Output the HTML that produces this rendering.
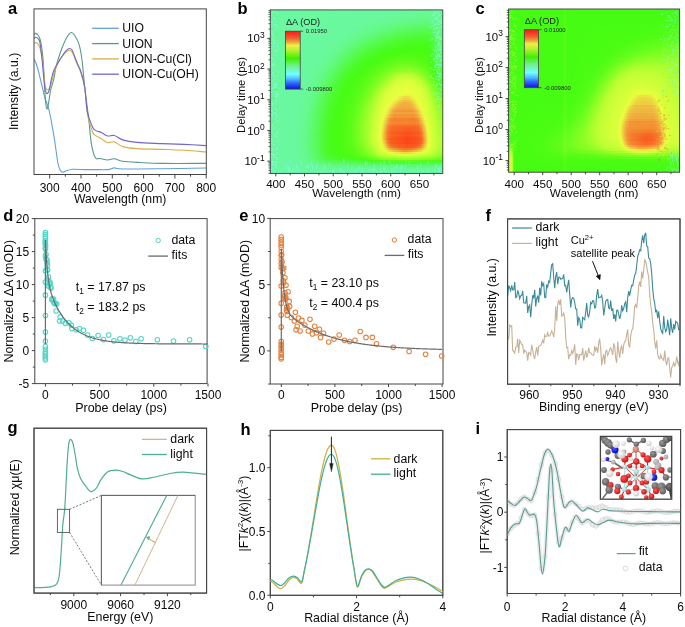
<!DOCTYPE html>
<html><head><meta charset="utf-8"><style>
html,body{margin:0;padding:0;background:#fff;width:685px;height:627px;overflow:hidden}
svg{display:block;filter:blur(0.35px)}
text{font-family:"Liberation Sans", sans-serif}
</style></head><body>
<svg width="685" height="627" viewBox="0 0 685 627" font-family='"Liberation Sans", sans-serif'>
<defs><clipPath id="clipa"><rect x="34" y="8.9" width="172.3" height="165.6"/></clipPath><clipPath id="clipg"><rect x="34" y="428.2" width="172.6" height="164.9"/></clipPath><clipPath id="clipi"><rect x="507.2" y="429.6" width="173.4" height="163.9"/></clipPath><clipPath id="clipmol"><rect x="600.4" y="436.4" width="71.3" height="62.8"/></clipPath></defs>
<rect width="685" height="627" fill="#fff"/>
<g clip-path="url(#clipa)">
<path d="M34,59 C34.5,60.17 35.8,62.08 37,66 C38.2,69.92 39.87,77.17 41.2,82.5 C42.53,87.83 43.68,93.37 45,98 C46.32,102.63 47.62,104 49.1,110.3 C50.58,116.6 52.43,127.02 53.9,135.8 C55.37,144.58 56.8,157.22 57.9,163 C59,168.78 59.7,168.97 60.5,170.5 C61.3,172.03 61.78,172.12 62.7,172.2 C63.62,172.28 64.4,171.48 66,171 C67.6,170.52 69.13,169.53 72.3,169.3 C75.47,169.07 81.22,169.55 85,169.6 C88.78,169.65 91.23,169.6 95,169.6 C98.77,169.6 104.38,169.88 107.6,169.6 C110.82,169.32 111.78,168 114.3,167.9 C116.82,167.8 114.75,168.87 122.7,169 C130.65,169.13 148.12,168.87 162,168.7 C175.88,168.53 198.67,168.12 206,168" stroke="#62a0d8" stroke-width="1.1" fill="none"/>
<path d="M34,34.5 C34.25,34.32 34.83,33.32 35.5,33.4 C36.17,33.48 37.25,34.07 38,35 C38.75,35.93 39.37,36.83 40,39 C40.63,41.17 41.28,44.5 41.8,48 C42.32,51.5 42.73,55.5 43.1,60 C43.47,64.5 43.68,69.17 44,75 C44.32,80.83 44.7,90.17 45,95 C45.3,99.83 45.5,101.73 45.8,104 C46.1,106.27 46.43,108.18 46.8,108.6 C47.17,109.02 47.35,109.6 48,106.5 C48.65,103.4 49.77,94.42 50.7,90 C51.63,85.58 52.72,83.83 53.6,80 C54.48,76.17 55.28,70.33 56,67 C56.72,63.67 56.9,63.17 57.9,60 C58.9,56.83 60.48,51.83 62,48 C63.52,44.17 65.45,39.58 67,37 C68.55,34.42 69.97,32.67 71.3,32.5 C72.63,32.33 73.7,33.98 75,36 C76.3,38.02 77.93,40.6 79.1,44.6 C80.27,48.6 81.07,52.93 82,60 C82.93,67.07 83.87,79.5 84.7,87 C85.53,94.5 86.28,99.25 87,105 C87.72,110.75 88.27,115.03 89,121.5 C89.73,127.97 90.33,137.75 91.4,143.8 C92.47,149.85 93.97,155.35 95.4,157.8 C96.83,160.25 97.97,158.13 100,158.5 C102.03,158.87 105.22,159.97 107.6,160 C109.98,160.03 111.78,158.5 114.3,158.7 C116.82,158.9 118.42,160.57 122.7,161.2 C126.98,161.83 133.45,162.13 140,162.5 C146.55,162.87 151,163.25 162,163.4 C173,163.55 198.67,163.4 206,163.4" stroke="#559a8c" stroke-width="1.1" fill="none"/>
<path d="M34,43.4 C34.33,43.25 35.33,42.4 36,42.5 C36.67,42.6 37.33,43.08 38,44 C38.67,44.92 39.23,45.33 40,48 C40.77,50.67 42.02,56.33 42.6,60 C43.18,63.67 43.18,66.67 43.5,70 C43.82,73.33 44.2,77.33 44.5,80 C44.8,82.67 44.95,84.43 45.3,86 C45.65,87.57 46.12,88.8 46.6,89.4 C47.08,90 47.67,89.92 48.2,89.6 C48.73,89.28 49.33,88.43 49.8,87.5 C50.27,86.57 50.6,85.25 51,84 C51.4,82.75 51.53,82.33 52.2,80 C52.87,77.67 53.8,73.33 55,70 C56.2,66.67 58.23,62.25 59.4,60 C60.57,57.75 61.07,57.67 62,56.5 C62.93,55.33 63.92,54.02 65,53 C66.08,51.98 67.33,50.57 68.5,50.4 C69.67,50.23 70.6,49.82 72,52 C73.4,54.18 75.4,60 76.9,63.5 C78.4,67 79.7,68.92 81,73 C82.3,77.08 83.63,81.17 84.7,88 C85.77,94.83 86.15,106.83 87.4,114 C88.65,121.17 90.93,127.47 92.2,131 C93.47,134.53 93.42,133.87 95,135.2 C96.58,136.53 99.6,137.75 101.7,139 C103.8,140.25 105.5,142.22 107.6,142.7 C109.7,143.18 111.78,141.25 114.3,141.9 C116.82,142.55 118.92,145.48 122.7,146.6 C126.48,147.72 130.45,148.13 137,148.6 C143.55,149.07 154.17,149.12 162,149.4 C169.83,149.68 176.67,149.87 184,150.3 C191.33,150.73 202.33,151.72 206,152" stroke="#d6ae44" stroke-width="1.1" fill="none"/>
<path d="M34,38.4 C34.27,38.22 34.93,37.28 35.6,37.3 C36.27,37.32 37.27,37.55 38,38.5 C38.73,39.45 39.32,39.42 40,43 C40.68,46.58 41.6,55.5 42.1,60 C42.6,64.5 42.68,66.67 43,70 C43.32,73.33 43.67,76.92 44,80 C44.33,83.08 44.62,86.33 45,88.5 C45.38,90.67 45.83,92.22 46.3,93 C46.77,93.78 47.27,93.87 47.8,93.2 C48.33,92.53 48.93,91.2 49.5,89 C50.07,86.8 50.45,83.17 51.2,80 C51.95,76.83 52.57,73.33 54,70 C55.43,66.67 58.47,62.25 59.8,60 C61.13,57.75 61.13,57.83 62,56.5 C62.87,55.17 63.92,53.28 65,52 C66.08,50.72 67.33,49.13 68.5,48.8 C69.67,48.47 70.6,47.73 72,50 C73.4,52.27 75.4,58.73 76.9,62.4 C78.4,66.07 79.7,67.9 81,72 C82.3,76.1 83.63,80.35 84.7,87 C85.77,93.65 86.15,105.35 87.4,111.9 C88.65,118.45 90.93,123.27 92.2,126.3 C93.47,129.33 93.42,129.03 95,130.1 C96.58,131.17 99.6,131.72 101.7,132.7 C103.8,133.68 105.5,135.53 107.6,136 C109.7,136.47 111.78,134.85 114.3,135.5 C116.82,136.15 118.92,138.75 122.7,139.9 C126.48,141.05 130.43,141.78 137,142.4 C143.57,143.02 154.27,143.27 162.1,143.6 C169.93,143.93 176.68,144.07 184,144.4 C191.32,144.73 202.33,145.4 206,145.6" stroke="#7266cc" stroke-width="1.1" fill="none"/>
</g>
<rect x="34" y="8.9" width="172.3" height="165.6" stroke="#454545" stroke-width="1" fill="none"/>
<line x1="49.7" y1="174.5" x2="49.7" y2="178.5" stroke="#454545" stroke-width="1"/>
<text x="49.7" y="191.6" font-size="12" text-anchor="middle" fill="#0a0a0a">300</text>
<line x1="81" y1="174.5" x2="81" y2="178.5" stroke="#454545" stroke-width="1"/>
<text x="81" y="191.6" font-size="12" text-anchor="middle" fill="#0a0a0a">400</text>
<line x1="112.3" y1="174.5" x2="112.3" y2="178.5" stroke="#454545" stroke-width="1"/>
<text x="112.3" y="191.6" font-size="12" text-anchor="middle" fill="#0a0a0a">500</text>
<line x1="143.6" y1="174.5" x2="143.6" y2="178.5" stroke="#454545" stroke-width="1"/>
<text x="143.6" y="191.6" font-size="12" text-anchor="middle" fill="#0a0a0a">600</text>
<line x1="174.9" y1="174.5" x2="174.9" y2="178.5" stroke="#454545" stroke-width="1"/>
<text x="174.9" y="191.6" font-size="12" text-anchor="middle" fill="#0a0a0a">700</text>
<line x1="206.2" y1="174.5" x2="206.2" y2="178.5" stroke="#454545" stroke-width="1"/>
<text x="206.2" y="191.6" font-size="12" text-anchor="middle" fill="#0a0a0a">800</text>
<line x1="65.35" y1="174.5" x2="65.35" y2="176.7" stroke="#454545" stroke-width="1"/>
<line x1="96.65" y1="174.5" x2="96.65" y2="176.7" stroke="#454545" stroke-width="1"/>
<line x1="127.95" y1="174.5" x2="127.95" y2="176.7" stroke="#454545" stroke-width="1"/>
<line x1="159.25" y1="174.5" x2="159.25" y2="176.7" stroke="#454545" stroke-width="1"/>
<line x1="190.55" y1="174.5" x2="190.55" y2="176.7" stroke="#454545" stroke-width="1"/>
<text x="120.2" y="202.8" font-size="12.2" text-anchor="middle" fill="#0a0a0a">Wavelength (nm)</text>
<text x="17.6" y="91.4" font-size="12.2" text-anchor="middle" fill="#0a0a0a" transform="rotate(-90 17.6 91.4)">Intensity (a.u.)</text>
<text x="8" y="13.6" font-size="16.5" text-anchor="start" font-weight="bold" fill="#000">a</text>
<line x1="92.2" y1="28.3" x2="118.8" y2="28.3" stroke="#62a0d8" stroke-width="1.3"/>
<text x="122.2" y="32.2" font-size="12.2" text-anchor="start" fill="#0a0a0a">UIO</text>
<line x1="92.2" y1="43.6" x2="118.8" y2="43.6" stroke="#559a8c" stroke-width="1.3"/>
<text x="122.2" y="47.5" font-size="12.2" text-anchor="start" fill="#0a0a0a">UION</text>
<line x1="92.2" y1="58.9" x2="118.8" y2="58.9" stroke="#d6ae44" stroke-width="1.3"/>
<text x="122.2" y="62.8" font-size="12.2" text-anchor="start" fill="#0a0a0a">UION-Cu(Cl)</text>
<line x1="92.2" y1="74.2" x2="118.8" y2="74.2" stroke="#7266cc" stroke-width="1.3"/>
<text x="122.2" y="78.1" font-size="12.2" text-anchor="start" fill="#0a0a0a">UION-Cu(OH)</text>
<defs><linearGradient id="b0"><stop offset="0.003" stop-color="#6af8a2"/><stop offset="0.685" stop-color="#6af89e"/><stop offset="0.939" stop-color="#67f896"/><stop offset="0.997" stop-color="#69f89b"/></linearGradient>
<linearGradient id="b2"><stop offset="0.003" stop-color="#6af8a2"/><stop offset="0.668" stop-color="#6af89e"/><stop offset="0.934" stop-color="#67f994"/><stop offset="0.997" stop-color="#69f89b"/></linearGradient>
<linearGradient id="b4"><stop offset="0.003" stop-color="#6af8a2"/><stop offset="0.639" stop-color="#6af89e"/><stop offset="0.934" stop-color="#66f991"/><stop offset="0.997" stop-color="#68f899"/></linearGradient>
<linearGradient id="b6"><stop offset="0.003" stop-color="#6af8a2"/><stop offset="0.616" stop-color="#6af89e"/><stop offset="0.928" stop-color="#65f98c"/><stop offset="0.991" stop-color="#68f897"/><stop offset="0.997" stop-color="#68f897"/></linearGradient>
<linearGradient id="b8"><stop offset="0.003" stop-color="#6af8a2"/><stop offset="0.587" stop-color="#6af89e"/><stop offset="0.922" stop-color="#63f986"/><stop offset="0.986" stop-color="#67f994"/><stop offset="0.997" stop-color="#67f995"/></linearGradient>
<linearGradient id="b10"><stop offset="0.003" stop-color="#6af8a2"/><stop offset="0.558" stop-color="#6af89e"/><stop offset="0.922" stop-color="#62f97f"/><stop offset="0.986" stop-color="#66f991"/><stop offset="0.997" stop-color="#66f991"/></linearGradient>
<linearGradient id="b12"><stop offset="0.003" stop-color="#6af8a2"/><stop offset="0.535" stop-color="#6af89e"/><stop offset="0.916" stop-color="#5ff976"/><stop offset="0.945" stop-color="#62f97f"/><stop offset="0.980" stop-color="#65f98d"/><stop offset="0.997" stop-color="#65f98e"/></linearGradient>
<linearGradient id="b14"><stop offset="0.003" stop-color="#6af8a2"/><stop offset="0.512" stop-color="#6af89e"/><stop offset="0.668" stop-color="#65f98b"/><stop offset="0.905" stop-color="#5dfa6d"/><stop offset="0.934" stop-color="#5ef971"/><stop offset="0.974" stop-color="#64f987"/><stop offset="0.997" stop-color="#64f98a"/></linearGradient>
<linearGradient id="b16"><stop offset="0.003" stop-color="#6af8a2"/><stop offset="0.488" stop-color="#6af89e"/><stop offset="0.627" stop-color="#65f98d"/><stop offset="0.835" stop-color="#5cfa6a"/><stop offset="0.916" stop-color="#5afa63"/><stop offset="0.939" stop-color="#5dfa6c"/><stop offset="0.968" stop-color="#62f980"/><stop offset="0.997" stop-color="#63f985"/></linearGradient>
<linearGradient id="b18"><stop offset="0.003" stop-color="#6af8a2"/><stop offset="0.465" stop-color="#6af89f"/><stop offset="0.592" stop-color="#65f98e"/><stop offset="0.789" stop-color="#5bfa66"/><stop offset="0.910" stop-color="#58fa58"/><stop offset="0.934" stop-color="#59fa5f"/><stop offset="0.968" stop-color="#61f97b"/><stop offset="0.997" stop-color="#62f981"/></linearGradient>
<linearGradient id="b20"><stop offset="0.003" stop-color="#6af8a2"/><stop offset="0.448" stop-color="#6af89e"/><stop offset="0.569" stop-color="#65f98e"/><stop offset="0.766" stop-color="#5afa5f"/><stop offset="0.910" stop-color="#55fa4e"/><stop offset="0.934" stop-color="#57fa55"/><stop offset="0.968" stop-color="#5ff976"/><stop offset="0.997" stop-color="#61f97d"/></linearGradient>
<linearGradient id="b22"><stop offset="0.003" stop-color="#6af8a2"/><stop offset="0.431" stop-color="#6af89f"/><stop offset="0.546" stop-color="#65f98e"/><stop offset="0.749" stop-color="#58fa58"/><stop offset="0.905" stop-color="#52fb43"/><stop offset="0.928" stop-color="#54fb48"/><stop offset="0.951" stop-color="#5afa60"/><stop offset="0.968" stop-color="#5ef971"/><stop offset="0.997" stop-color="#60f978"/></linearGradient>
<linearGradient id="b24"><stop offset="0.003" stop-color="#6af8a2"/><stop offset="0.419" stop-color="#6af89e"/><stop offset="0.529" stop-color="#65f98c"/><stop offset="0.737" stop-color="#56fa4f"/><stop offset="0.899" stop-color="#50fb3a"/><stop offset="0.928" stop-color="#52fb40"/><stop offset="0.951" stop-color="#58fa59"/><stop offset="0.968" stop-color="#5dfa6c"/><stop offset="0.997" stop-color="#5ff975"/></linearGradient>
<linearGradient id="b26"><stop offset="0.003" stop-color="#6af8a2"/><stop offset="0.402" stop-color="#6af89e"/><stop offset="0.506" stop-color="#65f98d"/><stop offset="0.725" stop-color="#54fb48"/><stop offset="0.882" stop-color="#4efb31"/><stop offset="0.922" stop-color="#4ffb35"/><stop offset="0.939" stop-color="#52fb43"/><stop offset="0.962" stop-color="#5afa63"/><stop offset="0.986" stop-color="#5efa70"/><stop offset="0.997" stop-color="#5ef971"/></linearGradient>
<linearGradient id="b28"><stop offset="0.003" stop-color="#6af8a2"/><stop offset="0.390" stop-color="#6af89e"/><stop offset="0.483" stop-color="#65f98e"/><stop offset="0.708" stop-color="#52fb42"/><stop offset="0.841" stop-color="#4dfb2d"/><stop offset="0.910" stop-color="#4cfb2a"/><stop offset="0.928" stop-color="#4efb31"/><stop offset="0.945" stop-color="#53fb46"/><stop offset="0.968" stop-color="#5bfa64"/><stop offset="0.991" stop-color="#5dfa6d"/><stop offset="0.997" stop-color="#5dfa6e"/></linearGradient>
<linearGradient id="b30"><stop offset="0.003" stop-color="#6af8a2"/><stop offset="0.379" stop-color="#6af89e"/><stop offset="0.465" stop-color="#65f98e"/><stop offset="0.691" stop-color="#51fb3c"/><stop offset="0.806" stop-color="#4cfb29"/><stop offset="0.910" stop-color="#4afc23"/><stop offset="0.928" stop-color="#4cfb2b"/><stop offset="0.945" stop-color="#52fb41"/><stop offset="0.962" stop-color="#59fa5b"/><stop offset="0.980" stop-color="#5cfa68"/><stop offset="0.997" stop-color="#5dfa6c"/></linearGradient>
<linearGradient id="b32"><stop offset="0.003" stop-color="#6af8a2"/><stop offset="0.361" stop-color="#6af89f"/><stop offset="0.448" stop-color="#66f98f"/><stop offset="0.673" stop-color="#50fb38"/><stop offset="0.777" stop-color="#4bfc24"/><stop offset="0.905" stop-color="#49fc1d"/><stop offset="0.928" stop-color="#4bfb26"/><stop offset="0.945" stop-color="#51fb3d"/><stop offset="0.962" stop-color="#58fa59"/><stop offset="0.980" stop-color="#5bfa66"/><stop offset="0.997" stop-color="#5cfa69"/></linearGradient>
<linearGradient id="b34"><stop offset="0.003" stop-color="#6af8a2"/><stop offset="0.355" stop-color="#6af89e"/><stop offset="0.436" stop-color="#65f98e"/><stop offset="0.645" stop-color="#50fb38"/><stop offset="0.743" stop-color="#4afc22"/><stop offset="0.899" stop-color="#48fc18"/><stop offset="0.922" stop-color="#49fc1e"/><stop offset="0.939" stop-color="#4efb31"/><stop offset="0.962" stop-color="#57fa56"/><stop offset="0.980" stop-color="#5bfa64"/><stop offset="0.997" stop-color="#5cfa68"/></linearGradient>
<linearGradient id="b36"><stop offset="0.003" stop-color="#6af8a2"/><stop offset="0.344" stop-color="#6af89e"/><stop offset="0.419" stop-color="#66f98f"/><stop offset="0.535" stop-color="#59fa5b"/><stop offset="0.645" stop-color="#4efb30"/><stop offset="0.743" stop-color="#48fc1b"/><stop offset="0.899" stop-color="#47fc14"/><stop offset="0.922" stop-color="#48fc1b"/><stop offset="0.939" stop-color="#4dfb2e"/><stop offset="0.962" stop-color="#57fa55"/><stop offset="0.980" stop-color="#5afa62"/><stop offset="0.997" stop-color="#5bfa66"/></linearGradient>
<linearGradient id="b38"><stop offset="0.003" stop-color="#6af8a2"/><stop offset="0.332" stop-color="#6af89e"/><stop offset="0.408" stop-color="#66f98f"/><stop offset="0.500" stop-color="#5bfa64"/><stop offset="0.604" stop-color="#4ffb35"/><stop offset="0.708" stop-color="#48fc1a"/><stop offset="0.824" stop-color="#47fc12"/><stop offset="0.910" stop-color="#46fc13"/><stop offset="0.928" stop-color="#49fc1d"/><stop offset="0.945" stop-color="#4ffb36"/><stop offset="0.962" stop-color="#56fa53"/><stop offset="0.980" stop-color="#5afa61"/><stop offset="0.997" stop-color="#5bfa65"/></linearGradient>
<linearGradient id="b40"><stop offset="0.003" stop-color="#6af8a2"/><stop offset="0.321" stop-color="#6af89e"/><stop offset="0.396" stop-color="#66f98f"/><stop offset="0.477" stop-color="#5cfa68"/><stop offset="0.575" stop-color="#4ffb37"/><stop offset="0.679" stop-color="#48fc1a"/><stop offset="0.749" stop-color="#47fc12"/><stop offset="0.905" stop-color="#48fc12"/><stop offset="0.922" stop-color="#47fc16"/><stop offset="0.939" stop-color="#4cfb2a"/><stop offset="0.962" stop-color="#56fa52"/><stop offset="0.980" stop-color="#5afa60"/><stop offset="0.997" stop-color="#5bfa64"/></linearGradient>
<linearGradient id="b42"><stop offset="0.003" stop-color="#6af8a2"/><stop offset="0.309" stop-color="#6af89f"/><stop offset="0.384" stop-color="#66f98f"/><stop offset="0.460" stop-color="#5cfa6a"/><stop offset="0.558" stop-color="#4ffb36"/><stop offset="0.656" stop-color="#48fc19"/><stop offset="0.708" stop-color="#48fc13"/><stop offset="0.847" stop-color="#4dfc14"/><stop offset="0.922" stop-color="#47fc15"/><stop offset="0.939" stop-color="#4cfb29"/><stop offset="0.962" stop-color="#56fa51"/><stop offset="0.980" stop-color="#5afa5f"/><stop offset="0.997" stop-color="#5bfa63"/></linearGradient>
<linearGradient id="b44"><stop offset="0.003" stop-color="#6af8a2"/><stop offset="0.303" stop-color="#6af89e"/><stop offset="0.373" stop-color="#66f98f"/><stop offset="0.442" stop-color="#5dfa6d"/><stop offset="0.540" stop-color="#4ffb36"/><stop offset="0.633" stop-color="#48fc19"/><stop offset="0.679" stop-color="#48fc13"/><stop offset="0.795" stop-color="#51fc15"/><stop offset="0.910" stop-color="#4afc13"/><stop offset="0.922" stop-color="#46fc13"/><stop offset="0.939" stop-color="#4bfb27"/><stop offset="0.962" stop-color="#56fa50"/><stop offset="0.980" stop-color="#59fa5e"/><stop offset="0.997" stop-color="#5afa62"/></linearGradient>
<linearGradient id="b46"><stop offset="0.003" stop-color="#6af8a2"/><stop offset="0.292" stop-color="#6af89e"/><stop offset="0.361" stop-color="#66f990"/><stop offset="0.431" stop-color="#5dfa6d"/><stop offset="0.529" stop-color="#4efb33"/><stop offset="0.616" stop-color="#47fc17"/><stop offset="0.662" stop-color="#4afc13"/><stop offset="0.777" stop-color="#56fc16"/><stop offset="0.905" stop-color="#4dfc14"/><stop offset="0.922" stop-color="#47fc12"/><stop offset="0.934" stop-color="#49fc1d"/><stop offset="0.962" stop-color="#55fa4e"/><stop offset="0.980" stop-color="#59fa5d"/><stop offset="0.997" stop-color="#5afa61"/></linearGradient>
<linearGradient id="b48"><stop offset="0.003" stop-color="#6af8a2"/><stop offset="0.286" stop-color="#69f89e"/><stop offset="0.355" stop-color="#65f98e"/><stop offset="0.425" stop-color="#5cfa69"/><stop offset="0.517" stop-color="#4efb32"/><stop offset="0.598" stop-color="#47fc17"/><stop offset="0.639" stop-color="#49fc13"/><stop offset="0.760" stop-color="#5bfd18"/><stop offset="0.870" stop-color="#55fc16"/><stop offset="0.916" stop-color="#4cfc14"/><stop offset="0.928" stop-color="#46fc14"/><stop offset="0.945" stop-color="#4dfb2e"/><stop offset="0.962" stop-color="#55fa4d"/><stop offset="0.980" stop-color="#59fa5b"/><stop offset="0.997" stop-color="#5afa60"/></linearGradient>
<linearGradient id="b50"><stop offset="0.003" stop-color="#6af8a2"/><stop offset="0.275" stop-color="#6af89e"/><stop offset="0.344" stop-color="#66f98f"/><stop offset="0.413" stop-color="#5cfa6a"/><stop offset="0.506" stop-color="#4efb30"/><stop offset="0.581" stop-color="#47fc17"/><stop offset="0.621" stop-color="#4afc13"/><stop offset="0.754" stop-color="#61fd19"/><stop offset="0.847" stop-color="#5dfd18"/><stop offset="0.916" stop-color="#4efc14"/><stop offset="0.928" stop-color="#47fc12"/><stop offset="0.939" stop-color="#4afc21"/><stop offset="0.962" stop-color="#54fa4a"/><stop offset="0.980" stop-color="#58fa5a"/><stop offset="0.997" stop-color="#59fa5e"/></linearGradient>
<linearGradient id="b52"><stop offset="0.003" stop-color="#6af8a2"/><stop offset="0.269" stop-color="#69f89e"/><stop offset="0.332" stop-color="#66f990"/><stop offset="0.396" stop-color="#5dfa6e"/><stop offset="0.494" stop-color="#4efb30"/><stop offset="0.569" stop-color="#47fc15"/><stop offset="0.616" stop-color="#4cfc14"/><stop offset="0.754" stop-color="#69fd1b"/><stop offset="0.835" stop-color="#65fd1b"/><stop offset="0.916" stop-color="#51fc15"/><stop offset="0.934" stop-color="#47fc15"/><stop offset="0.962" stop-color="#54fb48"/><stop offset="0.980" stop-color="#58fa57"/><stop offset="0.997" stop-color="#59fa5c"/></linearGradient>
<linearGradient id="b54"><stop offset="0.003" stop-color="#6af8a2"/><stop offset="0.257" stop-color="#6af89f"/><stop offset="0.321" stop-color="#66f991"/><stop offset="0.384" stop-color="#5efa6f"/><stop offset="0.483" stop-color="#4dfb2f"/><stop offset="0.552" stop-color="#47fc16"/><stop offset="0.592" stop-color="#4bfc13"/><stop offset="0.749" stop-color="#70fd1e"/><stop offset="0.824" stop-color="#6ffd1d"/><stop offset="0.910" stop-color="#58fc17"/><stop offset="0.934" stop-color="#47fc12"/><stop offset="0.962" stop-color="#53fb44"/><stop offset="0.980" stop-color="#57fa54"/><stop offset="0.997" stop-color="#58fa59"/></linearGradient>
<linearGradient id="b56"><stop offset="0.003" stop-color="#6af8a2"/><stop offset="0.251" stop-color="#6af89e"/><stop offset="0.315" stop-color="#66f990"/><stop offset="0.379" stop-color="#5dfa6d"/><stop offset="0.471" stop-color="#4dfb30"/><stop offset="0.540" stop-color="#47fc15"/><stop offset="0.587" stop-color="#4cfc14"/><stop offset="0.749" stop-color="#7afd20"/><stop offset="0.812" stop-color="#7afd20"/><stop offset="0.893" stop-color="#64fd1a"/><stop offset="0.928" stop-color="#51fc15"/><stop offset="0.939" stop-color="#47fc16"/><stop offset="0.962" stop-color="#52fb40"/><stop offset="0.980" stop-color="#56fa50"/><stop offset="0.997" stop-color="#57fa55"/></linearGradient>
<linearGradient id="b58"><stop offset="0.003" stop-color="#6af8a2"/><stop offset="0.246" stop-color="#6af89e"/><stop offset="0.309" stop-color="#66f98f"/><stop offset="0.373" stop-color="#5cfa6b"/><stop offset="0.460" stop-color="#4efb30"/><stop offset="0.523" stop-color="#47fc17"/><stop offset="0.558" stop-color="#49fc13"/><stop offset="0.650" stop-color="#63fd1a"/><stop offset="0.749" stop-color="#85fe23"/><stop offset="0.806" stop-color="#86fe24"/><stop offset="0.870" stop-color="#74fd1f"/><stop offset="0.922" stop-color="#5afd17"/><stop offset="0.939" stop-color="#47fc12"/><stop offset="0.968" stop-color="#52fb42"/><stop offset="0.991" stop-color="#56fa50"/><stop offset="0.997" stop-color="#56fa51"/></linearGradient>
<linearGradient id="b60"><stop offset="0.003" stop-color="#6af8a2"/><stop offset="0.240" stop-color="#6af89e"/><stop offset="0.303" stop-color="#65f98e"/><stop offset="0.367" stop-color="#5cfa69"/><stop offset="0.454" stop-color="#4dfb2d"/><stop offset="0.523" stop-color="#46fc13"/><stop offset="0.610" stop-color="#59fd17"/><stop offset="0.754" stop-color="#93fe27"/><stop offset="0.806" stop-color="#95fe27"/><stop offset="0.858" stop-color="#83fe23"/><stop offset="0.922" stop-color="#5ffd19"/><stop offset="0.945" stop-color="#47fc15"/><stop offset="0.962" stop-color="#4ffb34"/><stop offset="0.980" stop-color="#53fb46"/><stop offset="0.997" stop-color="#54fa4b"/></linearGradient>
<linearGradient id="b62"><stop offset="0.003" stop-color="#6af8a2"/><stop offset="0.234" stop-color="#6af89e"/><stop offset="0.292" stop-color="#66f990"/><stop offset="0.350" stop-color="#5efa6f"/><stop offset="0.442" stop-color="#4dfb2e"/><stop offset="0.506" stop-color="#47fc15"/><stop offset="0.558" stop-color="#4efc14"/><stop offset="0.633" stop-color="#67fd1b"/><stop offset="0.754" stop-color="#a4ff2c"/><stop offset="0.801" stop-color="#a7ff2c"/><stop offset="0.841" stop-color="#99fe29"/><stop offset="0.922" stop-color="#65fd1a"/><stop offset="0.945" stop-color="#49fc13"/><stop offset="0.962" stop-color="#4dfb2d"/><stop offset="0.980" stop-color="#51fb3f"/><stop offset="0.997" stop-color="#53fb45"/></linearGradient>
<linearGradient id="b64"><stop offset="0.003" stop-color="#6af8a2"/><stop offset="0.228" stop-color="#6af89e"/><stop offset="0.286" stop-color="#66f990"/><stop offset="0.344" stop-color="#5dfa6e"/><stop offset="0.431" stop-color="#4dfb30"/><stop offset="0.494" stop-color="#47fc15"/><stop offset="0.535" stop-color="#4bfc13"/><stop offset="0.610" stop-color="#62fd1a"/><stop offset="0.691" stop-color="#8efe26"/><stop offset="0.743" stop-color="#b1ff2f"/><stop offset="0.783" stop-color="#b9ff31"/><stop offset="0.824" stop-color="#b3ff30"/><stop offset="0.858" stop-color="#9dfe2a"/><stop offset="0.928" stop-color="#65fd1b"/><stop offset="0.951" stop-color="#47fc13"/><stop offset="0.974" stop-color="#4efb33"/><stop offset="0.997" stop-color="#51fb3d"/></linearGradient>
<linearGradient id="b66"><stop offset="0.003" stop-color="#6af8a2"/><stop offset="0.223" stop-color="#6af89e"/><stop offset="0.280" stop-color="#66f990"/><stop offset="0.338" stop-color="#5dfa6d"/><stop offset="0.425" stop-color="#4dfb2e"/><stop offset="0.488" stop-color="#47fc14"/><stop offset="0.564" stop-color="#55fc16"/><stop offset="0.639" stop-color="#77fd1f"/><stop offset="0.697" stop-color="#9ffe2a"/><stop offset="0.731" stop-color="#b9ff32"/><stop offset="0.772" stop-color="#c5ff35"/><stop offset="0.824" stop-color="#c0ff34"/><stop offset="0.853" stop-color="#b2ff2f"/><stop offset="0.934" stop-color="#65fd1a"/><stop offset="0.957" stop-color="#47fc14"/><stop offset="0.974" stop-color="#4cfb2a"/><stop offset="0.997" stop-color="#4ffb34"/></linearGradient>
<linearGradient id="b68"><stop offset="0.003" stop-color="#6af8a2"/><stop offset="0.217" stop-color="#6af89e"/><stop offset="0.275" stop-color="#66f990"/><stop offset="0.327" stop-color="#5ef971"/><stop offset="0.413" stop-color="#4efb30"/><stop offset="0.471" stop-color="#47fc17"/><stop offset="0.506" stop-color="#49fc13"/><stop offset="0.575" stop-color="#5cfd18"/><stop offset="0.650" stop-color="#85fe23"/><stop offset="0.720" stop-color="#beff33"/><stop offset="0.760" stop-color="#ceff38"/><stop offset="0.812" stop-color="#ceff38"/><stop offset="0.853" stop-color="#bdff33"/><stop offset="0.876" stop-color="#a9ff2d"/><stop offset="0.939" stop-color="#64fd1a"/><stop offset="0.962" stop-color="#47fc14"/><stop offset="0.986" stop-color="#4bfb28"/><stop offset="0.997" stop-color="#4cfb2b"/></linearGradient>
<linearGradient id="b70"><stop offset="0.003" stop-color="#6af8a2"/><stop offset="0.211" stop-color="#6af89e"/><stop offset="0.269" stop-color="#66f990"/><stop offset="0.321" stop-color="#5ef971"/><stop offset="0.408" stop-color="#4dfb2f"/><stop offset="0.465" stop-color="#47fc16"/><stop offset="0.500" stop-color="#4afc13"/><stop offset="0.569" stop-color="#5dfd18"/><stop offset="0.639" stop-color="#85fe23"/><stop offset="0.708" stop-color="#c0ff34"/><stop offset="0.749" stop-color="#d5ff3a"/><stop offset="0.801" stop-color="#d9ff3b"/><stop offset="0.841" stop-color="#ceff38"/><stop offset="0.882" stop-color="#b0ff2f"/><stop offset="0.951" stop-color="#5cfd18"/><stop offset="0.968" stop-color="#48fc13"/><stop offset="0.997" stop-color="#4afc21"/></linearGradient>
<linearGradient id="b72"><stop offset="0.003" stop-color="#6af8a2"/><stop offset="0.211" stop-color="#69f89e"/><stop offset="0.269" stop-color="#65f98e"/><stop offset="0.321" stop-color="#5dfa6c"/><stop offset="0.402" stop-color="#4dfb2e"/><stop offset="0.460" stop-color="#47fc15"/><stop offset="0.512" stop-color="#4efc14"/><stop offset="0.575" stop-color="#64fd1a"/><stop offset="0.639" stop-color="#8efe26"/><stop offset="0.691" stop-color="#bdff33"/><stop offset="0.737" stop-color="#d8ff3b"/><stop offset="0.789" stop-color="#dfff3d"/><stop offset="0.835" stop-color="#d8ff3b"/><stop offset="0.876" stop-color="#bfff33"/><stop offset="0.893" stop-color="#afff2f"/><stop offset="0.962" stop-color="#55fc16"/><stop offset="0.980" stop-color="#48fc13"/><stop offset="0.997" stop-color="#47fc16"/></linearGradient>
<linearGradient id="b74"><stop offset="0.003" stop-color="#6af8a2"/><stop offset="0.205" stop-color="#69f89e"/><stop offset="0.263" stop-color="#65f98e"/><stop offset="0.315" stop-color="#5dfa6c"/><stop offset="0.396" stop-color="#4dfb2d"/><stop offset="0.448" stop-color="#47fc16"/><stop offset="0.483" stop-color="#4afc13"/><stop offset="0.552" stop-color="#5dfd18"/><stop offset="0.616" stop-color="#83fe23"/><stop offset="0.656" stop-color="#a9ff2d"/><stop offset="0.685" stop-color="#c2ff34"/><stop offset="0.731" stop-color="#dbff3c"/><stop offset="0.789" stop-color="#e2ff3e"/><stop offset="0.841" stop-color="#dbff3c"/><stop offset="0.876" stop-color="#c8ff36"/><stop offset="0.899" stop-color="#b3ff30"/><stop offset="0.962" stop-color="#5dfd18"/><stop offset="0.986" stop-color="#4efc14"/><stop offset="0.997" stop-color="#4bfc13"/></linearGradient>
<linearGradient id="b76"><stop offset="0.003" stop-color="#6af8a2"/><stop offset="0.199" stop-color="#6af89e"/><stop offset="0.257" stop-color="#66f98e"/><stop offset="0.309" stop-color="#5dfa6d"/><stop offset="0.390" stop-color="#4dfb2d"/><stop offset="0.442" stop-color="#47fc16"/><stop offset="0.483" stop-color="#4bfc13"/><stop offset="0.546" stop-color="#5dfd18"/><stop offset="0.610" stop-color="#85fe23"/><stop offset="0.650" stop-color="#aeff2e"/><stop offset="0.697" stop-color="#d2ff39"/><stop offset="0.737" stop-color="#e0ff3d"/><stop offset="0.829" stop-color="#e1ff3d"/><stop offset="0.864" stop-color="#d6ff3a"/><stop offset="0.905" stop-color="#b5ff30"/><stop offset="0.957" stop-color="#6bfd1c"/><stop offset="0.980" stop-color="#58fc17"/><stop offset="0.997" stop-color="#53fc16"/></linearGradient>
<linearGradient id="b78"><stop offset="0.003" stop-color="#6af8a2"/><stop offset="0.194" stop-color="#6af89e"/><stop offset="0.251" stop-color="#66f98f"/><stop offset="0.303" stop-color="#5dfa6e"/><stop offset="0.384" stop-color="#4dfb2d"/><stop offset="0.436" stop-color="#47fc15"/><stop offset="0.477" stop-color="#4bfc13"/><stop offset="0.540" stop-color="#5efd18"/><stop offset="0.604" stop-color="#86fe23"/><stop offset="0.639" stop-color="#aaff2d"/><stop offset="0.668" stop-color="#c5ff35"/><stop offset="0.708" stop-color="#dcff3c"/><stop offset="0.772" stop-color="#e4ff3e"/><stop offset="0.853" stop-color="#dfff3d"/><stop offset="0.882" stop-color="#d1ff39"/><stop offset="0.910" stop-color="#b6ff31"/><stop offset="0.951" stop-color="#79fd20"/><stop offset="0.974" stop-color="#63fd1a"/><stop offset="0.997" stop-color="#5bfd18"/></linearGradient>
<linearGradient id="b80"><stop offset="0.003" stop-color="#6af8a2"/><stop offset="0.194" stop-color="#69f89e"/><stop offset="0.246" stop-color="#66f990"/><stop offset="0.298" stop-color="#5dfa6e"/><stop offset="0.379" stop-color="#4dfb2d"/><stop offset="0.431" stop-color="#47fc15"/><stop offset="0.471" stop-color="#4bfc13"/><stop offset="0.535" stop-color="#5efd19"/><stop offset="0.598" stop-color="#87fe24"/><stop offset="0.633" stop-color="#abff2e"/><stop offset="0.668" stop-color="#ccff37"/><stop offset="0.702" stop-color="#deff3c"/><stop offset="0.789" stop-color="#e6ff3f"/><stop offset="0.864" stop-color="#deff3c"/><stop offset="0.893" stop-color="#cdff37"/><stop offset="0.916" stop-color="#b5ff30"/><stop offset="0.951" stop-color="#80fe22"/><stop offset="0.974" stop-color="#6afd1c"/><stop offset="0.997" stop-color="#63fd1a"/></linearGradient>
<linearGradient id="b82"><stop offset="0.003" stop-color="#6af8a2"/><stop offset="0.188" stop-color="#69f89e"/><stop offset="0.240" stop-color="#66f990"/><stop offset="0.292" stop-color="#5efa70"/><stop offset="0.373" stop-color="#4dfb2e"/><stop offset="0.425" stop-color="#47fc15"/><stop offset="0.460" stop-color="#4afc13"/><stop offset="0.523" stop-color="#5cfd18"/><stop offset="0.587" stop-color="#83fe23"/><stop offset="0.621" stop-color="#a5ff2c"/><stop offset="0.645" stop-color="#beff33"/><stop offset="0.679" stop-color="#d9ff3b"/><stop offset="0.720" stop-color="#e3ff3e"/><stop offset="0.801" stop-color="#e9ff40"/><stop offset="0.876" stop-color="#dcff3c"/><stop offset="0.905" stop-color="#c6ff35"/><stop offset="0.922" stop-color="#b4ff30"/><stop offset="0.951" stop-color="#87fe24"/><stop offset="0.974" stop-color="#71fd1e"/><stop offset="0.997" stop-color="#6afd1c"/></linearGradient>
<linearGradient id="b84"><stop offset="0.003" stop-color="#6af8a2"/><stop offset="0.188" stop-color="#69f89e"/><stop offset="0.240" stop-color="#66f98f"/><stop offset="0.292" stop-color="#5dfa6c"/><stop offset="0.367" stop-color="#4dfb2e"/><stop offset="0.419" stop-color="#47fc16"/><stop offset="0.454" stop-color="#4afc13"/><stop offset="0.517" stop-color="#5cfd18"/><stop offset="0.581" stop-color="#83fe23"/><stop offset="0.616" stop-color="#a5ff2c"/><stop offset="0.639" stop-color="#beff33"/><stop offset="0.673" stop-color="#d9ff3b"/><stop offset="0.714" stop-color="#e3ff3e"/><stop offset="0.760" stop-color="#eafc40"/><stop offset="0.789" stop-color="#ebf440"/><stop offset="0.835" stop-color="#e6ff3f"/><stop offset="0.882" stop-color="#dbff3c"/><stop offset="0.910" stop-color="#c4ff35"/><stop offset="0.928" stop-color="#b1ff2f"/><stop offset="0.957" stop-color="#86fe23"/><stop offset="0.980" stop-color="#74fd1f"/><stop offset="0.997" stop-color="#70fd1d"/></linearGradient>
<linearGradient id="b86"><stop offset="0.003" stop-color="#6af8a2"/><stop offset="0.182" stop-color="#69f89e"/><stop offset="0.234" stop-color="#66f98f"/><stop offset="0.286" stop-color="#5dfa6d"/><stop offset="0.367" stop-color="#4cfb2b"/><stop offset="0.419" stop-color="#47fc14"/><stop offset="0.494" stop-color="#55fc16"/><stop offset="0.546" stop-color="#6ffd1d"/><stop offset="0.598" stop-color="#97fe28"/><stop offset="0.633" stop-color="#beff33"/><stop offset="0.668" stop-color="#d9ff3b"/><stop offset="0.708" stop-color="#e4ff3e"/><stop offset="0.737" stop-color="#eafc40"/><stop offset="0.777" stop-color="#eddd40"/><stop offset="0.795" stop-color="#eddd40"/><stop offset="0.818" stop-color="#ebee40"/><stop offset="0.835" stop-color="#eafd40"/><stop offset="0.887" stop-color="#daff3b"/><stop offset="0.922" stop-color="#bcff32"/><stop offset="0.957" stop-color="#8cfe25"/><stop offset="0.980" stop-color="#7afd20"/><stop offset="0.997" stop-color="#76fd1f"/></linearGradient>
<linearGradient id="b88"><stop offset="0.003" stop-color="#6af8a2"/><stop offset="0.176" stop-color="#6af89e"/><stop offset="0.228" stop-color="#66f990"/><stop offset="0.275" stop-color="#5ff974"/><stop offset="0.361" stop-color="#4dfb2c"/><stop offset="0.413" stop-color="#47fc14"/><stop offset="0.488" stop-color="#55fc16"/><stop offset="0.540" stop-color="#6ffd1d"/><stop offset="0.592" stop-color="#97fe28"/><stop offset="0.633" stop-color="#c2ff34"/><stop offset="0.668" stop-color="#dcff3c"/><stop offset="0.725" stop-color="#eafe40"/><stop offset="0.772" stop-color="#edd540"/><stop offset="0.795" stop-color="#edd240"/><stop offset="0.818" stop-color="#ece340"/><stop offset="0.841" stop-color="#eafd40"/><stop offset="0.893" stop-color="#d9ff3b"/><stop offset="0.928" stop-color="#b9ff32"/><stop offset="0.962" stop-color="#8bfe25"/><stop offset="0.986" stop-color="#7dfe21"/><stop offset="0.997" stop-color="#7bfd21"/></linearGradient>
<linearGradient id="b90"><stop offset="0.003" stop-color="#6af8a2"/><stop offset="0.176" stop-color="#69f89e"/><stop offset="0.228" stop-color="#66f98f"/><stop offset="0.280" stop-color="#5dfa6c"/><stop offset="0.355" stop-color="#4dfb2d"/><stop offset="0.408" stop-color="#47fc15"/><stop offset="0.454" stop-color="#4dfc14"/><stop offset="0.512" stop-color="#61fd19"/><stop offset="0.575" stop-color="#8cfe25"/><stop offset="0.633" stop-color="#c7ff36"/><stop offset="0.668" stop-color="#deff3c"/><stop offset="0.708" stop-color="#e9ff40"/><stop offset="0.731" stop-color="#ece940"/><stop offset="0.760" stop-color="#eec840"/><stop offset="0.783" stop-color="#efbd40"/><stop offset="0.806" stop-color="#efc340"/><stop offset="0.829" stop-color="#ece040"/><stop offset="0.853" stop-color="#eaff40"/><stop offset="0.899" stop-color="#d7ff3a"/><stop offset="0.934" stop-color="#b7ff31"/><stop offset="0.962" stop-color="#90fe26"/><stop offset="0.986" stop-color="#82fe22"/><stop offset="0.997" stop-color="#80fe22"/></linearGradient>
<linearGradient id="b92"><stop offset="0.003" stop-color="#6af8a2"/><stop offset="0.171" stop-color="#6af89e"/><stop offset="0.223" stop-color="#66f990"/><stop offset="0.269" stop-color="#5ff973"/><stop offset="0.355" stop-color="#4cfb2b"/><stop offset="0.408" stop-color="#46fc14"/><stop offset="0.483" stop-color="#56fc16"/><stop offset="0.535" stop-color="#72fd1e"/><stop offset="0.587" stop-color="#9cfe29"/><stop offset="0.621" stop-color="#c0ff34"/><stop offset="0.656" stop-color="#dbff3b"/><stop offset="0.697" stop-color="#e9fe40"/><stop offset="0.720" stop-color="#ece440"/><stop offset="0.749" stop-color="#efbe40"/><stop offset="0.772" stop-color="#f0b13f"/><stop offset="0.801" stop-color="#f0b13f"/><stop offset="0.818" stop-color="#efbe40"/><stop offset="0.853" stop-color="#ebf640"/><stop offset="0.864" stop-color="#e8ff3f"/><stop offset="0.905" stop-color="#d5ff3a"/><stop offset="0.939" stop-color="#b4ff30"/><stop offset="0.962" stop-color="#95fe28"/><stop offset="0.986" stop-color="#87fe24"/><stop offset="0.997" stop-color="#85fe23"/></linearGradient>
<linearGradient id="b94"><stop offset="0.003" stop-color="#6af8a2"/><stop offset="0.171" stop-color="#69f89e"/><stop offset="0.223" stop-color="#66f98f"/><stop offset="0.269" stop-color="#5ef970"/><stop offset="0.350" stop-color="#4dfb2c"/><stop offset="0.402" stop-color="#47fc14"/><stop offset="0.477" stop-color="#55fc16"/><stop offset="0.529" stop-color="#71fd1e"/><stop offset="0.581" stop-color="#9bfe29"/><stop offset="0.616" stop-color="#bfff33"/><stop offset="0.650" stop-color="#daff3b"/><stop offset="0.691" stop-color="#eafd40"/><stop offset="0.737" stop-color="#efbd40"/><stop offset="0.760" stop-color="#f0af40"/><stop offset="0.801" stop-color="#f0ae3f"/><stop offset="0.818" stop-color="#f0b640"/><stop offset="0.835" stop-color="#eecd40"/><stop offset="0.858" stop-color="#ebf640"/><stop offset="0.864" stop-color="#eafd40"/><stop offset="0.910" stop-color="#d3ff39"/><stop offset="0.945" stop-color="#b1ff2f"/><stop offset="0.968" stop-color="#95fe28"/><stop offset="0.991" stop-color="#8afe25"/><stop offset="0.997" stop-color="#89fe24"/></linearGradient>
<linearGradient id="b96"><stop offset="0.003" stop-color="#6af8a2"/><stop offset="0.171" stop-color="#69f89d"/><stop offset="0.223" stop-color="#65f98e"/><stop offset="0.275" stop-color="#5cfa69"/><stop offset="0.344" stop-color="#4dfb2e"/><stop offset="0.390" stop-color="#47fc17"/><stop offset="0.419" stop-color="#49fc13"/><stop offset="0.483" stop-color="#59fd17"/><stop offset="0.540" stop-color="#7cfd21"/><stop offset="0.587" stop-color="#a6ff2c"/><stop offset="0.616" stop-color="#c3ff35"/><stop offset="0.650" stop-color="#dcff3c"/><stop offset="0.679" stop-color="#e9ff40"/><stop offset="0.691" stop-color="#ebf340"/><stop offset="0.720" stop-color="#efc340"/><stop offset="0.737" stop-color="#f0b13f"/><stop offset="0.772" stop-color="#f1a93d"/><stop offset="0.812" stop-color="#f0ac3e"/><stop offset="0.829" stop-color="#efb940"/><stop offset="0.864" stop-color="#ebf640"/><stop offset="0.870" stop-color="#eafe40"/><stop offset="0.916" stop-color="#d1ff39"/><stop offset="0.951" stop-color="#adff2e"/><stop offset="0.974" stop-color="#95fe28"/><stop offset="0.997" stop-color="#8dfe25"/></linearGradient>
<linearGradient id="b98"><stop offset="0.003" stop-color="#6af8a2"/><stop offset="0.165" stop-color="#69f89e"/><stop offset="0.217" stop-color="#66f98f"/><stop offset="0.263" stop-color="#5ef971"/><stop offset="0.344" stop-color="#4dfb2c"/><stop offset="0.390" stop-color="#47fc16"/><stop offset="0.419" stop-color="#49fc13"/><stop offset="0.483" stop-color="#5afd17"/><stop offset="0.540" stop-color="#7ffe22"/><stop offset="0.581" stop-color="#a4ff2c"/><stop offset="0.610" stop-color="#c2ff34"/><stop offset="0.645" stop-color="#dcff3c"/><stop offset="0.673" stop-color="#e9ff40"/><stop offset="0.685" stop-color="#ebf140"/><stop offset="0.714" stop-color="#efba40"/><stop offset="0.731" stop-color="#f1a83d"/><stop offset="0.766" stop-color="#f1a23a"/><stop offset="0.818" stop-color="#f1a53c"/><stop offset="0.835" stop-color="#f0b440"/><stop offset="0.858" stop-color="#ece040"/><stop offset="0.876" stop-color="#eafe40"/><stop offset="0.922" stop-color="#cfff38"/><stop offset="0.974" stop-color="#99fe29"/><stop offset="0.997" stop-color="#91fe26"/></linearGradient>
<linearGradient id="b100"><stop offset="0.003" stop-color="#6af8a2"/><stop offset="0.165" stop-color="#69f89e"/><stop offset="0.217" stop-color="#65f98e"/><stop offset="0.263" stop-color="#5dfa6f"/><stop offset="0.338" stop-color="#4dfb2e"/><stop offset="0.384" stop-color="#47fc16"/><stop offset="0.413" stop-color="#49fc13"/><stop offset="0.477" stop-color="#59fd17"/><stop offset="0.529" stop-color="#79fd20"/><stop offset="0.575" stop-color="#a1fe2b"/><stop offset="0.604" stop-color="#c0ff34"/><stop offset="0.639" stop-color="#dbff3c"/><stop offset="0.668" stop-color="#e9ff40"/><stop offset="0.679" stop-color="#ebef40"/><stop offset="0.708" stop-color="#f0ae3f"/><stop offset="0.725" stop-color="#f29a37"/><stop offset="0.760" stop-color="#f39435"/><stop offset="0.818" stop-color="#f39535"/><stop offset="0.835" stop-color="#f2a03a"/><stop offset="0.853" stop-color="#efbf40"/><stop offset="0.876" stop-color="#ebf540"/><stop offset="0.882" stop-color="#eafe40"/><stop offset="0.928" stop-color="#ccff37"/><stop offset="0.974" stop-color="#9cfe2a"/><stop offset="0.997" stop-color="#94fe27"/></linearGradient>
<linearGradient id="b102"><stop offset="0.003" stop-color="#6af8a2"/><stop offset="0.165" stop-color="#69f89d"/><stop offset="0.217" stop-color="#65f98d"/><stop offset="0.263" stop-color="#5dfa6d"/><stop offset="0.338" stop-color="#4dfb2c"/><stop offset="0.384" stop-color="#47fc16"/><stop offset="0.413" stop-color="#49fc13"/><stop offset="0.477" stop-color="#5afd17"/><stop offset="0.535" stop-color="#80fe22"/><stop offset="0.575" stop-color="#a4ff2c"/><stop offset="0.604" stop-color="#c3ff34"/><stop offset="0.639" stop-color="#ddff3c"/><stop offset="0.668" stop-color="#eafc40"/><stop offset="0.685" stop-color="#eddd40"/><stop offset="0.702" stop-color="#efb940"/><stop offset="0.720" stop-color="#f1a63c"/><stop offset="0.760" stop-color="#f1a13a"/><stop offset="0.829" stop-color="#f1a53c"/><stop offset="0.847" stop-color="#f0b540"/><stop offset="0.882" stop-color="#eaf940"/><stop offset="0.887" stop-color="#e8ff40"/><stop offset="0.928" stop-color="#ceff38"/><stop offset="0.974" stop-color="#a0fe2a"/><stop offset="0.997" stop-color="#97fe28"/></linearGradient>
<linearGradient id="b104"><stop offset="0.003" stop-color="#6af8a2"/><stop offset="0.159" stop-color="#69f89e"/><stop offset="0.211" stop-color="#66f98f"/><stop offset="0.257" stop-color="#5ef970"/><stop offset="0.338" stop-color="#4cfb2b"/><stop offset="0.384" stop-color="#47fc15"/><stop offset="0.431" stop-color="#4dfc14"/><stop offset="0.483" stop-color="#5efd19"/><stop offset="0.546" stop-color="#8bfe25"/><stop offset="0.581" stop-color="#aeff2e"/><stop offset="0.627" stop-color="#d8ff3b"/><stop offset="0.656" stop-color="#e8ff3f"/><stop offset="0.662" stop-color="#eafc40"/><stop offset="0.679" stop-color="#edd840"/><stop offset="0.697" stop-color="#f0af3f"/><stop offset="0.708" stop-color="#f29d38"/><stop offset="0.725" stop-color="#f39334"/><stop offset="0.829" stop-color="#f39435"/><stop offset="0.847" stop-color="#f1a13a"/><stop offset="0.864" stop-color="#eec540"/><stop offset="0.882" stop-color="#ebef40"/><stop offset="0.887" stop-color="#eafa40"/><stop offset="0.899" stop-color="#e3ff3e"/><stop offset="0.939" stop-color="#c4ff35"/><stop offset="0.980" stop-color="#9ffe2a"/><stop offset="0.997" stop-color="#9afe29"/></linearGradient>
<linearGradient id="b106"><stop offset="0.003" stop-color="#6af8a2"/><stop offset="0.159" stop-color="#69f89e"/><stop offset="0.211" stop-color="#65f98e"/><stop offset="0.257" stop-color="#5dfa6e"/><stop offset="0.332" stop-color="#4dfb2d"/><stop offset="0.379" stop-color="#47fc16"/><stop offset="0.413" stop-color="#4afc13"/><stop offset="0.471" stop-color="#59fd17"/><stop offset="0.523" stop-color="#7afd20"/><stop offset="0.569" stop-color="#a3ff2b"/><stop offset="0.604" stop-color="#c7ff36"/><stop offset="0.645" stop-color="#e3ff3e"/><stop offset="0.656" stop-color="#eafe40"/><stop offset="0.673" stop-color="#eddc40"/><stop offset="0.691" stop-color="#f0b240"/><stop offset="0.702" stop-color="#f29f39"/><stop offset="0.720" stop-color="#f39435"/><stop offset="0.829" stop-color="#f39334"/><stop offset="0.847" stop-color="#f29d38"/><stop offset="0.858" stop-color="#f0af3f"/><stop offset="0.887" stop-color="#ebf440"/><stop offset="0.893" stop-color="#eafe40"/><stop offset="0.945" stop-color="#c1ff34"/><stop offset="0.980" stop-color="#a2fe2b"/><stop offset="0.997" stop-color="#9cfe2a"/></linearGradient>
<linearGradient id="b108"><stop offset="0.003" stop-color="#6af8a2"/><stop offset="0.159" stop-color="#69f89e"/><stop offset="0.211" stop-color="#65f98d"/><stop offset="0.257" stop-color="#5dfa6d"/><stop offset="0.332" stop-color="#4dfb2c"/><stop offset="0.379" stop-color="#47fc15"/><stop offset="0.408" stop-color="#49fc13"/><stop offset="0.471" stop-color="#5afd18"/><stop offset="0.529" stop-color="#81fe22"/><stop offset="0.569" stop-color="#a5ff2c"/><stop offset="0.598" stop-color="#c3ff34"/><stop offset="0.650" stop-color="#e9ff40"/><stop offset="0.662" stop-color="#ece940"/><stop offset="0.679" stop-color="#efb740"/><stop offset="0.691" stop-color="#f29a37"/><stop offset="0.702" stop-color="#f48830"/><stop offset="0.720" stop-color="#f5802d"/><stop offset="0.835" stop-color="#f5812d"/><stop offset="0.853" stop-color="#f38e32"/><stop offset="0.864" stop-color="#f1a53c"/><stop offset="0.876" stop-color="#eec640"/><stop offset="0.893" stop-color="#ebf540"/><stop offset="0.899" stop-color="#e9ff40"/><stop offset="0.980" stop-color="#a4ff2c"/><stop offset="0.997" stop-color="#9efe2a"/></linearGradient>
<linearGradient id="b110"><stop offset="0.003" stop-color="#6af8a2"/><stop offset="0.159" stop-color="#69f89d"/><stop offset="0.211" stop-color="#65f98d"/><stop offset="0.257" stop-color="#5dfa6b"/><stop offset="0.332" stop-color="#4cfb2b"/><stop offset="0.379" stop-color="#47fc15"/><stop offset="0.431" stop-color="#4efc14"/><stop offset="0.483" stop-color="#61fd19"/><stop offset="0.552" stop-color="#95fe28"/><stop offset="0.598" stop-color="#c4ff35"/><stop offset="0.645" stop-color="#e7ff3f"/><stop offset="0.650" stop-color="#eafc40"/><stop offset="0.662" stop-color="#ece240"/><stop offset="0.679" stop-color="#f0af3e"/><stop offset="0.691" stop-color="#f39435"/><stop offset="0.702" stop-color="#f48730"/><stop offset="0.731" stop-color="#f5812d"/><stop offset="0.841" stop-color="#f5832e"/><stop offset="0.853" stop-color="#f48b31"/><stop offset="0.864" stop-color="#f29d38"/><stop offset="0.876" stop-color="#efbc40"/><stop offset="0.893" stop-color="#ebed40"/><stop offset="0.899" stop-color="#eafa40"/><stop offset="0.910" stop-color="#e1ff3d"/><stop offset="0.980" stop-color="#a6ff2c"/><stop offset="0.997" stop-color="#a1fe2b"/></linearGradient>
<linearGradient id="b112"><stop offset="0.003" stop-color="#6af8a2"/><stop offset="0.153" stop-color="#69f89e"/><stop offset="0.205" stop-color="#66f98f"/><stop offset="0.251" stop-color="#5efa6f"/><stop offset="0.327" stop-color="#4dfb2e"/><stop offset="0.373" stop-color="#47fc16"/><stop offset="0.408" stop-color="#4afc13"/><stop offset="0.465" stop-color="#59fd17"/><stop offset="0.517" stop-color="#7afd20"/><stop offset="0.569" stop-color="#a8ff2d"/><stop offset="0.610" stop-color="#cfff38"/><stop offset="0.645" stop-color="#e8ff3f"/><stop offset="0.650" stop-color="#eaf940"/><stop offset="0.668" stop-color="#eecd40"/><stop offset="0.679" stop-color="#f0ac3e"/><stop offset="0.691" stop-color="#f39535"/><stop offset="0.708" stop-color="#f48830"/><stop offset="0.835" stop-color="#f4862f"/><stop offset="0.853" stop-color="#f48c32"/><stop offset="0.864" stop-color="#f29b37"/><stop offset="0.876" stop-color="#f0b540"/><stop offset="0.899" stop-color="#ebf540"/><stop offset="0.905" stop-color="#e9ff40"/><stop offset="0.986" stop-color="#a5ff2c"/><stop offset="0.997" stop-color="#a3ff2b"/></linearGradient>
<linearGradient id="b114"><stop offset="0.003" stop-color="#6af8a2"/><stop offset="0.153" stop-color="#69f89e"/><stop offset="0.205" stop-color="#65f98e"/><stop offset="0.251" stop-color="#5dfa6e"/><stop offset="0.327" stop-color="#4dfb2d"/><stop offset="0.373" stop-color="#47fc16"/><stop offset="0.402" stop-color="#49fc13"/><stop offset="0.465" stop-color="#5afd17"/><stop offset="0.517" stop-color="#7bfd20"/><stop offset="0.569" stop-color="#a9ff2d"/><stop offset="0.616" stop-color="#d4ff3a"/><stop offset="0.645" stop-color="#eaff40"/><stop offset="0.656" stop-color="#ece540"/><stop offset="0.673" stop-color="#f0ae3f"/><stop offset="0.685" stop-color="#f38f33"/><stop offset="0.697" stop-color="#f57f2c"/><stop offset="0.720" stop-color="#f67829"/><stop offset="0.835" stop-color="#f67629"/><stop offset="0.853" stop-color="#f57b2b"/><stop offset="0.864" stop-color="#f48830"/><stop offset="0.876" stop-color="#f1a23b"/><stop offset="0.882" stop-color="#f0b440"/><stop offset="0.899" stop-color="#eceb40"/><stop offset="0.905" stop-color="#eaf940"/><stop offset="0.910" stop-color="#e6ff3f"/><stop offset="0.980" stop-color="#abff2d"/><stop offset="0.997" stop-color="#a4ff2c"/></linearGradient>
<linearGradient id="b116"><stop offset="0.003" stop-color="#6af8a2"/><stop offset="0.153" stop-color="#69f89e"/><stop offset="0.205" stop-color="#65f98e"/><stop offset="0.251" stop-color="#5dfa6d"/><stop offset="0.327" stop-color="#4dfb2c"/><stop offset="0.373" stop-color="#47fc15"/><stop offset="0.408" stop-color="#4afc13"/><stop offset="0.465" stop-color="#5afd17"/><stop offset="0.517" stop-color="#7cfd21"/><stop offset="0.569" stop-color="#aaff2d"/><stop offset="0.621" stop-color="#d9ff3b"/><stop offset="0.639" stop-color="#e6ff3f"/><stop offset="0.645" stop-color="#eafb40"/><stop offset="0.656" stop-color="#eddd40"/><stop offset="0.668" stop-color="#f0b540"/><stop offset="0.679" stop-color="#f38f33"/><stop offset="0.691" stop-color="#f67729"/><stop offset="0.708" stop-color="#f76c25"/><stop offset="0.812" stop-color="#f86321"/><stop offset="0.853" stop-color="#f76b24"/><stop offset="0.864" stop-color="#f67729"/><stop offset="0.876" stop-color="#f39134"/><stop offset="0.887" stop-color="#efb840"/><stop offset="0.905" stop-color="#ebf240"/><stop offset="0.910" stop-color="#e9ff40"/><stop offset="0.974" stop-color="#b1ff2f"/><stop offset="0.997" stop-color="#a6ff2c"/></linearGradient>
<linearGradient id="b118"><stop offset="0.003" stop-color="#6af8a2"/><stop offset="0.153" stop-color="#69f89d"/><stop offset="0.205" stop-color="#65f98d"/><stop offset="0.251" stop-color="#5dfa6c"/><stop offset="0.327" stop-color="#4cfb2b"/><stop offset="0.373" stop-color="#47fc15"/><stop offset="0.419" stop-color="#4cfc14"/><stop offset="0.471" stop-color="#5dfd18"/><stop offset="0.535" stop-color="#8afe25"/><stop offset="0.569" stop-color="#abff2e"/><stop offset="0.621" stop-color="#daff3b"/><stop offset="0.639" stop-color="#e7ff3f"/><stop offset="0.645" stop-color="#ebf840"/><stop offset="0.656" stop-color="#edd840"/><stop offset="0.668" stop-color="#f0af3f"/><stop offset="0.679" stop-color="#f48a31"/><stop offset="0.691" stop-color="#f67528"/><stop offset="0.708" stop-color="#f76a24"/><stop offset="0.801" stop-color="#f85e1f"/><stop offset="0.847" stop-color="#f86421"/><stop offset="0.864" stop-color="#f67127"/><stop offset="0.876" stop-color="#f48931"/><stop offset="0.887" stop-color="#f0b03f"/><stop offset="0.905" stop-color="#ebed40"/><stop offset="0.910" stop-color="#eafc40"/><stop offset="0.939" stop-color="#cfff38"/><stop offset="0.986" stop-color="#abff2e"/><stop offset="0.997" stop-color="#a8ff2d"/></linearGradient>
<linearGradient id="b120"><stop offset="0.003" stop-color="#6af8a2"/><stop offset="0.153" stop-color="#69f89d"/><stop offset="0.205" stop-color="#65f98d"/><stop offset="0.251" stop-color="#5dfa6b"/><stop offset="0.327" stop-color="#4cfb2a"/><stop offset="0.373" stop-color="#47fc14"/><stop offset="0.442" stop-color="#52fc15"/><stop offset="0.488" stop-color="#68fd1b"/><stop offset="0.558" stop-color="#9ffe2a"/><stop offset="0.592" stop-color="#c3ff34"/><stop offset="0.639" stop-color="#e9ff40"/><stop offset="0.645" stop-color="#ebf540"/><stop offset="0.656" stop-color="#edd340"/><stop offset="0.668" stop-color="#f1a83d"/><stop offset="0.679" stop-color="#f4842e"/><stop offset="0.691" stop-color="#f66f26"/><stop offset="0.708" stop-color="#f86522"/><stop offset="0.801" stop-color="#f9591e"/><stop offset="0.853" stop-color="#f86020"/><stop offset="0.864" stop-color="#f76924"/><stop offset="0.876" stop-color="#f5812d"/><stop offset="0.887" stop-color="#f1a73c"/><stop offset="0.905" stop-color="#ece740"/><stop offset="0.910" stop-color="#ebf840"/><stop offset="0.916" stop-color="#e6ff3f"/><stop offset="0.968" stop-color="#b8ff31"/><stop offset="0.997" stop-color="#a9ff2d"/></linearGradient>
<linearGradient id="b122"><stop offset="0.003" stop-color="#6af8a2"/><stop offset="0.153" stop-color="#69f89d"/><stop offset="0.205" stop-color="#65f98c"/><stop offset="0.251" stop-color="#5cfa6b"/><stop offset="0.321" stop-color="#4dfb2e"/><stop offset="0.367" stop-color="#47fc16"/><stop offset="0.402" stop-color="#4afc13"/><stop offset="0.460" stop-color="#58fc17"/><stop offset="0.512" stop-color="#79fd20"/><stop offset="0.564" stop-color="#a6ff2c"/><stop offset="0.592" stop-color="#c3ff35"/><stop offset="0.639" stop-color="#eafe40"/><stop offset="0.650" stop-color="#ece040"/><stop offset="0.662" stop-color="#f0b540"/><stop offset="0.673" stop-color="#f48a31"/><stop offset="0.685" stop-color="#f76d25"/><stop offset="0.697" stop-color="#f86121"/><stop offset="0.801" stop-color="#fa501b"/><stop offset="0.858" stop-color="#f95b1f"/><stop offset="0.870" stop-color="#f76622"/><stop offset="0.882" stop-color="#f4852f"/><stop offset="0.893" stop-color="#f0b240"/><stop offset="0.905" stop-color="#ece040"/><stop offset="0.910" stop-color="#ebf240"/><stop offset="0.916" stop-color="#e9ff40"/><stop offset="0.962" stop-color="#bdff33"/><stop offset="0.991" stop-color="#acff2e"/><stop offset="0.997" stop-color="#abff2e"/></linearGradient>
<linearGradient id="b124"><stop offset="0.003" stop-color="#6af8a2"/><stop offset="0.153" stop-color="#69f89d"/><stop offset="0.205" stop-color="#65f98c"/><stop offset="0.251" stop-color="#5cfa6a"/><stop offset="0.321" stop-color="#4dfb2d"/><stop offset="0.367" stop-color="#47fc16"/><stop offset="0.402" stop-color="#4afc13"/><stop offset="0.460" stop-color="#58fc17"/><stop offset="0.512" stop-color="#78fd20"/><stop offset="0.564" stop-color="#a6ff2c"/><stop offset="0.592" stop-color="#c4ff35"/><stop offset="0.639" stop-color="#eafe40"/><stop offset="0.650" stop-color="#ece040"/><stop offset="0.662" stop-color="#efb740"/><stop offset="0.673" stop-color="#f39033"/><stop offset="0.685" stop-color="#f67529"/><stop offset="0.702" stop-color="#f76622"/><stop offset="0.795" stop-color="#fa511c"/><stop offset="0.853" stop-color="#f95c1f"/><stop offset="0.864" stop-color="#f86221"/><stop offset="0.876" stop-color="#f67729"/><stop offset="0.887" stop-color="#f29b38"/><stop offset="0.893" stop-color="#f0b240"/><stop offset="0.910" stop-color="#ebf040"/><stop offset="0.916" stop-color="#eaff40"/><stop offset="0.957" stop-color="#c3ff34"/><stop offset="0.991" stop-color="#adff2e"/><stop offset="0.997" stop-color="#acff2e"/></linearGradient>
<linearGradient id="b126"><stop offset="0.003" stop-color="#6af8a2"/><stop offset="0.147" stop-color="#69f89e"/><stop offset="0.199" stop-color="#66f98f"/><stop offset="0.246" stop-color="#5efa6f"/><stop offset="0.321" stop-color="#4dfb2d"/><stop offset="0.367" stop-color="#47fc16"/><stop offset="0.402" stop-color="#4afc13"/><stop offset="0.460" stop-color="#58fc17"/><stop offset="0.512" stop-color="#78fd20"/><stop offset="0.564" stop-color="#a5ff2c"/><stop offset="0.592" stop-color="#c3ff35"/><stop offset="0.639" stop-color="#eafe40"/><stop offset="0.650" stop-color="#ecdf40"/><stop offset="0.662" stop-color="#f0b640"/><stop offset="0.673" stop-color="#f48c32"/><stop offset="0.685" stop-color="#f67127"/><stop offset="0.702" stop-color="#f86120"/><stop offset="0.795" stop-color="#fb4c1a"/><stop offset="0.847" stop-color="#f9561d"/><stop offset="0.870" stop-color="#f86321"/><stop offset="0.882" stop-color="#f57f2d"/><stop offset="0.893" stop-color="#f1aa3e"/><stop offset="0.910" stop-color="#ebeb40"/><stop offset="0.916" stop-color="#eafc40"/><stop offset="0.939" stop-color="#d3ff39"/><stop offset="0.980" stop-color="#b4ff30"/><stop offset="0.997" stop-color="#adff2e"/></linearGradient>
<linearGradient id="b128"><stop offset="0.003" stop-color="#6af8a2"/><stop offset="0.147" stop-color="#69f89e"/><stop offset="0.199" stop-color="#66f98f"/><stop offset="0.246" stop-color="#5dfa6f"/><stop offset="0.321" stop-color="#4dfb2d"/><stop offset="0.367" stop-color="#47fc16"/><stop offset="0.402" stop-color="#4afc13"/><stop offset="0.465" stop-color="#5afd17"/><stop offset="0.523" stop-color="#80fe22"/><stop offset="0.564" stop-color="#a4ff2c"/><stop offset="0.598" stop-color="#c8ff36"/><stop offset="0.639" stop-color="#eaff40"/><stop offset="0.650" stop-color="#ece040"/><stop offset="0.662" stop-color="#f0b440"/><stop offset="0.673" stop-color="#f48730"/><stop offset="0.685" stop-color="#f76723"/><stop offset="0.697" stop-color="#f85c1f"/><stop offset="0.795" stop-color="#fb4418"/><stop offset="0.841" stop-color="#fa4d1b"/><stop offset="0.870" stop-color="#f95b1f"/><stop offset="0.876" stop-color="#f86321"/><stop offset="0.882" stop-color="#f67227"/><stop offset="0.893" stop-color="#f2a039"/><stop offset="0.899" stop-color="#efb940"/><stop offset="0.910" stop-color="#ece740"/><stop offset="0.916" stop-color="#eaf940"/><stop offset="0.922" stop-color="#e5ff3f"/><stop offset="0.968" stop-color="#bbff32"/><stop offset="0.997" stop-color="#aeff2e"/></linearGradient>
<linearGradient id="b130"><stop offset="0.003" stop-color="#6af8a2"/><stop offset="0.147" stop-color="#69f89e"/><stop offset="0.199" stop-color="#66f98f"/><stop offset="0.246" stop-color="#5dfa6f"/><stop offset="0.321" stop-color="#4dfb2d"/><stop offset="0.367" stop-color="#47fc16"/><stop offset="0.402" stop-color="#4afc13"/><stop offset="0.465" stop-color="#59fd17"/><stop offset="0.517" stop-color="#7afd20"/><stop offset="0.564" stop-color="#a2fe2b"/><stop offset="0.598" stop-color="#c6ff35"/><stop offset="0.639" stop-color="#e8ff3f"/><stop offset="0.645" stop-color="#ebf740"/><stop offset="0.656" stop-color="#edd540"/><stop offset="0.668" stop-color="#f1a93d"/><stop offset="0.679" stop-color="#f5802d"/><stop offset="0.691" stop-color="#f76723"/><stop offset="0.702" stop-color="#f85d1f"/><stop offset="0.795" stop-color="#fb4819"/><stop offset="0.847" stop-color="#fa521c"/><stop offset="0.870" stop-color="#f85e1f"/><stop offset="0.876" stop-color="#f76823"/><stop offset="0.887" stop-color="#f38d32"/><stop offset="0.899" stop-color="#efbd40"/><stop offset="0.910" stop-color="#ece940"/><stop offset="0.916" stop-color="#eafa40"/><stop offset="0.922" stop-color="#e5ff3e"/><stop offset="0.968" stop-color="#bbff32"/><stop offset="0.997" stop-color="#aeff2e"/></linearGradient>
<linearGradient id="b132"><stop offset="0.003" stop-color="#6af8a2"/><stop offset="0.147" stop-color="#69f89e"/><stop offset="0.199" stop-color="#66f98f"/><stop offset="0.246" stop-color="#5dfa6f"/><stop offset="0.321" stop-color="#4dfb2d"/><stop offset="0.367" stop-color="#47fc16"/><stop offset="0.402" stop-color="#4afc13"/><stop offset="0.465" stop-color="#58fd17"/><stop offset="0.517" stop-color="#77fd1f"/><stop offset="0.564" stop-color="#9efe2a"/><stop offset="0.592" stop-color="#beff33"/><stop offset="0.645" stop-color="#eafd40"/><stop offset="0.656" stop-color="#eddd40"/><stop offset="0.668" stop-color="#f0b13f"/><stop offset="0.679" stop-color="#f4852f"/><stop offset="0.691" stop-color="#f76723"/><stop offset="0.708" stop-color="#f95a1e"/><stop offset="0.795" stop-color="#fb4819"/><stop offset="0.847" stop-color="#fa521c"/><stop offset="0.870" stop-color="#f85f20"/><stop offset="0.876" stop-color="#f76923"/><stop offset="0.887" stop-color="#f39033"/><stop offset="0.893" stop-color="#f1a83d"/><stop offset="0.905" stop-color="#edd840"/><stop offset="0.916" stop-color="#eafc40"/><stop offset="0.945" stop-color="#ceff38"/><stop offset="0.986" stop-color="#b1ff2f"/><stop offset="0.997" stop-color="#adff2e"/></linearGradient>
<linearGradient id="b134"><stop offset="0.003" stop-color="#6af8a2"/><stop offset="0.147" stop-color="#69f89e"/><stop offset="0.199" stop-color="#66f98f"/><stop offset="0.246" stop-color="#5efa6f"/><stop offset="0.321" stop-color="#4dfb2d"/><stop offset="0.367" stop-color="#47fc16"/><stop offset="0.402" stop-color="#49fc13"/><stop offset="0.465" stop-color="#57fc17"/><stop offset="0.517" stop-color="#75fd1f"/><stop offset="0.569" stop-color="#a0fe2b"/><stop offset="0.598" stop-color="#c0ff33"/><stop offset="0.645" stop-color="#e7ff3f"/><stop offset="0.650" stop-color="#ebf840"/><stop offset="0.662" stop-color="#edd740"/><stop offset="0.673" stop-color="#f0ae3f"/><stop offset="0.685" stop-color="#f48830"/><stop offset="0.697" stop-color="#f67127"/><stop offset="0.714" stop-color="#f86221"/><stop offset="0.795" stop-color="#fa521c"/><stop offset="0.853" stop-color="#f85d1f"/><stop offset="0.864" stop-color="#f76623"/><stop offset="0.876" stop-color="#f57e2c"/><stop offset="0.887" stop-color="#f1a33b"/><stop offset="0.893" stop-color="#efb940"/><stop offset="0.905" stop-color="#ece340"/><stop offset="0.910" stop-color="#ebf440"/><stop offset="0.916" stop-color="#e8ff40"/><stop offset="0.974" stop-color="#b7ff31"/><stop offset="0.997" stop-color="#acff2e"/></linearGradient>
<linearGradient id="b136"><stop offset="0.003" stop-color="#6af8a2"/><stop offset="0.153" stop-color="#69f89d"/><stop offset="0.205" stop-color="#65f98c"/><stop offset="0.251" stop-color="#5cfa6a"/><stop offset="0.321" stop-color="#4dfb2e"/><stop offset="0.367" stop-color="#47fc16"/><stop offset="0.402" stop-color="#49fc13"/><stop offset="0.471" stop-color="#58fc17"/><stop offset="0.529" stop-color="#7afd20"/><stop offset="0.575" stop-color="#a1fe2b"/><stop offset="0.604" stop-color="#c1ff34"/><stop offset="0.650" stop-color="#e9ff40"/><stop offset="0.662" stop-color="#ece440"/><stop offset="0.679" stop-color="#f0ac3e"/><stop offset="0.691" stop-color="#f48d32"/><stop offset="0.702" stop-color="#f57a2a"/><stop offset="0.737" stop-color="#f86221"/><stop offset="0.789" stop-color="#f9571e"/><stop offset="0.835" stop-color="#f85f20"/><stop offset="0.858" stop-color="#f67127"/><stop offset="0.870" stop-color="#f4842e"/><stop offset="0.882" stop-color="#f1a23a"/><stop offset="0.887" stop-color="#f0b540"/><stop offset="0.905" stop-color="#ebed40"/><stop offset="0.910" stop-color="#eafc40"/><stop offset="0.934" stop-color="#d6ff3a"/><stop offset="0.986" stop-color="#aeff2e"/><stop offset="0.997" stop-color="#aaff2d"/></linearGradient>
<linearGradient id="b138"><stop offset="0.003" stop-color="#6af8a2"/><stop offset="0.153" stop-color="#69f89d"/><stop offset="0.205" stop-color="#65f98c"/><stop offset="0.251" stop-color="#5dfa6b"/><stop offset="0.321" stop-color="#4dfb2e"/><stop offset="0.367" stop-color="#47fc17"/><stop offset="0.396" stop-color="#48fc13"/><stop offset="0.471" stop-color="#56fc16"/><stop offset="0.529" stop-color="#76fd1f"/><stop offset="0.575" stop-color="#9afe29"/><stop offset="0.610" stop-color="#c1ff34"/><stop offset="0.656" stop-color="#e8ff3f"/><stop offset="0.662" stop-color="#ebf740"/><stop offset="0.691" stop-color="#f0b53f"/><stop offset="0.708" stop-color="#f29e39"/><stop offset="0.766" stop-color="#f67729"/><stop offset="0.789" stop-color="#f67227"/><stop offset="0.824" stop-color="#f5822e"/><stop offset="0.858" stop-color="#f29e39"/><stop offset="0.876" stop-color="#efb940"/><stop offset="0.905" stop-color="#eafc40"/><stop offset="0.939" stop-color="#ceff38"/><stop offset="0.991" stop-color="#a8ff2d"/><stop offset="0.997" stop-color="#a7ff2c"/></linearGradient>
<linearGradient id="b140"><stop offset="0.003" stop-color="#6af8a2"/><stop offset="0.153" stop-color="#69f89d"/><stop offset="0.205" stop-color="#65f98d"/><stop offset="0.251" stop-color="#5dfa6c"/><stop offset="0.327" stop-color="#4cfb2c"/><stop offset="0.373" stop-color="#47fc16"/><stop offset="0.408" stop-color="#49fc13"/><stop offset="0.477" stop-color="#56fc16"/><stop offset="0.540" stop-color="#78fd20"/><stop offset="0.581" stop-color="#98fe28"/><stop offset="0.616" stop-color="#bfff33"/><stop offset="0.668" stop-color="#e7fd3f"/><stop offset="0.679" stop-color="#ebee40"/><stop offset="0.702" stop-color="#eece40"/><stop offset="0.766" stop-color="#f29d38"/><stop offset="0.789" stop-color="#f29937"/><stop offset="0.824" stop-color="#f0ad3c"/><stop offset="0.864" stop-color="#eed140"/><stop offset="0.893" stop-color="#e9fa40"/><stop offset="0.905" stop-color="#e1ff3d"/><stop offset="0.974" stop-color="#adff2e"/><stop offset="0.997" stop-color="#a2ff2b"/></linearGradient>
<linearGradient id="b142"><stop offset="0.003" stop-color="#6af8a2"/><stop offset="0.153" stop-color="#69f89e"/><stop offset="0.205" stop-color="#65f98e"/><stop offset="0.251" stop-color="#5dfa6d"/><stop offset="0.327" stop-color="#4dfb2d"/><stop offset="0.373" stop-color="#47fc18"/><stop offset="0.413" stop-color="#48fc13"/><stop offset="0.483" stop-color="#55fc16"/><stop offset="0.552" stop-color="#79fd20"/><stop offset="0.587" stop-color="#94fe27"/><stop offset="0.621" stop-color="#bbff32"/><stop offset="0.685" stop-color="#e1ff3d"/><stop offset="0.731" stop-color="#ebef40"/><stop offset="0.772" stop-color="#edd740"/><stop offset="0.795" stop-color="#edd840"/><stop offset="0.853" stop-color="#e9f73f"/><stop offset="0.882" stop-color="#e0ff3d"/><stop offset="0.945" stop-color="#beff33"/><stop offset="0.986" stop-color="#9dfe2a"/><stop offset="0.997" stop-color="#9afe29"/></linearGradient>
<linearGradient id="b144"><stop offset="0.003" stop-color="#6af8a2"/><stop offset="0.153" stop-color="#69f89e"/><stop offset="0.205" stop-color="#66f98e"/><stop offset="0.251" stop-color="#5efa6f"/><stop offset="0.327" stop-color="#4efb31"/><stop offset="0.373" stop-color="#48fc1b"/><stop offset="0.436" stop-color="#48fc12"/><stop offset="0.500" stop-color="#56fc16"/><stop offset="0.575" stop-color="#7efe21"/><stop offset="0.610" stop-color="#9ffe2a"/><stop offset="0.633" stop-color="#b7ff31"/><stop offset="0.679" stop-color="#caff36"/><stop offset="0.783" stop-color="#dfff3d"/><stop offset="0.893" stop-color="#c7ff36"/><stop offset="0.939" stop-color="#b5ff30"/><stop offset="0.980" stop-color="#94fe27"/><stop offset="0.997" stop-color="#8ffe26"/></linearGradient>
<linearGradient id="b146"><stop offset="0.003" stop-color="#6af8a2"/><stop offset="0.159" stop-color="#69f89d"/><stop offset="0.211" stop-color="#65f98d"/><stop offset="0.263" stop-color="#5cfa69"/><stop offset="0.332" stop-color="#4efb33"/><stop offset="0.384" stop-color="#49fc1f"/><stop offset="0.483" stop-color="#49fc13"/><stop offset="0.558" stop-color="#66fd1b"/><stop offset="0.604" stop-color="#83fe23"/><stop offset="0.650" stop-color="#a9ff2d"/><stop offset="0.714" stop-color="#b8ff31"/><stop offset="0.795" stop-color="#c1ff34"/><stop offset="0.893" stop-color="#b0ff2f"/><stop offset="0.934" stop-color="#9ffe2a"/><stop offset="0.980" stop-color="#82fe22"/><stop offset="0.997" stop-color="#7ffe21"/></linearGradient>
<linearGradient id="b148"><stop offset="0.003" stop-color="#6af8a2"/><stop offset="0.159" stop-color="#69f89e"/><stop offset="0.211" stop-color="#66f98f"/><stop offset="0.269" stop-color="#5cfa6b"/><stop offset="0.332" stop-color="#51fb3e"/><stop offset="0.384" stop-color="#4cfb2b"/><stop offset="0.494" stop-color="#48fc1b"/><stop offset="0.540" stop-color="#4dfc14"/><stop offset="0.610" stop-color="#6bfd1c"/><stop offset="0.656" stop-color="#84fe23"/><stop offset="0.783" stop-color="#98fe28"/><stop offset="0.858" stop-color="#90fe26"/><stop offset="0.934" stop-color="#7cfd21"/><stop offset="0.986" stop-color="#68fd1b"/><stop offset="0.997" stop-color="#67fd1b"/></linearGradient>
<linearGradient id="b150"><stop offset="0.003" stop-color="#6af8a2"/><stop offset="0.165" stop-color="#69f89e"/><stop offset="0.223" stop-color="#65f98e"/><stop offset="0.338" stop-color="#55fa4d"/><stop offset="0.396" stop-color="#51fb3e"/><stop offset="0.506" stop-color="#4efb31"/><stop offset="0.587" stop-color="#4afc1b"/><stop offset="0.650" stop-color="#55fc16"/><stop offset="0.801" stop-color="#64fd1a"/><stop offset="0.922" stop-color="#55fc16"/><stop offset="0.997" stop-color="#4cfc18"/></linearGradient>
<linearGradient id="b152"><stop offset="0.003" stop-color="#6af8a2"/><stop offset="0.176" stop-color="#69f89e"/><stop offset="0.240" stop-color="#65f98e"/><stop offset="0.344" stop-color="#5afa63"/><stop offset="0.425" stop-color="#58fa57"/><stop offset="0.535" stop-color="#55fa4d"/><stop offset="0.679" stop-color="#4efb33"/><stop offset="0.824" stop-color="#4dfb2d"/><stop offset="0.997" stop-color="#51fb3d"/></linearGradient>
<linearGradient id="b154"><stop offset="0.003" stop-color="#6af8a2"/><stop offset="0.194" stop-color="#69f89e"/><stop offset="0.292" stop-color="#64f987"/><stop offset="0.379" stop-color="#5ff976"/><stop offset="0.587" stop-color="#5cfa69"/><stop offset="0.806" stop-color="#5afa5f"/><stop offset="0.997" stop-color="#5bfa66"/></linearGradient>
<linearGradient id="b156"><stop offset="0.003" stop-color="#6af8a2"/><stop offset="0.217" stop-color="#69f89e"/><stop offset="0.384" stop-color="#64f98a"/><stop offset="0.853" stop-color="#62f981"/><stop offset="0.997" stop-color="#63f983"/></linearGradient>
<linearGradient id="b158"><stop offset="0.003" stop-color="#6af8a2"/><stop offset="0.257" stop-color="#69f89d"/><stop offset="0.448" stop-color="#67f995"/><stop offset="0.997" stop-color="#67f993"/></linearGradient>
<linearGradient id="b160"><stop offset="0.003" stop-color="#6af8a2"/><stop offset="0.858" stop-color="#69f89b"/><stop offset="0.997" stop-color="#69f89b"/></linearGradient>
<linearGradient id="b162"><stop offset="0.003" stop-color="#6af8a2"/><stop offset="0.997" stop-color="#6af89f"/></linearGradient></defs>
<g clip-path="url(#clipb)">
<rect x="270" y="10" width="173" height="2" fill="url(#b0)"/>
<rect x="270" y="12" width="173" height="2" fill="url(#b2)"/>
<rect x="270" y="14" width="173" height="2" fill="url(#b4)"/>
<rect x="270" y="16" width="173" height="2" fill="url(#b6)"/>
<rect x="270" y="18" width="173" height="2" fill="url(#b8)"/>
<rect x="270" y="20" width="173" height="2" fill="url(#b10)"/>
<rect x="270" y="22" width="173" height="2" fill="url(#b12)"/>
<rect x="270" y="24" width="173" height="2" fill="url(#b14)"/>
<rect x="270" y="26" width="173" height="2" fill="url(#b16)"/>
<rect x="270" y="28" width="173" height="2" fill="url(#b18)"/>
<rect x="270" y="30" width="173" height="2" fill="url(#b20)"/>
<rect x="270" y="32" width="173" height="2" fill="url(#b22)"/>
<rect x="270" y="34" width="173" height="2" fill="url(#b24)"/>
<rect x="270" y="36" width="173" height="2" fill="url(#b26)"/>
<rect x="270" y="38" width="173" height="2" fill="url(#b28)"/>
<rect x="270" y="40" width="173" height="2" fill="url(#b30)"/>
<rect x="270" y="42" width="173" height="2" fill="url(#b32)"/>
<rect x="270" y="44" width="173" height="2" fill="url(#b34)"/>
<rect x="270" y="46" width="173" height="2" fill="url(#b36)"/>
<rect x="270" y="48" width="173" height="2" fill="url(#b38)"/>
<rect x="270" y="50" width="173" height="2" fill="url(#b40)"/>
<rect x="270" y="52" width="173" height="2" fill="url(#b42)"/>
<rect x="270" y="54" width="173" height="2" fill="url(#b44)"/>
<rect x="270" y="56" width="173" height="2" fill="url(#b46)"/>
<rect x="270" y="58" width="173" height="2" fill="url(#b48)"/>
<rect x="270" y="60" width="173" height="2" fill="url(#b50)"/>
<rect x="270" y="62" width="173" height="2" fill="url(#b52)"/>
<rect x="270" y="64" width="173" height="2" fill="url(#b54)"/>
<rect x="270" y="66" width="173" height="2" fill="url(#b56)"/>
<rect x="270" y="68" width="173" height="2" fill="url(#b58)"/>
<rect x="270" y="70" width="173" height="2" fill="url(#b60)"/>
<rect x="270" y="72" width="173" height="2" fill="url(#b62)"/>
<rect x="270" y="74" width="173" height="2" fill="url(#b64)"/>
<rect x="270" y="76" width="173" height="2" fill="url(#b66)"/>
<rect x="270" y="78" width="173" height="2" fill="url(#b68)"/>
<rect x="270" y="80" width="173" height="2" fill="url(#b70)"/>
<rect x="270" y="82" width="173" height="2" fill="url(#b72)"/>
<rect x="270" y="84" width="173" height="2" fill="url(#b74)"/>
<rect x="270" y="86" width="173" height="2" fill="url(#b76)"/>
<rect x="270" y="88" width="173" height="2" fill="url(#b78)"/>
<rect x="270" y="90" width="173" height="2" fill="url(#b80)"/>
<rect x="270" y="92" width="173" height="2" fill="url(#b82)"/>
<rect x="270" y="94" width="173" height="2" fill="url(#b84)"/>
<rect x="270" y="96" width="173" height="2" fill="url(#b86)"/>
<rect x="270" y="98" width="173" height="2" fill="url(#b88)"/>
<rect x="270" y="100" width="173" height="2" fill="url(#b90)"/>
<rect x="270" y="102" width="173" height="2" fill="url(#b92)"/>
<rect x="270" y="104" width="173" height="2" fill="url(#b94)"/>
<rect x="270" y="106" width="173" height="2" fill="url(#b96)"/>
<rect x="270" y="108" width="173" height="2" fill="url(#b98)"/>
<rect x="270" y="110" width="173" height="2" fill="url(#b100)"/>
<rect x="270" y="112" width="173" height="2" fill="url(#b102)"/>
<rect x="270" y="114" width="173" height="2" fill="url(#b104)"/>
<rect x="270" y="116" width="173" height="2" fill="url(#b106)"/>
<rect x="270" y="118" width="173" height="2" fill="url(#b108)"/>
<rect x="270" y="120" width="173" height="2" fill="url(#b110)"/>
<rect x="270" y="122" width="173" height="2" fill="url(#b112)"/>
<rect x="270" y="124" width="173" height="2" fill="url(#b114)"/>
<rect x="270" y="126" width="173" height="2" fill="url(#b116)"/>
<rect x="270" y="128" width="173" height="2" fill="url(#b118)"/>
<rect x="270" y="130" width="173" height="2" fill="url(#b120)"/>
<rect x="270" y="132" width="173" height="2" fill="url(#b122)"/>
<rect x="270" y="134" width="173" height="2" fill="url(#b124)"/>
<rect x="270" y="136" width="173" height="2" fill="url(#b126)"/>
<rect x="270" y="138" width="173" height="2" fill="url(#b128)"/>
<rect x="270" y="140" width="173" height="2" fill="url(#b130)"/>
<rect x="270" y="142" width="173" height="2" fill="url(#b132)"/>
<rect x="270" y="144" width="173" height="2" fill="url(#b134)"/>
<rect x="270" y="146" width="173" height="2" fill="url(#b136)"/>
<rect x="270" y="148" width="173" height="2" fill="url(#b138)"/>
<rect x="270" y="150" width="173" height="2" fill="url(#b140)"/>
<rect x="270" y="152" width="173" height="2" fill="url(#b142)"/>
<rect x="270" y="154" width="173" height="2" fill="url(#b144)"/>
<rect x="270" y="156" width="173" height="2" fill="url(#b146)"/>
<rect x="270" y="158" width="173" height="2" fill="url(#b148)"/>
<rect x="270" y="160" width="173" height="2" fill="url(#b150)"/>
<rect x="270" y="162" width="173" height="2" fill="url(#b152)"/>
<rect x="270" y="164" width="173" height="2" fill="url(#b154)"/>
<rect x="270" y="166" width="173" height="2" fill="url(#b156)"/>
<rect x="270" y="168" width="173" height="2" fill="url(#b158)"/>
<rect x="270" y="170" width="173" height="2" fill="url(#b160)"/>
<rect x="270" y="172" width="173" height="2" fill="url(#b162)"/>
<path d="M271.5 122.4h1.4v1.2h-1.4zM274.7 15.6h1.4v1.2h-1.4zM274.2 123.1h1.4v1.2h-1.4zM272.6 89.0h1.4v1.2h-1.4zM271.6 37.7h1.4v1.2h-1.4zM276.3 64.2h1.4v1.2h-1.4zM275.9 88.8h1.4v1.2h-1.4zM270.7 52.1h1.4v1.2h-1.4zM270.5 44.6h1.4v1.2h-1.4zM272.5 97.1h1.4v1.2h-1.4zM276.4 105.2h1.4v1.2h-1.4zM270.8 29.4h1.4v1.2h-1.4zM271.2 97.8h1.4v1.2h-1.4zM276.5 48.0h1.4v1.2h-1.4zM272.5 156.8h1.4v1.2h-1.4zM274.0 129.7h1.4v1.2h-1.4zM270.6 38.2h1.4v1.2h-1.4zM274.8 133.6h1.4v1.2h-1.4zM272.2 165.1h1.4v1.2h-1.4zM273.4 110.6h1.4v1.2h-1.4zM275.1 118.8h1.4v1.2h-1.4zM270.5 142.1h1.4v1.2h-1.4zM273.7 140.4h1.4v1.2h-1.4zM271.4 35.0h1.4v1.2h-1.4zM275.2 40.9h1.4v1.2h-1.4zM271.4 27.0h1.4v1.2h-1.4zM276.9 38.3h1.4v1.2h-1.4zM271.8 172.7h1.4v1.2h-1.4zM275.9 130.6h1.4v1.2h-1.4zM272.8 119.5h1.4v1.2h-1.4zM275.6 44.7h1.4v1.2h-1.4zM270.5 136.7h1.4v1.2h-1.4zM276.5 132.5h1.4v1.2h-1.4zM271.4 145.5h1.4v1.2h-1.4zM271.9 121.9h1.4v1.2h-1.4zM273.8 97.6h1.4v1.2h-1.4zM273.4 13.5h1.4v1.2h-1.4zM276.1 63.3h1.4v1.2h-1.4zM273.2 166.4h1.4v1.2h-1.4zM275.0 73.5h1.4v1.2h-1.4zM275.7 34.3h1.4v1.2h-1.4zM270.6 112.1h1.4v1.2h-1.4zM271.9 37.0h1.4v1.2h-1.4zM275.3 88.3h1.4v1.2h-1.4zM276.6 50.1h1.4v1.2h-1.4zM275.5 14.5h1.4v1.2h-1.4zM275.8 17.9h1.4v1.2h-1.4zM271.1 93.2h1.4v1.2h-1.4zM275.0 152.2h1.4v1.2h-1.4zM276.3 169.6h1.4v1.2h-1.4zM273.6 157.9h1.4v1.2h-1.4zM276.4 32.0h1.4v1.2h-1.4zM274.9 143.4h1.4v1.2h-1.4zM276.0 36.3h1.4v1.2h-1.4zM277.0 60.3h1.4v1.2h-1.4zM272.1 62.4h1.4v1.2h-1.4zM275.5 15.1h1.4v1.2h-1.4zM276.0 89.6h1.4v1.2h-1.4zM271.4 77.0h1.4v1.2h-1.4zM274.1 132.7h1.4v1.2h-1.4zM271.0 127.9h1.4v1.2h-1.4zM276.3 88.4h1.4v1.2h-1.4z" fill="#5ef070" fill-opacity="0.6"/>
<path d="M273.7 45.2h1.4v1.2h-1.4zM276.0 12.3h1.4v1.2h-1.4zM276.9 123.1h1.4v1.2h-1.4zM277.5 130.4h1.4v1.2h-1.4zM271.2 161.3h1.4v1.2h-1.4zM271.5 128.7h1.4v1.2h-1.4zM271.2 87.6h1.4v1.2h-1.4zM271.7 160.5h1.4v1.2h-1.4zM272.4 165.6h1.4v1.2h-1.4zM270.5 25.2h1.4v1.2h-1.4zM276.7 90.0h1.4v1.2h-1.4zM271.5 21.3h1.4v1.2h-1.4zM270.6 50.5h1.4v1.2h-1.4zM277.4 131.6h1.4v1.2h-1.4zM270.7 32.8h1.4v1.2h-1.4zM276.0 153.7h1.4v1.2h-1.4zM273.8 157.1h1.4v1.2h-1.4zM271.3 127.5h1.4v1.2h-1.4zM276.0 11.3h1.4v1.2h-1.4zM276.2 140.9h1.4v1.2h-1.4zM272.9 61.9h1.4v1.2h-1.4zM274.8 141.7h1.4v1.2h-1.4zM273.9 164.4h1.4v1.2h-1.4zM273.7 93.6h1.4v1.2h-1.4zM270.8 14.1h1.4v1.2h-1.4zM270.6 54.9h1.4v1.2h-1.4zM275.5 155.1h1.4v1.2h-1.4zM272.1 159.4h1.4v1.2h-1.4zM271.5 42.9h1.4v1.2h-1.4zM270.9 59.3h1.4v1.2h-1.4zM277.4 37.1h1.4v1.2h-1.4zM274.6 55.2h1.4v1.2h-1.4zM271.4 74.0h1.4v1.2h-1.4zM273.2 81.9h1.4v1.2h-1.4zM271.0 60.4h1.4v1.2h-1.4zM271.3 139.0h1.4v1.2h-1.4zM271.9 140.8h1.4v1.2h-1.4zM271.4 91.1h1.4v1.2h-1.4zM272.8 36.4h1.4v1.2h-1.4zM272.3 138.7h1.4v1.2h-1.4zM270.5 70.1h1.4v1.2h-1.4zM277.3 73.6h1.4v1.2h-1.4zM271.6 168.8h1.4v1.2h-1.4zM274.4 172.0h1.4v1.2h-1.4zM271.5 117.9h1.4v1.2h-1.4zM272.1 80.1h1.4v1.2h-1.4zM276.0 64.8h1.4v1.2h-1.4zM277.5 71.4h1.4v1.2h-1.4zM273.8 151.8h1.4v1.2h-1.4zM273.9 85.2h1.4v1.2h-1.4zM275.0 129.7h1.4v1.2h-1.4zM274.0 31.8h1.4v1.2h-1.4zM277.5 47.9h1.4v1.2h-1.4zM271.3 75.5h1.4v1.2h-1.4zM273.5 47.9h1.4v1.2h-1.4zM272.5 167.2h1.4v1.2h-1.4zM271.5 114.9h1.4v1.2h-1.4zM276.7 78.1h1.4v1.2h-1.4zM270.6 75.9h1.4v1.2h-1.4zM275.9 51.9h1.4v1.2h-1.4zM272.4 70.5h1.4v1.2h-1.4zM273.1 54.0h1.4v1.2h-1.4zM276.8 18.0h1.4v1.2h-1.4zM274.0 27.3h1.4v1.2h-1.4zM270.4 136.1h1.4v1.2h-1.4zM272.1 67.8h1.4v1.2h-1.4zM276.2 169.5h1.4v1.2h-1.4zM277.3 116.8h1.4v1.2h-1.4zM272.3 10.9h1.4v1.2h-1.4zM272.6 128.5h1.4v1.2h-1.4zM277.5 23.7h1.4v1.2h-1.4zM274.8 20.2h1.4v1.2h-1.4zM270.9 76.4h1.4v1.2h-1.4zM274.3 135.4h1.4v1.2h-1.4zM275.2 61.4h1.4v1.2h-1.4z" fill="#7cf8c0" fill-opacity="0.6"/>
<path d="M276.1 93.5h1.4v1.2h-1.4zM270.8 139.4h1.4v1.2h-1.4zM270.3 21.4h1.4v1.2h-1.4zM272.1 37.5h1.4v1.2h-1.4zM275.2 156.5h1.4v1.2h-1.4zM275.1 162.6h1.4v1.2h-1.4zM270.8 65.1h1.4v1.2h-1.4zM272.2 63.2h1.4v1.2h-1.4zM275.2 132.5h1.4v1.2h-1.4zM271.6 114.6h1.4v1.2h-1.4zM273.2 154.7h1.4v1.2h-1.4zM271.6 149.8h1.4v1.2h-1.4zM276.5 74.9h1.4v1.2h-1.4zM275.7 49.9h1.4v1.2h-1.4zM272.4 111.8h1.4v1.2h-1.4zM270.8 142.8h1.4v1.2h-1.4zM275.5 84.3h1.4v1.2h-1.4zM273.2 63.4h1.4v1.2h-1.4zM275.5 24.8h1.4v1.2h-1.4zM271.8 64.7h1.4v1.2h-1.4zM274.0 164.0h1.4v1.2h-1.4zM276.8 92.6h1.4v1.2h-1.4zM271.0 169.0h1.4v1.2h-1.4zM272.0 11.2h1.4v1.2h-1.4zM273.0 10.5h1.4v1.2h-1.4zM274.1 18.0h1.4v1.2h-1.4zM273.3 153.9h1.4v1.2h-1.4zM270.9 156.6h1.4v1.2h-1.4zM274.2 76.6h1.4v1.2h-1.4zM275.5 108.9h1.4v1.2h-1.4zM276.8 120.8h1.4v1.2h-1.4zM274.7 133.2h1.4v1.2h-1.4zM276.9 49.1h1.4v1.2h-1.4zM277.2 133.1h1.4v1.2h-1.4zM275.9 132.5h1.4v1.2h-1.4zM276.1 130.1h1.4v1.2h-1.4zM274.5 172.6h1.4v1.2h-1.4zM275.1 14.4h1.4v1.2h-1.4zM276.0 161.3h1.4v1.2h-1.4zM275.7 50.5h1.4v1.2h-1.4zM271.1 110.6h1.4v1.2h-1.4zM274.9 84.5h1.4v1.2h-1.4zM271.6 34.7h1.4v1.2h-1.4zM271.2 30.2h1.4v1.2h-1.4zM274.2 23.9h1.4v1.2h-1.4zM271.9 102.6h1.4v1.2h-1.4zM275.5 96.5h1.4v1.2h-1.4zM273.8 143.8h1.4v1.2h-1.4zM271.9 154.0h1.4v1.2h-1.4zM271.7 124.3h1.4v1.2h-1.4zM272.9 157.1h1.4v1.2h-1.4zM272.7 71.9h1.4v1.2h-1.4zM276.9 44.5h1.4v1.2h-1.4zM276.0 152.2h1.4v1.2h-1.4zM275.0 118.5h1.4v1.2h-1.4zM273.0 161.4h1.4v1.2h-1.4zM275.0 112.7h1.4v1.2h-1.4zM270.6 138.6h1.4v1.2h-1.4zM271.5 103.4h1.4v1.2h-1.4zM276.4 148.1h1.4v1.2h-1.4zM274.7 42.4h1.4v1.2h-1.4zM276.2 135.5h1.4v1.2h-1.4zM273.6 122.9h1.4v1.2h-1.4zM276.8 100.5h1.4v1.2h-1.4zM271.6 58.6h1.4v1.2h-1.4zM272.5 161.1h1.4v1.2h-1.4zM276.9 114.6h1.4v1.2h-1.4zM273.6 87.0h1.4v1.2h-1.4zM275.0 87.1h1.4v1.2h-1.4zM271.8 39.3h1.4v1.2h-1.4z" fill="#a0ffd8" fill-opacity="0.6"/>
<path d="M270.5 130.8h1.4v1.2h-1.4zM273.8 40.5h1.4v1.2h-1.4zM273.7 143.7h1.4v1.2h-1.4zM275.9 44.0h1.4v1.2h-1.4zM274.4 61.9h1.4v1.2h-1.4zM275.9 71.1h1.4v1.2h-1.4zM273.2 171.2h1.4v1.2h-1.4zM275.2 165.5h1.4v1.2h-1.4zM271.3 25.5h1.4v1.2h-1.4zM275.4 99.7h1.4v1.2h-1.4zM274.6 92.3h1.4v1.2h-1.4zM277.1 26.1h1.4v1.2h-1.4zM271.1 22.4h1.4v1.2h-1.4zM274.8 167.0h1.4v1.2h-1.4zM272.5 72.2h1.4v1.2h-1.4zM275.6 85.4h1.4v1.2h-1.4zM270.4 91.7h1.4v1.2h-1.4zM276.7 12.9h1.4v1.2h-1.4zM272.4 112.2h1.4v1.2h-1.4zM275.1 40.4h1.4v1.2h-1.4zM275.5 95.5h1.4v1.2h-1.4zM272.6 45.7h1.4v1.2h-1.4zM271.5 148.7h1.4v1.2h-1.4zM275.2 115.6h1.4v1.2h-1.4zM277.0 139.4h1.4v1.2h-1.4zM276.7 93.8h1.4v1.2h-1.4zM271.9 87.8h1.4v1.2h-1.4zM274.2 84.8h1.4v1.2h-1.4zM274.4 83.0h1.4v1.2h-1.4zM274.6 64.3h1.4v1.2h-1.4zM276.9 95.2h1.4v1.2h-1.4zM271.7 33.0h1.4v1.2h-1.4zM272.2 144.5h1.4v1.2h-1.4zM271.2 153.5h1.4v1.2h-1.4zM276.4 136.3h1.4v1.2h-1.4zM272.8 35.2h1.4v1.2h-1.4zM276.4 46.0h1.4v1.2h-1.4zM271.8 104.0h1.4v1.2h-1.4zM271.6 161.0h1.4v1.2h-1.4zM270.7 56.8h1.4v1.2h-1.4zM273.4 135.6h1.4v1.2h-1.4zM273.4 42.6h1.4v1.2h-1.4zM272.4 132.3h1.4v1.2h-1.4zM274.0 17.9h1.4v1.2h-1.4zM275.7 37.0h1.4v1.2h-1.4zM273.3 73.9h1.4v1.2h-1.4zM273.9 16.9h1.4v1.2h-1.4zM276.0 149.3h1.4v1.2h-1.4zM271.6 110.4h1.4v1.2h-1.4zM276.6 158.6h1.4v1.2h-1.4zM276.2 158.2h1.4v1.2h-1.4zM274.1 127.6h1.4v1.2h-1.4zM274.2 28.9h1.4v1.2h-1.4z" fill="#8ff8e8" fill-opacity="0.6"/>
<path d="M442.2 24.3h1.4v1.2h-1.4zM430.2 55.3h1.4v1.2h-1.4zM431.6 38.3h1.4v1.2h-1.4zM441.7 26.3h1.4v1.2h-1.4zM436.0 17.1h1.4v1.2h-1.4zM435.0 64.9h1.4v1.2h-1.4zM438.5 105.5h1.4v1.2h-1.4zM439.2 55.8h1.4v1.2h-1.4zM438.2 56.0h1.4v1.2h-1.4zM441.7 73.9h1.4v1.2h-1.4zM439.6 19.6h1.4v1.2h-1.4zM432.8 84.0h1.4v1.2h-1.4zM442.7 29.7h1.4v1.2h-1.4zM439.4 47.0h1.4v1.2h-1.4zM429.6 26.2h1.4v1.2h-1.4zM435.4 76.2h1.4v1.2h-1.4zM442.6 70.8h1.4v1.2h-1.4zM434.6 34.7h1.4v1.2h-1.4zM439.3 64.1h1.4v1.2h-1.4zM438.6 54.3h1.4v1.2h-1.4zM437.9 35.4h1.4v1.2h-1.4zM437.7 75.9h1.4v1.2h-1.4zM438.4 82.8h1.4v1.2h-1.4zM437.4 95.9h1.4v1.2h-1.4zM436.3 27.8h1.4v1.2h-1.4zM435.6 35.1h1.4v1.2h-1.4zM434.0 27.7h1.4v1.2h-1.4zM437.7 64.4h1.4v1.2h-1.4zM430.4 76.1h1.4v1.2h-1.4zM442.0 83.5h1.4v1.2h-1.4zM440.0 51.9h1.4v1.2h-1.4zM442.1 38.0h1.4v1.2h-1.4zM435.1 23.7h1.4v1.2h-1.4zM441.8 57.2h1.4v1.2h-1.4zM436.0 56.3h1.4v1.2h-1.4zM437.1 92.1h1.4v1.2h-1.4zM436.7 98.9h1.4v1.2h-1.4zM432.5 78.0h1.4v1.2h-1.4zM436.1 85.3h1.4v1.2h-1.4zM437.4 36.9h1.4v1.2h-1.4zM433.4 81.1h1.4v1.2h-1.4zM435.0 55.3h1.4v1.2h-1.4zM435.9 37.3h1.4v1.2h-1.4zM438.2 10.3h1.4v1.2h-1.4zM438.5 43.7h1.4v1.2h-1.4zM435.1 39.7h1.4v1.2h-1.4zM433.1 10.1h1.4v1.2h-1.4zM436.7 27.8h1.4v1.2h-1.4zM433.0 58.0h1.4v1.2h-1.4zM440.8 22.6h1.4v1.2h-1.4zM433.7 69.1h1.4v1.2h-1.4zM442.4 90.5h1.4v1.2h-1.4zM436.1 18.4h1.4v1.2h-1.4zM437.2 97.7h1.4v1.2h-1.4zM434.1 66.5h1.4v1.2h-1.4zM432.7 69.6h1.4v1.2h-1.4zM435.3 57.7h1.4v1.2h-1.4zM433.8 23.9h1.4v1.2h-1.4zM432.3 25.6h1.4v1.2h-1.4zM439.5 38.6h1.4v1.2h-1.4zM438.8 72.5h1.4v1.2h-1.4zM438.0 66.9h1.4v1.2h-1.4zM442.8 79.7h1.4v1.2h-1.4zM440.2 37.2h1.4v1.2h-1.4z" fill="#a0fff0" fill-opacity="0.6"/>
<path d="M433.8 100.7h1.4v1.2h-1.4zM435.0 78.7h1.4v1.2h-1.4zM438.0 20.3h1.4v1.2h-1.4zM442.7 85.9h1.4v1.2h-1.4zM442.0 11.9h1.4v1.2h-1.4zM435.7 16.9h1.4v1.2h-1.4zM437.0 73.1h1.4v1.2h-1.4zM440.7 81.4h1.4v1.2h-1.4zM437.3 63.8h1.4v1.2h-1.4zM430.6 61.7h1.4v1.2h-1.4zM432.3 22.0h1.4v1.2h-1.4zM433.9 91.4h1.4v1.2h-1.4zM441.7 56.1h1.4v1.2h-1.4zM440.5 56.4h1.4v1.2h-1.4zM439.8 72.8h1.4v1.2h-1.4zM439.6 45.2h1.4v1.2h-1.4zM438.4 45.5h1.4v1.2h-1.4zM438.3 80.4h1.4v1.2h-1.4zM434.3 46.2h1.4v1.2h-1.4zM440.0 52.1h1.4v1.2h-1.4zM441.5 84.2h1.4v1.2h-1.4zM439.4 83.8h1.4v1.2h-1.4zM436.9 92.1h1.4v1.2h-1.4zM431.6 19.5h1.4v1.2h-1.4zM432.9 28.8h1.4v1.2h-1.4zM441.8 39.8h1.4v1.2h-1.4zM436.7 33.6h1.4v1.2h-1.4zM432.5 14.2h1.4v1.2h-1.4zM438.6 101.3h1.4v1.2h-1.4zM442.3 26.8h1.4v1.2h-1.4zM434.7 94.9h1.4v1.2h-1.4zM436.4 31.5h1.4v1.2h-1.4zM438.9 49.6h1.4v1.2h-1.4zM439.3 43.0h1.4v1.2h-1.4zM439.4 93.3h1.4v1.2h-1.4zM433.7 32.0h1.4v1.2h-1.4zM439.4 31.9h1.4v1.2h-1.4zM433.5 73.1h1.4v1.2h-1.4zM441.4 27.2h1.4v1.2h-1.4zM439.2 47.8h1.4v1.2h-1.4zM434.3 66.6h1.4v1.2h-1.4zM442.2 75.8h1.4v1.2h-1.4zM436.1 33.4h1.4v1.2h-1.4zM430.3 21.5h1.4v1.2h-1.4zM438.1 36.3h1.4v1.2h-1.4zM439.3 73.8h1.4v1.2h-1.4zM435.8 82.8h1.4v1.2h-1.4zM441.0 84.3h1.4v1.2h-1.4zM437.5 49.5h1.4v1.2h-1.4zM439.5 72.7h1.4v1.2h-1.4zM442.7 87.8h1.4v1.2h-1.4zM438.3 16.9h1.4v1.2h-1.4zM437.5 110.3h1.4v1.2h-1.4zM441.9 18.9h1.4v1.2h-1.4zM433.7 49.4h1.4v1.2h-1.4zM437.6 106.5h1.4v1.2h-1.4zM436.7 48.2h1.4v1.2h-1.4zM435.8 26.6h1.4v1.2h-1.4zM440.2 85.3h1.4v1.2h-1.4zM437.9 83.0h1.4v1.2h-1.4zM434.5 46.1h1.4v1.2h-1.4zM434.7 87.3h1.4v1.2h-1.4zM436.0 61.0h1.4v1.2h-1.4zM435.3 61.5h1.4v1.2h-1.4zM441.6 86.6h1.4v1.2h-1.4zM438.3 73.1h1.4v1.2h-1.4zM437.2 87.9h1.4v1.2h-1.4zM436.3 70.8h1.4v1.2h-1.4zM442.5 24.5h1.4v1.2h-1.4zM432.5 32.0h1.4v1.2h-1.4zM442.1 102.9h1.4v1.2h-1.4zM438.0 38.2h1.4v1.2h-1.4zM438.5 14.5h1.4v1.2h-1.4zM437.8 30.8h1.4v1.2h-1.4zM441.1 84.0h1.4v1.2h-1.4z" fill="#80f8d0" fill-opacity="0.6"/>
<path d="M442.3 67.8h1.4v1.2h-1.4zM440.7 60.9h1.4v1.2h-1.4zM437.9 46.1h1.4v1.2h-1.4zM433.9 22.0h1.4v1.2h-1.4zM435.4 35.4h1.4v1.2h-1.4zM438.1 55.2h1.4v1.2h-1.4zM436.6 46.9h1.4v1.2h-1.4zM438.8 18.7h1.4v1.2h-1.4zM441.9 21.5h1.4v1.2h-1.4zM432.0 23.1h1.4v1.2h-1.4zM440.2 78.4h1.4v1.2h-1.4zM439.4 18.1h1.4v1.2h-1.4zM437.7 12.1h1.4v1.2h-1.4zM436.4 69.8h1.4v1.2h-1.4zM442.3 24.1h1.4v1.2h-1.4zM434.5 20.4h1.4v1.2h-1.4zM439.3 75.0h1.4v1.2h-1.4zM437.7 41.3h1.4v1.2h-1.4zM431.0 53.0h1.4v1.2h-1.4zM440.8 94.6h1.4v1.2h-1.4zM431.8 31.6h1.4v1.2h-1.4zM441.7 69.5h1.4v1.2h-1.4zM439.5 88.0h1.4v1.2h-1.4zM440.7 97.8h1.4v1.2h-1.4zM440.5 83.7h1.4v1.2h-1.4zM432.2 53.9h1.4v1.2h-1.4zM440.1 65.6h1.4v1.2h-1.4zM433.9 15.3h1.4v1.2h-1.4zM440.9 41.7h1.4v1.2h-1.4zM436.6 46.2h1.4v1.2h-1.4zM435.9 81.1h1.4v1.2h-1.4zM435.7 91.4h1.4v1.2h-1.4zM441.2 58.8h1.4v1.2h-1.4zM436.0 64.1h1.4v1.2h-1.4zM440.6 28.0h1.4v1.2h-1.4zM432.6 48.1h1.4v1.2h-1.4zM438.3 46.6h1.4v1.2h-1.4zM438.4 90.3h1.4v1.2h-1.4zM441.2 75.4h1.4v1.2h-1.4zM439.9 89.2h1.4v1.2h-1.4zM442.3 88.0h1.4v1.2h-1.4zM436.2 100.7h1.4v1.2h-1.4zM436.9 23.9h1.4v1.2h-1.4zM430.6 90.3h1.4v1.2h-1.4zM439.9 34.0h1.4v1.2h-1.4zM439.8 51.9h1.4v1.2h-1.4zM439.4 17.6h1.4v1.2h-1.4zM441.0 84.6h1.4v1.2h-1.4zM441.8 38.1h1.4v1.2h-1.4zM432.7 56.3h1.4v1.2h-1.4zM435.1 48.5h1.4v1.2h-1.4zM440.5 27.9h1.4v1.2h-1.4zM439.2 77.1h1.4v1.2h-1.4zM436.7 79.1h1.4v1.2h-1.4zM440.1 29.9h1.4v1.2h-1.4zM440.6 56.4h1.4v1.2h-1.4zM442.0 61.7h1.4v1.2h-1.4zM441.2 50.7h1.4v1.2h-1.4zM434.9 16.3h1.4v1.2h-1.4zM441.6 12.5h1.4v1.2h-1.4zM436.2 77.7h1.4v1.2h-1.4zM436.4 33.0h1.4v1.2h-1.4zM436.4 59.4h1.4v1.2h-1.4z" fill="#6af0a0" fill-opacity="0.6"/>
<path d="M436.1 51.8h1.4v1.2h-1.4zM435.1 16.4h1.4v1.2h-1.4zM435.0 37.4h1.4v1.2h-1.4zM439.5 49.4h1.4v1.2h-1.4zM438.0 42.8h1.4v1.2h-1.4zM433.9 93.0h1.4v1.2h-1.4zM436.7 55.4h1.4v1.2h-1.4zM440.3 21.6h1.4v1.2h-1.4zM436.9 71.4h1.4v1.2h-1.4zM437.0 33.2h1.4v1.2h-1.4zM438.0 21.1h1.4v1.2h-1.4zM433.6 59.3h1.4v1.2h-1.4zM438.7 36.7h1.4v1.2h-1.4zM438.6 68.9h1.4v1.2h-1.4zM434.0 12.8h1.4v1.2h-1.4zM434.1 18.3h1.4v1.2h-1.4zM442.3 27.4h1.4v1.2h-1.4zM438.2 79.0h1.4v1.2h-1.4zM439.9 59.7h1.4v1.2h-1.4zM433.9 31.6h1.4v1.2h-1.4zM442.4 86.5h1.4v1.2h-1.4zM442.6 93.3h1.4v1.2h-1.4zM436.5 83.7h1.4v1.2h-1.4zM437.6 78.6h1.4v1.2h-1.4zM429.7 39.4h1.4v1.2h-1.4zM439.5 74.9h1.4v1.2h-1.4zM437.7 23.8h1.4v1.2h-1.4zM434.1 50.0h1.4v1.2h-1.4zM442.1 62.0h1.4v1.2h-1.4zM438.2 76.6h1.4v1.2h-1.4zM438.8 14.8h1.4v1.2h-1.4zM442.0 35.2h1.4v1.2h-1.4zM442.8 25.9h1.4v1.2h-1.4zM436.6 72.6h1.4v1.2h-1.4zM435.6 93.4h1.4v1.2h-1.4zM440.2 89.1h1.4v1.2h-1.4zM441.3 111.3h1.4v1.2h-1.4zM437.0 54.1h1.4v1.2h-1.4zM441.5 22.3h1.4v1.2h-1.4zM440.8 44.6h1.4v1.2h-1.4zM435.7 64.0h1.4v1.2h-1.4zM433.3 14.0h1.4v1.2h-1.4zM438.6 98.4h1.4v1.2h-1.4zM437.0 44.2h1.4v1.2h-1.4zM435.3 11.4h1.4v1.2h-1.4zM437.6 58.2h1.4v1.2h-1.4zM441.0 26.3h1.4v1.2h-1.4zM436.3 18.8h1.4v1.2h-1.4zM440.1 64.6h1.4v1.2h-1.4zM438.8 29.8h1.4v1.2h-1.4zM438.0 79.6h1.4v1.2h-1.4zM438.4 96.4h1.4v1.2h-1.4zM437.2 12.4h1.4v1.2h-1.4zM440.3 48.7h1.4v1.2h-1.4zM430.4 67.5h1.4v1.2h-1.4zM441.2 83.7h1.4v1.2h-1.4zM442.2 75.9h1.4v1.2h-1.4zM435.3 84.8h1.4v1.2h-1.4zM438.0 73.0h1.4v1.2h-1.4zM435.8 100.3h1.4v1.2h-1.4zM437.1 32.2h1.4v1.2h-1.4zM438.1 41.2h1.4v1.2h-1.4zM432.5 15.0h1.4v1.2h-1.4zM442.6 33.5h1.4v1.2h-1.4zM440.4 98.8h1.4v1.2h-1.4zM431.4 103.0h1.4v1.2h-1.4zM441.3 60.0h1.4v1.2h-1.4zM440.4 77.5h1.4v1.2h-1.4zM440.8 38.6h1.4v1.2h-1.4z" fill="#90ffe8" fill-opacity="0.6"/>
<path d="M429.8 172.2h0.9v3.5h-0.9zM332.1 168.9h0.9v3.5h-0.9zM308.4 164.8h0.9v3.5h-0.9zM397.0 163.4h0.9v3.5h-0.9zM365.0 161.9h0.9v3.5h-0.9zM280.1 172.2h0.9v3.5h-0.9zM330.0 172.6h0.9v3.5h-0.9zM400.5 164.9h0.9v3.5h-0.9zM366.6 161.6h0.9v3.5h-0.9zM283.9 166.4h0.9v3.5h-0.9zM317.2 163.1h0.9v3.5h-0.9zM317.5 172.0h0.9v3.5h-0.9zM321.2 169.9h0.9v3.5h-0.9zM374.3 166.9h0.9v3.5h-0.9zM437.1 172.9h0.9v3.5h-0.9zM395.2 169.4h0.9v3.5h-0.9zM439.6 167.9h0.9v3.5h-0.9zM421.0 168.8h0.9v3.5h-0.9zM399.9 170.2h0.9v3.5h-0.9zM439.2 170.0h0.9v3.5h-0.9zM399.7 167.1h0.9v3.5h-0.9zM384.1 168.2h0.9v3.5h-0.9zM343.0 158.7h0.9v3.5h-0.9zM375.9 170.5h0.9v3.5h-0.9zM440.0 169.5h0.9v3.5h-0.9zM295.8 167.5h0.9v3.5h-0.9zM297.8 166.3h0.9v3.5h-0.9zM367.5 172.6h0.9v3.5h-0.9zM380.2 169.4h0.9v3.5h-0.9zM298.4 171.3h0.9v3.5h-0.9zM350.4 169.7h0.9v3.5h-0.9zM408.6 171.7h0.9v3.5h-0.9zM385.0 170.7h0.9v3.5h-0.9zM420.0 162.3h0.9v3.5h-0.9zM380.8 169.7h0.9v3.5h-0.9zM380.3 162.4h0.9v3.5h-0.9zM436.6 164.2h0.9v3.5h-0.9zM409.1 171.5h0.9v3.5h-0.9zM370.3 171.5h0.9v3.5h-0.9zM384.9 165.2h0.9v3.5h-0.9zM297.6 168.9h0.9v3.5h-0.9zM320.6 171.1h0.9v3.5h-0.9zM286.4 163.7h0.9v3.5h-0.9zM394.5 166.0h0.9v3.5h-0.9zM296.2 164.3h0.9v3.5h-0.9zM310.7 162.2h0.9v3.5h-0.9zM362.0 172.7h0.9v3.5h-0.9zM408.8 161.3h0.9v3.5h-0.9zM373.3 168.8h0.9v3.5h-0.9zM293.7 164.2h0.9v3.5h-0.9zM329.1 162.3h0.9v3.5h-0.9zM422.8 171.0h0.9v3.5h-0.9zM323.4 166.4h0.9v3.5h-0.9z" fill="#80ffe8" fill-opacity="0.5"/>
<path d="M439.6 165.5h0.9v3.5h-0.9zM371.9 167.9h0.9v3.5h-0.9zM332.9 169.4h0.9v3.5h-0.9zM362.3 168.1h0.9v3.5h-0.9zM392.3 170.4h0.9v3.5h-0.9zM288.2 165.9h0.9v3.5h-0.9zM282.3 172.4h0.9v3.5h-0.9zM289.0 167.5h0.9v3.5h-0.9zM396.0 164.5h0.9v3.5h-0.9zM423.3 172.4h0.9v3.5h-0.9zM435.0 164.3h0.9v3.5h-0.9zM342.7 170.2h0.9v3.5h-0.9zM332.6 172.8h0.9v3.5h-0.9zM427.6 160.7h0.9v3.5h-0.9zM388.1 172.0h0.9v3.5h-0.9zM324.8 164.3h0.9v3.5h-0.9zM369.6 172.5h0.9v3.5h-0.9zM438.4 169.1h0.9v3.5h-0.9zM417.3 169.7h0.9v3.5h-0.9zM274.1 169.9h0.9v3.5h-0.9zM394.5 172.4h0.9v3.5h-0.9zM315.9 166.2h0.9v3.5h-0.9zM381.8 171.1h0.9v3.5h-0.9zM300.7 161.3h0.9v3.5h-0.9zM373.8 163.8h0.9v3.5h-0.9zM438.6 167.2h0.9v3.5h-0.9zM339.9 168.0h0.9v3.5h-0.9zM360.5 172.3h0.9v3.5h-0.9zM368.6 167.5h0.9v3.5h-0.9zM333.3 171.4h0.9v3.5h-0.9zM287.7 168.0h0.9v3.5h-0.9zM383.7 160.9h0.9v3.5h-0.9zM441.3 164.3h0.9v3.5h-0.9zM442.7 172.2h0.9v3.5h-0.9zM417.2 165.9h0.9v3.5h-0.9zM279.8 171.0h0.9v3.5h-0.9zM343.5 159.7h0.9v3.5h-0.9zM405.4 163.6h0.9v3.5h-0.9zM391.1 169.3h0.9v3.5h-0.9zM354.4 170.3h0.9v3.5h-0.9zM291.5 168.3h0.9v3.5h-0.9zM293.1 168.6h0.9v3.5h-0.9zM389.4 160.2h0.9v3.5h-0.9zM434.3 168.6h0.9v3.5h-0.9zM406.5 170.5h0.9v3.5h-0.9zM272.3 162.6h0.9v3.5h-0.9zM359.3 165.9h0.9v3.5h-0.9zM382.8 166.1h0.9v3.5h-0.9zM312.0 165.6h0.9v3.5h-0.9zM427.3 169.3h0.9v3.5h-0.9zM356.6 167.5h0.9v3.5h-0.9zM364.8 160.7h0.9v3.5h-0.9zM306.8 164.7h0.9v3.5h-0.9z" fill="#90ffff" fill-opacity="0.5"/>
<path d="M318.8 172.6h0.9v3.5h-0.9zM290.0 159.5h0.9v3.5h-0.9zM289.1 171.5h0.9v3.5h-0.9zM294.9 169.2h0.9v3.5h-0.9zM299.2 172.6h0.9v3.5h-0.9zM425.7 164.7h0.9v3.5h-0.9zM410.7 171.4h0.9v3.5h-0.9zM403.4 166.4h0.9v3.5h-0.9zM285.2 171.1h0.9v3.5h-0.9zM341.3 168.2h0.9v3.5h-0.9zM289.5 169.4h0.9v3.5h-0.9zM277.7 170.1h0.9v3.5h-0.9zM362.3 170.9h0.9v3.5h-0.9zM435.2 167.6h0.9v3.5h-0.9zM344.0 170.3h0.9v3.5h-0.9zM333.5 172.3h0.9v3.5h-0.9zM379.2 170.2h0.9v3.5h-0.9zM314.2 169.1h0.9v3.5h-0.9zM358.7 171.6h0.9v3.5h-0.9zM414.7 169.3h0.9v3.5h-0.9zM391.0 164.1h0.9v3.5h-0.9zM397.9 167.0h0.9v3.5h-0.9zM353.0 168.7h0.9v3.5h-0.9zM371.7 170.7h0.9v3.5h-0.9zM298.4 167.6h0.9v3.5h-0.9zM363.6 167.6h0.9v3.5h-0.9zM305.8 163.8h0.9v3.5h-0.9zM291.1 169.0h0.9v3.5h-0.9zM274.8 164.2h0.9v3.5h-0.9zM357.3 172.0h0.9v3.5h-0.9zM360.8 171.0h0.9v3.5h-0.9zM418.6 169.7h0.9v3.5h-0.9zM275.5 171.0h0.9v3.5h-0.9zM302.8 170.0h0.9v3.5h-0.9zM402.0 164.8h0.9v3.5h-0.9zM381.3 172.2h0.9v3.5h-0.9zM325.3 168.4h0.9v3.5h-0.9zM339.7 169.8h0.9v3.5h-0.9zM323.4 171.0h0.9v3.5h-0.9zM302.1 171.1h0.9v3.5h-0.9zM368.5 170.2h0.9v3.5h-0.9zM314.4 163.3h0.9v3.5h-0.9zM413.0 169.4h0.9v3.5h-0.9zM383.2 167.9h0.9v3.5h-0.9zM347.4 162.4h0.9v3.5h-0.9zM440.5 170.0h0.9v3.5h-0.9zM334.7 167.1h0.9v3.5h-0.9zM282.6 172.1h0.9v3.5h-0.9zM392.9 165.0h0.9v3.5h-0.9zM327.0 170.8h0.9v3.5h-0.9zM401.5 163.0h0.9v3.5h-0.9zM273.6 171.9h0.9v3.5h-0.9zM351.4 166.8h0.9v3.5h-0.9z" fill="#70f8d8" fill-opacity="0.5"/>
</g>
<defs><clipPath id="clipb"><rect x="270.3" y="9.9" width="172.5" height="163.5"/></clipPath></defs>
<rect x="270.3" y="9.9" width="172.5" height="163.5" stroke="#3a3a3a" stroke-width="0.9" fill="none"/>
<line x1="275.8" y1="173.4" x2="275.8" y2="176.4" stroke="#333" stroke-width="0.9"/>
<text x="275.8" y="187.6" font-size="11.6" text-anchor="middle" fill="#0a0a0a">400</text>
<line x1="304.54" y1="173.4" x2="304.54" y2="176.4" stroke="#333" stroke-width="0.9"/>
<text x="304.54" y="187.6" font-size="11.6" text-anchor="middle" fill="#0a0a0a">450</text>
<line x1="333.28" y1="173.4" x2="333.28" y2="176.4" stroke="#333" stroke-width="0.9"/>
<text x="333.28" y="187.6" font-size="11.6" text-anchor="middle" fill="#0a0a0a">500</text>
<line x1="362.02" y1="173.4" x2="362.02" y2="176.4" stroke="#333" stroke-width="0.9"/>
<text x="362.02" y="187.6" font-size="11.6" text-anchor="middle" fill="#0a0a0a">550</text>
<line x1="390.76" y1="173.4" x2="390.76" y2="176.4" stroke="#333" stroke-width="0.9"/>
<text x="390.76" y="187.6" font-size="11.6" text-anchor="middle" fill="#0a0a0a">600</text>
<line x1="419.5" y1="173.4" x2="419.5" y2="176.4" stroke="#333" stroke-width="0.9"/>
<text x="419.5" y="187.6" font-size="11.6" text-anchor="middle" fill="#0a0a0a">650</text>
<line x1="290.17" y1="173.4" x2="290.17" y2="175.4" stroke="#333" stroke-width="0.9"/>
<line x1="318.91" y1="173.4" x2="318.91" y2="175.4" stroke="#333" stroke-width="0.9"/>
<line x1="347.65" y1="173.4" x2="347.65" y2="175.4" stroke="#333" stroke-width="0.9"/>
<line x1="376.39" y1="173.4" x2="376.39" y2="175.4" stroke="#333" stroke-width="0.9"/>
<line x1="405.13" y1="173.4" x2="405.13" y2="175.4" stroke="#333" stroke-width="0.9"/>
<line x1="433.87" y1="173.4" x2="433.87" y2="175.4" stroke="#333" stroke-width="0.9"/>
<line x1="267.3" y1="161.15" x2="270.3" y2="161.15" stroke="#333" stroke-width="0.9"/>
<text x="264.6" y="165.25" font-size="11.4" text-anchor="end" fill="#0a0a0a">10<tspan font-size="8.44" dy="-4.6">-1</tspan></text>
<line x1="267.3" y1="130.45" x2="270.3" y2="130.45" stroke="#333" stroke-width="0.9"/>
<text x="264.6" y="134.55" font-size="11.4" text-anchor="end" fill="#0a0a0a">10<tspan font-size="8.44" dy="-4.6">0</tspan></text>
<line x1="267.3" y1="99.75" x2="270.3" y2="99.75" stroke="#333" stroke-width="0.9"/>
<text x="264.6" y="103.85" font-size="11.4" text-anchor="end" fill="#0a0a0a">10<tspan font-size="8.44" dy="-4.6">1</tspan></text>
<line x1="267.3" y1="69.05" x2="270.3" y2="69.05" stroke="#333" stroke-width="0.9"/>
<text x="264.6" y="73.15" font-size="11.4" text-anchor="end" fill="#0a0a0a">10<tspan font-size="8.44" dy="-4.6">2</tspan></text>
<line x1="267.3" y1="38.35" x2="270.3" y2="38.35" stroke="#333" stroke-width="0.9"/>
<text x="264.6" y="42.45" font-size="11.4" text-anchor="end" fill="#0a0a0a">10<tspan font-size="8.44" dy="-4.6">3</tspan></text>
<line x1="268.5" y1="173.37" x2="270.3" y2="173.37" stroke="#333" stroke-width="0.8"/>
<line x1="268.5" y1="170.39" x2="270.3" y2="170.39" stroke="#333" stroke-width="0.8"/>
<line x1="268.5" y1="167.96" x2="270.3" y2="167.96" stroke="#333" stroke-width="0.8"/>
<line x1="268.5" y1="165.91" x2="270.3" y2="165.91" stroke="#333" stroke-width="0.8"/>
<line x1="268.5" y1="164.13" x2="270.3" y2="164.13" stroke="#333" stroke-width="0.8"/>
<line x1="268.5" y1="162.55" x2="270.3" y2="162.55" stroke="#333" stroke-width="0.8"/>
<line x1="268.5" y1="151.91" x2="270.3" y2="151.91" stroke="#333" stroke-width="0.8"/>
<line x1="268.5" y1="146.5" x2="270.3" y2="146.5" stroke="#333" stroke-width="0.8"/>
<line x1="268.5" y1="142.67" x2="270.3" y2="142.67" stroke="#333" stroke-width="0.8"/>
<line x1="268.5" y1="139.69" x2="270.3" y2="139.69" stroke="#333" stroke-width="0.8"/>
<line x1="268.5" y1="137.26" x2="270.3" y2="137.26" stroke="#333" stroke-width="0.8"/>
<line x1="268.5" y1="135.21" x2="270.3" y2="135.21" stroke="#333" stroke-width="0.8"/>
<line x1="268.5" y1="133.43" x2="270.3" y2="133.43" stroke="#333" stroke-width="0.8"/>
<line x1="268.5" y1="131.85" x2="270.3" y2="131.85" stroke="#333" stroke-width="0.8"/>
<line x1="268.5" y1="121.21" x2="270.3" y2="121.21" stroke="#333" stroke-width="0.8"/>
<line x1="268.5" y1="115.8" x2="270.3" y2="115.8" stroke="#333" stroke-width="0.8"/>
<line x1="268.5" y1="111.97" x2="270.3" y2="111.97" stroke="#333" stroke-width="0.8"/>
<line x1="268.5" y1="108.99" x2="270.3" y2="108.99" stroke="#333" stroke-width="0.8"/>
<line x1="268.5" y1="106.56" x2="270.3" y2="106.56" stroke="#333" stroke-width="0.8"/>
<line x1="268.5" y1="104.51" x2="270.3" y2="104.51" stroke="#333" stroke-width="0.8"/>
<line x1="268.5" y1="102.73" x2="270.3" y2="102.73" stroke="#333" stroke-width="0.8"/>
<line x1="268.5" y1="101.15" x2="270.3" y2="101.15" stroke="#333" stroke-width="0.8"/>
<line x1="268.5" y1="90.51" x2="270.3" y2="90.51" stroke="#333" stroke-width="0.8"/>
<line x1="268.5" y1="85.1" x2="270.3" y2="85.1" stroke="#333" stroke-width="0.8"/>
<line x1="268.5" y1="81.27" x2="270.3" y2="81.27" stroke="#333" stroke-width="0.8"/>
<line x1="268.5" y1="78.29" x2="270.3" y2="78.29" stroke="#333" stroke-width="0.8"/>
<line x1="268.5" y1="75.86" x2="270.3" y2="75.86" stroke="#333" stroke-width="0.8"/>
<line x1="268.5" y1="73.81" x2="270.3" y2="73.81" stroke="#333" stroke-width="0.8"/>
<line x1="268.5" y1="72.03" x2="270.3" y2="72.03" stroke="#333" stroke-width="0.8"/>
<line x1="268.5" y1="70.45" x2="270.3" y2="70.45" stroke="#333" stroke-width="0.8"/>
<line x1="268.5" y1="59.81" x2="270.3" y2="59.81" stroke="#333" stroke-width="0.8"/>
<line x1="268.5" y1="54.4" x2="270.3" y2="54.4" stroke="#333" stroke-width="0.8"/>
<line x1="268.5" y1="50.57" x2="270.3" y2="50.57" stroke="#333" stroke-width="0.8"/>
<line x1="268.5" y1="47.59" x2="270.3" y2="47.59" stroke="#333" stroke-width="0.8"/>
<line x1="268.5" y1="45.16" x2="270.3" y2="45.16" stroke="#333" stroke-width="0.8"/>
<line x1="268.5" y1="43.11" x2="270.3" y2="43.11" stroke="#333" stroke-width="0.8"/>
<line x1="268.5" y1="41.33" x2="270.3" y2="41.33" stroke="#333" stroke-width="0.8"/>
<line x1="268.5" y1="39.75" x2="270.3" y2="39.75" stroke="#333" stroke-width="0.8"/>
<line x1="268.5" y1="29.11" x2="270.3" y2="29.11" stroke="#333" stroke-width="0.8"/>
<line x1="268.5" y1="23.7" x2="270.3" y2="23.7" stroke="#333" stroke-width="0.8"/>
<line x1="268.5" y1="19.87" x2="270.3" y2="19.87" stroke="#333" stroke-width="0.8"/>
<line x1="268.5" y1="16.89" x2="270.3" y2="16.89" stroke="#333" stroke-width="0.8"/>
<line x1="268.5" y1="14.46" x2="270.3" y2="14.46" stroke="#333" stroke-width="0.8"/>
<line x1="268.5" y1="12.41" x2="270.3" y2="12.41" stroke="#333" stroke-width="0.8"/>
<line x1="268.5" y1="10.63" x2="270.3" y2="10.63" stroke="#333" stroke-width="0.8"/>
<text x="356.55" y="197.2" font-size="11.7" text-anchor="middle" fill="#0a0a0a">Wavelength (nm)</text>
<text x="245" y="95" font-size="11.3" text-anchor="middle" fill="#0a0a0a" transform="rotate(-90 245 95)">Delay time (ps)</text>
<defs><linearGradient id="cbb" x1="0" y1="0" x2="0" y2="1">
<stop offset="0.000" stop-color="#ff1818"/>
<stop offset="0.120" stop-color="#f06030"/>
<stop offset="0.190" stop-color="#e8a840"/>
<stop offset="0.245" stop-color="#f0f040"/>
<stop offset="0.340" stop-color="#b0f030"/>
<stop offset="0.470" stop-color="#40f000"/>
<stop offset="0.600" stop-color="#70f090"/>
<stop offset="0.740" stop-color="#70ffff"/>
<stop offset="0.820" stop-color="#50c0ff"/>
<stop offset="0.890" stop-color="#3070ff"/>
<stop offset="1.000" stop-color="#1010e0"/>
</linearGradient></defs>
<rect x="285.4" y="31.2" width="14.8" height="57.9" stroke="#444" stroke-width="0.8" fill="url(#cbb)"/>
<line x1="300.2" y1="31.2" x2="303.2" y2="31.2" stroke="#444" stroke-width="0.8"/>
<line x1="300.2" y1="89.1" x2="303.2" y2="89.1" stroke="#444" stroke-width="0.8"/>
<text x="305.8" y="33.3" font-size="5.9" text-anchor="start" fill="#222">0.01950</text>
<text x="305.8" y="91.2" font-size="5.9" text-anchor="start" fill="#222">-0.009800</text>
<text x="285.9" y="25.4" font-size="9.2" text-anchor="start" fill="#222">&#916;A (OD)</text>
<text x="237.6" y="14.2" font-size="16.5" text-anchor="start" font-weight="bold" fill="#000">b</text>
<defs><linearGradient id="c0"><stop offset="0.003" stop-color="#46fc12"/><stop offset="0.317" stop-color="#46fc12"/><stop offset="0.323" stop-color="#4afc13"/><stop offset="0.328" stop-color="#55fc16"/><stop offset="0.334" stop-color="#55fc16"/><stop offset="0.340" stop-color="#4afc13"/><stop offset="0.358" stop-color="#46fc12"/><stop offset="0.997" stop-color="#46fc12"/></linearGradient>
<linearGradient id="c2"><stop offset="0.003" stop-color="#46fc12"/><stop offset="0.317" stop-color="#46fc12"/><stop offset="0.323" stop-color="#4afc13"/><stop offset="0.328" stop-color="#55fc16"/><stop offset="0.334" stop-color="#55fc16"/><stop offset="0.340" stop-color="#4afc13"/><stop offset="0.358" stop-color="#46fc12"/><stop offset="0.997" stop-color="#46fc12"/></linearGradient>
<linearGradient id="c4"><stop offset="0.003" stop-color="#46fc12"/><stop offset="0.317" stop-color="#46fc12"/><stop offset="0.323" stop-color="#4afc13"/><stop offset="0.328" stop-color="#55fc16"/><stop offset="0.334" stop-color="#55fc16"/><stop offset="0.340" stop-color="#4afc13"/><stop offset="0.358" stop-color="#46fc12"/><stop offset="0.997" stop-color="#46fc12"/></linearGradient>
<linearGradient id="c6"><stop offset="0.003" stop-color="#46fc12"/><stop offset="0.317" stop-color="#46fc12"/><stop offset="0.323" stop-color="#4afc13"/><stop offset="0.328" stop-color="#55fc16"/><stop offset="0.334" stop-color="#55fc16"/><stop offset="0.340" stop-color="#4afc13"/><stop offset="0.358" stop-color="#46fc12"/><stop offset="0.997" stop-color="#47fc12"/></linearGradient>
<linearGradient id="c8"><stop offset="0.003" stop-color="#46fc12"/><stop offset="0.317" stop-color="#46fc12"/><stop offset="0.323" stop-color="#4afc13"/><stop offset="0.328" stop-color="#55fc16"/><stop offset="0.334" stop-color="#55fc16"/><stop offset="0.340" stop-color="#4afc13"/><stop offset="0.358" stop-color="#46fc12"/><stop offset="0.997" stop-color="#47fc12"/></linearGradient>
<linearGradient id="c10"><stop offset="0.003" stop-color="#46fc12"/><stop offset="0.317" stop-color="#46fc12"/><stop offset="0.323" stop-color="#4afc13"/><stop offset="0.328" stop-color="#55fc16"/><stop offset="0.334" stop-color="#55fc16"/><stop offset="0.340" stop-color="#4afc13"/><stop offset="0.358" stop-color="#46fc12"/><stop offset="0.997" stop-color="#47fc12"/></linearGradient>
<linearGradient id="c12"><stop offset="0.003" stop-color="#46fc12"/><stop offset="0.317" stop-color="#46fc12"/><stop offset="0.323" stop-color="#4afc13"/><stop offset="0.328" stop-color="#55fc16"/><stop offset="0.334" stop-color="#55fc16"/><stop offset="0.340" stop-color="#4afc13"/><stop offset="0.358" stop-color="#46fc12"/><stop offset="0.997" stop-color="#48fc13"/></linearGradient>
<linearGradient id="c14"><stop offset="0.003" stop-color="#46fc12"/><stop offset="0.317" stop-color="#46fc12"/><stop offset="0.323" stop-color="#4afc13"/><stop offset="0.328" stop-color="#55fc16"/><stop offset="0.334" stop-color="#55fc16"/><stop offset="0.340" stop-color="#4afc13"/><stop offset="0.358" stop-color="#46fc12"/><stop offset="0.997" stop-color="#49fc13"/></linearGradient>
<linearGradient id="c16"><stop offset="0.003" stop-color="#46fc12"/><stop offset="0.317" stop-color="#46fc12"/><stop offset="0.323" stop-color="#4afc13"/><stop offset="0.328" stop-color="#55fc16"/><stop offset="0.334" stop-color="#55fc16"/><stop offset="0.340" stop-color="#4afc13"/><stop offset="0.358" stop-color="#46fc12"/><stop offset="0.997" stop-color="#4afc13"/></linearGradient>
<linearGradient id="c18"><stop offset="0.003" stop-color="#46fc12"/><stop offset="0.317" stop-color="#46fc12"/><stop offset="0.323" stop-color="#4afc13"/><stop offset="0.328" stop-color="#55fc16"/><stop offset="0.334" stop-color="#55fc16"/><stop offset="0.340" stop-color="#4afc13"/><stop offset="0.358" stop-color="#46fc12"/><stop offset="0.997" stop-color="#4cfc14"/></linearGradient>
<linearGradient id="c20"><stop offset="0.003" stop-color="#46fc12"/><stop offset="0.317" stop-color="#46fc12"/><stop offset="0.323" stop-color="#4afc13"/><stop offset="0.328" stop-color="#55fc16"/><stop offset="0.334" stop-color="#55fc16"/><stop offset="0.340" stop-color="#4afc13"/><stop offset="0.358" stop-color="#46fc12"/><stop offset="0.846" stop-color="#4bfc13"/><stop offset="0.997" stop-color="#4efc14"/></linearGradient>
<linearGradient id="c22"><stop offset="0.003" stop-color="#46fc12"/><stop offset="0.317" stop-color="#46fc12"/><stop offset="0.323" stop-color="#4afc13"/><stop offset="0.328" stop-color="#55fc16"/><stop offset="0.334" stop-color="#55fc16"/><stop offset="0.340" stop-color="#4afc13"/><stop offset="0.358" stop-color="#46fc12"/><stop offset="0.799" stop-color="#4bfc13"/><stop offset="0.997" stop-color="#50fc15"/></linearGradient>
<linearGradient id="c24"><stop offset="0.003" stop-color="#46fc12"/><stop offset="0.317" stop-color="#46fc12"/><stop offset="0.323" stop-color="#4afc13"/><stop offset="0.328" stop-color="#55fc16"/><stop offset="0.334" stop-color="#55fc16"/><stop offset="0.340" stop-color="#4afc13"/><stop offset="0.358" stop-color="#46fc12"/><stop offset="0.765" stop-color="#4bfc13"/><stop offset="0.997" stop-color="#53fc16"/></linearGradient>
<linearGradient id="c26"><stop offset="0.003" stop-color="#46fc12"/><stop offset="0.317" stop-color="#46fc12"/><stop offset="0.323" stop-color="#4afc13"/><stop offset="0.328" stop-color="#55fc16"/><stop offset="0.334" stop-color="#55fc16"/><stop offset="0.340" stop-color="#4afc13"/><stop offset="0.358" stop-color="#46fc12"/><stop offset="0.735" stop-color="#4bfc13"/><stop offset="0.997" stop-color="#57fc17"/></linearGradient>
<linearGradient id="c28"><stop offset="0.003" stop-color="#46fc12"/><stop offset="0.317" stop-color="#46fc12"/><stop offset="0.323" stop-color="#4afc13"/><stop offset="0.328" stop-color="#55fc16"/><stop offset="0.334" stop-color="#55fc16"/><stop offset="0.340" stop-color="#4afc13"/><stop offset="0.358" stop-color="#46fc12"/><stop offset="0.712" stop-color="#4bfc13"/><stop offset="0.991" stop-color="#5bfd18"/><stop offset="0.997" stop-color="#5bfd18"/></linearGradient>
<linearGradient id="c30"><stop offset="0.003" stop-color="#46fc12"/><stop offset="0.317" stop-color="#46fc12"/><stop offset="0.323" stop-color="#4afc13"/><stop offset="0.328" stop-color="#55fc16"/><stop offset="0.334" stop-color="#55fc16"/><stop offset="0.340" stop-color="#4afc13"/><stop offset="0.358" stop-color="#46fc12"/><stop offset="0.689" stop-color="#4bfc13"/><stop offset="0.974" stop-color="#5ffd19"/><stop offset="0.997" stop-color="#5ffd19"/></linearGradient>
<linearGradient id="c32"><stop offset="0.003" stop-color="#46fc12"/><stop offset="0.317" stop-color="#46fc12"/><stop offset="0.323" stop-color="#4afc13"/><stop offset="0.328" stop-color="#55fc16"/><stop offset="0.334" stop-color="#55fc16"/><stop offset="0.340" stop-color="#4afc13"/><stop offset="0.358" stop-color="#46fc12"/><stop offset="0.666" stop-color="#4bfc13"/><stop offset="0.962" stop-color="#64fd1a"/><stop offset="0.997" stop-color="#64fd1a"/></linearGradient>
<linearGradient id="c34"><stop offset="0.003" stop-color="#46fc12"/><stop offset="0.317" stop-color="#46fc12"/><stop offset="0.323" stop-color="#4afc13"/><stop offset="0.328" stop-color="#55fc16"/><stop offset="0.334" stop-color="#55fc16"/><stop offset="0.340" stop-color="#4afc13"/><stop offset="0.358" stop-color="#46fc12"/><stop offset="0.648" stop-color="#4bfc13"/><stop offset="0.945" stop-color="#69fd1c"/><stop offset="0.997" stop-color="#6afd1c"/></linearGradient>
<linearGradient id="c36"><stop offset="0.003" stop-color="#46fc12"/><stop offset="0.317" stop-color="#46fc12"/><stop offset="0.323" stop-color="#4afc13"/><stop offset="0.328" stop-color="#55fc16"/><stop offset="0.334" stop-color="#55fc16"/><stop offset="0.340" stop-color="#4afc13"/><stop offset="0.358" stop-color="#46fc12"/><stop offset="0.631" stop-color="#4bfc13"/><stop offset="0.933" stop-color="#6efd1d"/><stop offset="0.997" stop-color="#70fd1d"/></linearGradient>
<linearGradient id="c38"><stop offset="0.003" stop-color="#46fc12"/><stop offset="0.317" stop-color="#46fc12"/><stop offset="0.323" stop-color="#4afc13"/><stop offset="0.328" stop-color="#55fc16"/><stop offset="0.334" stop-color="#55fc16"/><stop offset="0.340" stop-color="#4afc13"/><stop offset="0.358" stop-color="#46fc12"/><stop offset="0.613" stop-color="#4bfc13"/><stop offset="0.916" stop-color="#73fd1e"/><stop offset="0.997" stop-color="#76fd1f"/></linearGradient>
<linearGradient id="c40"><stop offset="0.003" stop-color="#46fc12"/><stop offset="0.317" stop-color="#46fc12"/><stop offset="0.323" stop-color="#4afc13"/><stop offset="0.328" stop-color="#55fc16"/><stop offset="0.334" stop-color="#55fc16"/><stop offset="0.340" stop-color="#4afc13"/><stop offset="0.358" stop-color="#46fc12"/><stop offset="0.602" stop-color="#4bfc13"/><stop offset="0.898" stop-color="#78fd20"/><stop offset="0.997" stop-color="#7cfd21"/></linearGradient>
<linearGradient id="c42"><stop offset="0.003" stop-color="#46fc12"/><stop offset="0.317" stop-color="#46fc12"/><stop offset="0.323" stop-color="#4afc13"/><stop offset="0.328" stop-color="#55fc16"/><stop offset="0.334" stop-color="#55fc16"/><stop offset="0.340" stop-color="#4afc13"/><stop offset="0.358" stop-color="#46fc12"/><stop offset="0.584" stop-color="#4bfc13"/><stop offset="0.730" stop-color="#64fd1a"/><stop offset="0.881" stop-color="#7cfd21"/><stop offset="0.997" stop-color="#82fe22"/></linearGradient>
<linearGradient id="c44"><stop offset="0.003" stop-color="#46fc12"/><stop offset="0.317" stop-color="#46fc12"/><stop offset="0.323" stop-color="#4afc13"/><stop offset="0.328" stop-color="#55fc16"/><stop offset="0.334" stop-color="#55fc16"/><stop offset="0.340" stop-color="#4afc13"/><stop offset="0.358" stop-color="#46fc12"/><stop offset="0.573" stop-color="#4bfc13"/><stop offset="0.689" stop-color="#60fd19"/><stop offset="0.840" stop-color="#7efe21"/><stop offset="0.997" stop-color="#88fe24"/></linearGradient>
<linearGradient id="c46"><stop offset="0.003" stop-color="#46fc12"/><stop offset="0.317" stop-color="#46fc12"/><stop offset="0.323" stop-color="#4afc13"/><stop offset="0.328" stop-color="#55fc16"/><stop offset="0.334" stop-color="#55fc16"/><stop offset="0.340" stop-color="#4afc13"/><stop offset="0.358" stop-color="#46fc12"/><stop offset="0.561" stop-color="#4bfc13"/><stop offset="0.660" stop-color="#5efd18"/><stop offset="0.805" stop-color="#81fe22"/><stop offset="0.962" stop-color="#8dfe25"/><stop offset="0.997" stop-color="#8dfe25"/></linearGradient>
<linearGradient id="c48"><stop offset="0.003" stop-color="#46fc12"/><stop offset="0.317" stop-color="#46fc12"/><stop offset="0.323" stop-color="#4afc13"/><stop offset="0.328" stop-color="#55fc16"/><stop offset="0.334" stop-color="#55fc16"/><stop offset="0.340" stop-color="#4afc13"/><stop offset="0.358" stop-color="#46fc12"/><stop offset="0.555" stop-color="#4bfc13"/><stop offset="0.648" stop-color="#60fd19"/><stop offset="0.776" stop-color="#84fe23"/><stop offset="0.892" stop-color="#90fe26"/><stop offset="0.997" stop-color="#92fe27"/></linearGradient>
<linearGradient id="c50"><stop offset="0.003" stop-color="#46fc12"/><stop offset="0.317" stop-color="#46fc12"/><stop offset="0.323" stop-color="#4afc13"/><stop offset="0.328" stop-color="#55fc16"/><stop offset="0.334" stop-color="#55fc16"/><stop offset="0.340" stop-color="#4afc13"/><stop offset="0.358" stop-color="#46fc12"/><stop offset="0.544" stop-color="#4bfc13"/><stop offset="0.625" stop-color="#5dfd18"/><stop offset="0.753" stop-color="#88fe24"/><stop offset="0.852" stop-color="#95fe28"/><stop offset="0.997" stop-color="#97fe28"/></linearGradient>
<linearGradient id="c52"><stop offset="0.003" stop-color="#46fc12"/><stop offset="0.317" stop-color="#46fc12"/><stop offset="0.323" stop-color="#4afc13"/><stop offset="0.328" stop-color="#55fc16"/><stop offset="0.334" stop-color="#55fc16"/><stop offset="0.340" stop-color="#4afc13"/><stop offset="0.358" stop-color="#46fc12"/><stop offset="0.532" stop-color="#4bfc13"/><stop offset="0.608" stop-color="#5cfd18"/><stop offset="0.735" stop-color="#8efe26"/><stop offset="0.823" stop-color="#9cfe29"/><stop offset="0.997" stop-color="#9bfe29"/></linearGradient>
<linearGradient id="c54"><stop offset="0.003" stop-color="#46fc12"/><stop offset="0.317" stop-color="#46fc12"/><stop offset="0.323" stop-color="#4afc13"/><stop offset="0.328" stop-color="#55fc16"/><stop offset="0.334" stop-color="#55fc16"/><stop offset="0.340" stop-color="#4afc13"/><stop offset="0.358" stop-color="#46fc12"/><stop offset="0.526" stop-color="#4cfc14"/><stop offset="0.596" stop-color="#5dfd18"/><stop offset="0.724" stop-color="#95fe27"/><stop offset="0.799" stop-color="#a3ff2b"/><stop offset="0.997" stop-color="#9ffe2a"/></linearGradient>
<linearGradient id="c56"><stop offset="0.003" stop-color="#46fc12"/><stop offset="0.317" stop-color="#46fc12"/><stop offset="0.323" stop-color="#4afc13"/><stop offset="0.328" stop-color="#55fc16"/><stop offset="0.334" stop-color="#55fc16"/><stop offset="0.340" stop-color="#4afc13"/><stop offset="0.358" stop-color="#46fc12"/><stop offset="0.515" stop-color="#4cfc14"/><stop offset="0.584" stop-color="#5dfd18"/><stop offset="0.712" stop-color="#9cfe29"/><stop offset="0.782" stop-color="#abff2e"/><stop offset="0.869" stop-color="#aaff2d"/><stop offset="0.997" stop-color="#a2fe2b"/></linearGradient>
<linearGradient id="c58"><stop offset="0.003" stop-color="#46fc12"/><stop offset="0.317" stop-color="#46fc12"/><stop offset="0.323" stop-color="#4afc13"/><stop offset="0.328" stop-color="#55fc16"/><stop offset="0.334" stop-color="#55fc16"/><stop offset="0.340" stop-color="#4afc13"/><stop offset="0.358" stop-color="#46fc12"/><stop offset="0.509" stop-color="#4cfc14"/><stop offset="0.573" stop-color="#5dfd18"/><stop offset="0.660" stop-color="#8dfe25"/><stop offset="0.724" stop-color="#abff2d"/><stop offset="0.788" stop-color="#b5ff30"/><stop offset="0.881" stop-color="#aeff2e"/><stop offset="0.991" stop-color="#a4ff2c"/><stop offset="0.997" stop-color="#a4ff2c"/></linearGradient>
<linearGradient id="c60"><stop offset="0.003" stop-color="#46fc12"/><stop offset="0.317" stop-color="#46fc12"/><stop offset="0.323" stop-color="#4afc13"/><stop offset="0.328" stop-color="#55fc16"/><stop offset="0.334" stop-color="#55fc16"/><stop offset="0.340" stop-color="#4afc13"/><stop offset="0.358" stop-color="#46fc12"/><stop offset="0.503" stop-color="#4dfc14"/><stop offset="0.567" stop-color="#5ffd19"/><stop offset="0.642" stop-color="#8cfe25"/><stop offset="0.706" stop-color="#b0ff2f"/><stop offset="0.770" stop-color="#baff32"/><stop offset="0.875" stop-color="#b5ff30"/><stop offset="0.980" stop-color="#a7ff2c"/><stop offset="0.997" stop-color="#a7ff2c"/></linearGradient>
<linearGradient id="c62"><stop offset="0.003" stop-color="#46fc12"/><stop offset="0.317" stop-color="#46fc12"/><stop offset="0.323" stop-color="#4afc13"/><stop offset="0.328" stop-color="#55fc16"/><stop offset="0.334" stop-color="#55fc16"/><stop offset="0.340" stop-color="#4afc13"/><stop offset="0.358" stop-color="#46fc12"/><stop offset="0.491" stop-color="#4cfc14"/><stop offset="0.555" stop-color="#5efd19"/><stop offset="0.619" stop-color="#85fe23"/><stop offset="0.683" stop-color="#b0ff2f"/><stop offset="0.741" stop-color="#bdff33"/><stop offset="0.834" stop-color="#beff33"/><stop offset="0.991" stop-color="#a9ff2d"/><stop offset="0.997" stop-color="#a9ff2d"/></linearGradient>
<linearGradient id="c64"><stop offset="0.003" stop-color="#46fc12"/><stop offset="0.317" stop-color="#46fc12"/><stop offset="0.323" stop-color="#4afc13"/><stop offset="0.328" stop-color="#55fc16"/><stop offset="0.334" stop-color="#55fc16"/><stop offset="0.340" stop-color="#4afc13"/><stop offset="0.358" stop-color="#46fc12"/><stop offset="0.485" stop-color="#4dfc14"/><stop offset="0.544" stop-color="#5dfd18"/><stop offset="0.602" stop-color="#81fe22"/><stop offset="0.672" stop-color="#b3ff30"/><stop offset="0.735" stop-color="#c2ff34"/><stop offset="0.828" stop-color="#c2ff34"/><stop offset="0.991" stop-color="#abff2d"/><stop offset="0.997" stop-color="#abff2d"/></linearGradient>
<linearGradient id="c66"><stop offset="0.003" stop-color="#46fc12"/><stop offset="0.317" stop-color="#46fc12"/><stop offset="0.323" stop-color="#4afc13"/><stop offset="0.328" stop-color="#55fc16"/><stop offset="0.334" stop-color="#55fc16"/><stop offset="0.340" stop-color="#4afc13"/><stop offset="0.358" stop-color="#46fc12"/><stop offset="0.480" stop-color="#4dfc14"/><stop offset="0.538" stop-color="#5efd19"/><stop offset="0.590" stop-color="#7ffe22"/><stop offset="0.660" stop-color="#b5ff30"/><stop offset="0.724" stop-color="#c5ff35"/><stop offset="0.817" stop-color="#c7ff36"/><stop offset="0.997" stop-color="#adff2e"/></linearGradient>
<linearGradient id="c68"><stop offset="0.003" stop-color="#46fc12"/><stop offset="0.317" stop-color="#46fc12"/><stop offset="0.323" stop-color="#4afc13"/><stop offset="0.328" stop-color="#55fc16"/><stop offset="0.334" stop-color="#55fc16"/><stop offset="0.340" stop-color="#4afc13"/><stop offset="0.358" stop-color="#46fc12"/><stop offset="0.474" stop-color="#4dfc14"/><stop offset="0.532" stop-color="#5ffd19"/><stop offset="0.584" stop-color="#82fe22"/><stop offset="0.648" stop-color="#b6ff31"/><stop offset="0.712" stop-color="#c8ff36"/><stop offset="0.805" stop-color="#ccff37"/><stop offset="0.922" stop-color="#b9ff32"/><stop offset="0.997" stop-color="#aeff2e"/></linearGradient>
<linearGradient id="c70"><stop offset="0.003" stop-color="#46fc12"/><stop offset="0.317" stop-color="#46fc12"/><stop offset="0.323" stop-color="#4afc13"/><stop offset="0.328" stop-color="#55fc16"/><stop offset="0.334" stop-color="#55fc16"/><stop offset="0.340" stop-color="#4afc13"/><stop offset="0.358" stop-color="#46fc12"/><stop offset="0.468" stop-color="#4efc14"/><stop offset="0.526" stop-color="#61fd19"/><stop offset="0.578" stop-color="#85fe23"/><stop offset="0.637" stop-color="#b6ff30"/><stop offset="0.701" stop-color="#caff36"/><stop offset="0.794" stop-color="#cfff38"/><stop offset="0.892" stop-color="#c2ff34"/><stop offset="0.997" stop-color="#b0ff2f"/></linearGradient>
<linearGradient id="c72"><stop offset="0.003" stop-color="#46fc12"/><stop offset="0.317" stop-color="#46fc12"/><stop offset="0.323" stop-color="#4afc13"/><stop offset="0.328" stop-color="#55fc16"/><stop offset="0.334" stop-color="#55fc16"/><stop offset="0.340" stop-color="#4afc13"/><stop offset="0.358" stop-color="#46fc12"/><stop offset="0.462" stop-color="#4efc14"/><stop offset="0.520" stop-color="#62fd1a"/><stop offset="0.573" stop-color="#87fe24"/><stop offset="0.625" stop-color="#b5ff30"/><stop offset="0.689" stop-color="#cbff37"/><stop offset="0.782" stop-color="#d1ff39"/><stop offset="0.875" stop-color="#c8ff36"/><stop offset="0.991" stop-color="#b3ff30"/><stop offset="0.997" stop-color="#b2ff30"/></linearGradient>
<linearGradient id="c74"><stop offset="0.003" stop-color="#46fc12"/><stop offset="0.317" stop-color="#46fc12"/><stop offset="0.323" stop-color="#4afc13"/><stop offset="0.328" stop-color="#55fc16"/><stop offset="0.334" stop-color="#55fc16"/><stop offset="0.340" stop-color="#4afc13"/><stop offset="0.358" stop-color="#47fc12"/><stop offset="0.462" stop-color="#4ffc15"/><stop offset="0.515" stop-color="#62fd1a"/><stop offset="0.567" stop-color="#89fe24"/><stop offset="0.619" stop-color="#b7ff31"/><stop offset="0.683" stop-color="#ccff37"/><stop offset="0.782" stop-color="#d3ff39"/><stop offset="0.875" stop-color="#cbff37"/><stop offset="0.985" stop-color="#b5ff30"/><stop offset="0.997" stop-color="#b4ff30"/></linearGradient>
<linearGradient id="c76"><stop offset="0.003" stop-color="#46fc12"/><stop offset="0.317" stop-color="#46fc12"/><stop offset="0.323" stop-color="#4afc13"/><stop offset="0.328" stop-color="#55fc16"/><stop offset="0.334" stop-color="#55fc16"/><stop offset="0.340" stop-color="#4afc13"/><stop offset="0.358" stop-color="#47fc12"/><stop offset="0.456" stop-color="#50fc15"/><stop offset="0.509" stop-color="#63fd1a"/><stop offset="0.561" stop-color="#8bfe25"/><stop offset="0.608" stop-color="#b5ff30"/><stop offset="0.666" stop-color="#cbff37"/><stop offset="0.765" stop-color="#d5ff3a"/><stop offset="0.858" stop-color="#d0ff38"/><stop offset="0.991" stop-color="#b6ff31"/><stop offset="0.997" stop-color="#b6ff30"/></linearGradient>
<linearGradient id="c78"><stop offset="0.003" stop-color="#46fc12"/><stop offset="0.317" stop-color="#46fc12"/><stop offset="0.323" stop-color="#4afc13"/><stop offset="0.328" stop-color="#55fc16"/><stop offset="0.334" stop-color="#56fc16"/><stop offset="0.340" stop-color="#4afc13"/><stop offset="0.358" stop-color="#47fc12"/><stop offset="0.451" stop-color="#50fc15"/><stop offset="0.503" stop-color="#64fd1a"/><stop offset="0.555" stop-color="#8cfe25"/><stop offset="0.602" stop-color="#b6ff31"/><stop offset="0.660" stop-color="#ccff37"/><stop offset="0.788" stop-color="#d9ff3b"/><stop offset="0.869" stop-color="#d0ff38"/><stop offset="0.991" stop-color="#b7ff31"/><stop offset="0.997" stop-color="#b7ff31"/></linearGradient>
<linearGradient id="c80"><stop offset="0.003" stop-color="#46fc12"/><stop offset="0.317" stop-color="#47fc12"/><stop offset="0.323" stop-color="#4afc13"/><stop offset="0.328" stop-color="#56fc16"/><stop offset="0.334" stop-color="#56fc16"/><stop offset="0.340" stop-color="#4afc13"/><stop offset="0.358" stop-color="#47fc12"/><stop offset="0.445" stop-color="#50fc15"/><stop offset="0.497" stop-color="#64fd1a"/><stop offset="0.544" stop-color="#87fe24"/><stop offset="0.596" stop-color="#b7ff31"/><stop offset="0.654" stop-color="#cdff37"/><stop offset="0.794" stop-color="#deff3c"/><stop offset="0.852" stop-color="#d6ff3a"/><stop offset="0.991" stop-color="#b9ff31"/><stop offset="0.997" stop-color="#b9ff31"/></linearGradient>
<linearGradient id="c82"><stop offset="0.003" stop-color="#46fc12"/><stop offset="0.317" stop-color="#47fc12"/><stop offset="0.323" stop-color="#4afc13"/><stop offset="0.328" stop-color="#56fc16"/><stop offset="0.334" stop-color="#56fc16"/><stop offset="0.340" stop-color="#4bfc13"/><stop offset="0.358" stop-color="#47fc12"/><stop offset="0.445" stop-color="#52fc15"/><stop offset="0.497" stop-color="#68fd1b"/><stop offset="0.549" stop-color="#93fe27"/><stop offset="0.590" stop-color="#b7ff31"/><stop offset="0.648" stop-color="#ceff38"/><stop offset="0.735" stop-color="#deff3c"/><stop offset="0.788" stop-color="#e7ff3f"/><stop offset="0.828" stop-color="#e3ff3e"/><stop offset="0.904" stop-color="#ccff37"/><stop offset="0.991" stop-color="#baff32"/><stop offset="0.997" stop-color="#baff32"/></linearGradient>
<linearGradient id="c84"><stop offset="0.003" stop-color="#46fc12"/><stop offset="0.317" stop-color="#47fc12"/><stop offset="0.323" stop-color="#4afc13"/><stop offset="0.328" stop-color="#56fc16"/><stop offset="0.334" stop-color="#56fc16"/><stop offset="0.340" stop-color="#4bfc13"/><stop offset="0.358" stop-color="#48fc12"/><stop offset="0.439" stop-color="#52fc15"/><stop offset="0.491" stop-color="#68fd1b"/><stop offset="0.544" stop-color="#93fe27"/><stop offset="0.584" stop-color="#b8ff31"/><stop offset="0.642" stop-color="#ceff38"/><stop offset="0.718" stop-color="#dcff3c"/><stop offset="0.753" stop-color="#eafd40"/><stop offset="0.794" stop-color="#ebf440"/><stop offset="0.823" stop-color="#eaf940"/><stop offset="0.846" stop-color="#e3ff3e"/><stop offset="0.898" stop-color="#cfff38"/><stop offset="0.991" stop-color="#bcff32"/><stop offset="0.997" stop-color="#bcff32"/></linearGradient>
<linearGradient id="c86"><stop offset="0.003" stop-color="#46fc12"/><stop offset="0.317" stop-color="#47fc12"/><stop offset="0.323" stop-color="#4afc13"/><stop offset="0.328" stop-color="#56fc16"/><stop offset="0.334" stop-color="#56fc16"/><stop offset="0.340" stop-color="#4bfc13"/><stop offset="0.358" stop-color="#48fc13"/><stop offset="0.439" stop-color="#54fc16"/><stop offset="0.485" stop-color="#68fd1b"/><stop offset="0.538" stop-color="#94fe27"/><stop offset="0.578" stop-color="#b8ff31"/><stop offset="0.637" stop-color="#ceff38"/><stop offset="0.706" stop-color="#dbff3c"/><stop offset="0.730" stop-color="#e8fe3f"/><stop offset="0.765" stop-color="#ece540"/><stop offset="0.805" stop-color="#ece140"/><stop offset="0.828" stop-color="#ecea40"/><stop offset="0.852" stop-color="#e8fe3f"/><stop offset="0.892" stop-color="#d2ff39"/><stop offset="0.991" stop-color="#bdff33"/><stop offset="0.997" stop-color="#bdff33"/></linearGradient>
<linearGradient id="c88"><stop offset="0.003" stop-color="#46fc12"/><stop offset="0.317" stop-color="#47fc12"/><stop offset="0.323" stop-color="#4bfc13"/><stop offset="0.328" stop-color="#56fc16"/><stop offset="0.334" stop-color="#56fc16"/><stop offset="0.340" stop-color="#4bfc13"/><stop offset="0.358" stop-color="#48fc13"/><stop offset="0.433" stop-color="#54fc16"/><stop offset="0.480" stop-color="#69fd1b"/><stop offset="0.532" stop-color="#94fe27"/><stop offset="0.573" stop-color="#b8ff31"/><stop offset="0.631" stop-color="#ceff38"/><stop offset="0.701" stop-color="#dcff3c"/><stop offset="0.724" stop-color="#eafd40"/><stop offset="0.753" stop-color="#ecdf40"/><stop offset="0.782" stop-color="#edd740"/><stop offset="0.823" stop-color="#eddb40"/><stop offset="0.846" stop-color="#ebed40"/><stop offset="0.863" stop-color="#e7ff3f"/><stop offset="0.898" stop-color="#d3ff39"/><stop offset="0.991" stop-color="#bfff33"/><stop offset="0.997" stop-color="#bfff33"/></linearGradient>
<linearGradient id="c90"><stop offset="0.003" stop-color="#46fc12"/><stop offset="0.317" stop-color="#47fc12"/><stop offset="0.323" stop-color="#4bfc13"/><stop offset="0.328" stop-color="#56fc16"/><stop offset="0.334" stop-color="#57fc17"/><stop offset="0.340" stop-color="#4cfc14"/><stop offset="0.358" stop-color="#49fc13"/><stop offset="0.433" stop-color="#56fc16"/><stop offset="0.480" stop-color="#6cfd1c"/><stop offset="0.538" stop-color="#9ffe2a"/><stop offset="0.567" stop-color="#b8ff31"/><stop offset="0.625" stop-color="#ceff38"/><stop offset="0.695" stop-color="#ddff3c"/><stop offset="0.712" stop-color="#e8fe3f"/><stop offset="0.747" stop-color="#eddb40"/><stop offset="0.776" stop-color="#edd240"/><stop offset="0.823" stop-color="#edd540"/><stop offset="0.846" stop-color="#ece340"/><stop offset="0.869" stop-color="#e8fd3f"/><stop offset="0.904" stop-color="#d2ff39"/><stop offset="0.991" stop-color="#c1ff34"/><stop offset="0.997" stop-color="#c1ff34"/></linearGradient>
<linearGradient id="c92"><stop offset="0.003" stop-color="#46fc12"/><stop offset="0.317" stop-color="#47fc12"/><stop offset="0.323" stop-color="#4bfc13"/><stop offset="0.328" stop-color="#57fc17"/><stop offset="0.334" stop-color="#57fc17"/><stop offset="0.340" stop-color="#4cfc14"/><stop offset="0.358" stop-color="#49fc13"/><stop offset="0.427" stop-color="#56fc16"/><stop offset="0.474" stop-color="#6cfd1c"/><stop offset="0.526" stop-color="#99fe29"/><stop offset="0.561" stop-color="#b8ff31"/><stop offset="0.619" stop-color="#ceff38"/><stop offset="0.683" stop-color="#dbff3b"/><stop offset="0.706" stop-color="#e9fe40"/><stop offset="0.741" stop-color="#edd740"/><stop offset="0.770" stop-color="#eece40"/><stop offset="0.828" stop-color="#eed040"/><stop offset="0.852" stop-color="#ecdf40"/><stop offset="0.875" stop-color="#e9fe40"/><stop offset="0.904" stop-color="#d4ff3a"/><stop offset="0.991" stop-color="#c2ff34"/><stop offset="0.997" stop-color="#c2ff34"/></linearGradient>
<linearGradient id="c94"><stop offset="0.003" stop-color="#46fc12"/><stop offset="0.317" stop-color="#48fc12"/><stop offset="0.323" stop-color="#4bfc13"/><stop offset="0.328" stop-color="#57fc17"/><stop offset="0.334" stop-color="#57fc17"/><stop offset="0.340" stop-color="#4cfc14"/><stop offset="0.358" stop-color="#4afc13"/><stop offset="0.427" stop-color="#58fc17"/><stop offset="0.474" stop-color="#70fd1e"/><stop offset="0.538" stop-color="#aaff2d"/><stop offset="0.561" stop-color="#bbff32"/><stop offset="0.619" stop-color="#d0ff38"/><stop offset="0.677" stop-color="#dbff3c"/><stop offset="0.701" stop-color="#e9fd40"/><stop offset="0.730" stop-color="#edd940"/><stop offset="0.753" stop-color="#eecd40"/><stop offset="0.828" stop-color="#eecd40"/><stop offset="0.852" stop-color="#edd940"/><stop offset="0.881" stop-color="#e7ff3f"/><stop offset="0.910" stop-color="#d3ff39"/><stop offset="0.991" stop-color="#c4ff35"/><stop offset="0.997" stop-color="#c4ff35"/></linearGradient>
<linearGradient id="c96"><stop offset="0.003" stop-color="#46fc12"/><stop offset="0.317" stop-color="#48fc13"/><stop offset="0.323" stop-color="#4cfc14"/><stop offset="0.328" stop-color="#58fc17"/><stop offset="0.334" stop-color="#58fc17"/><stop offset="0.340" stop-color="#4dfc14"/><stop offset="0.358" stop-color="#4bfc13"/><stop offset="0.427" stop-color="#5bfd18"/><stop offset="0.474" stop-color="#74fd1f"/><stop offset="0.549" stop-color="#b7ff31"/><stop offset="0.608" stop-color="#ceff38"/><stop offset="0.672" stop-color="#dcff3c"/><stop offset="0.689" stop-color="#e9ff40"/><stop offset="0.724" stop-color="#eecc40"/><stop offset="0.747" stop-color="#efbe40"/><stop offset="0.834" stop-color="#efbe40"/><stop offset="0.852" stop-color="#eec840"/><stop offset="0.869" stop-color="#ece140"/><stop offset="0.881" stop-color="#ebf840"/><stop offset="0.887" stop-color="#e8ff3f"/><stop offset="0.910" stop-color="#d5ff3a"/><stop offset="0.985" stop-color="#c6ff35"/><stop offset="0.997" stop-color="#c5ff35"/></linearGradient>
<linearGradient id="c98"><stop offset="0.003" stop-color="#46fc12"/><stop offset="0.317" stop-color="#48fc13"/><stop offset="0.323" stop-color="#4cfc14"/><stop offset="0.328" stop-color="#58fc17"/><stop offset="0.334" stop-color="#59fd17"/><stop offset="0.340" stop-color="#4efc14"/><stop offset="0.358" stop-color="#4cfc14"/><stop offset="0.427" stop-color="#5dfd18"/><stop offset="0.474" stop-color="#78fd20"/><stop offset="0.544" stop-color="#b7ff31"/><stop offset="0.602" stop-color="#ceff38"/><stop offset="0.666" stop-color="#dbff3c"/><stop offset="0.683" stop-color="#e8ff3f"/><stop offset="0.695" stop-color="#ebef40"/><stop offset="0.718" stop-color="#eecc40"/><stop offset="0.741" stop-color="#efbe40"/><stop offset="0.834" stop-color="#efbe40"/><stop offset="0.852" stop-color="#eec640"/><stop offset="0.869" stop-color="#eddc40"/><stop offset="0.887" stop-color="#eafe40"/><stop offset="0.910" stop-color="#d7ff3a"/><stop offset="0.974" stop-color="#c9ff36"/><stop offset="0.997" stop-color="#c7ff36"/></linearGradient>
<linearGradient id="c100"><stop offset="0.003" stop-color="#46fc12"/><stop offset="0.317" stop-color="#49fc13"/><stop offset="0.323" stop-color="#4dfc14"/><stop offset="0.328" stop-color="#59fd17"/><stop offset="0.334" stop-color="#59fd17"/><stop offset="0.340" stop-color="#4ffc14"/><stop offset="0.358" stop-color="#4dfc14"/><stop offset="0.422" stop-color="#5dfd18"/><stop offset="0.468" stop-color="#78fd20"/><stop offset="0.538" stop-color="#b6ff31"/><stop offset="0.596" stop-color="#ceff38"/><stop offset="0.660" stop-color="#dbff3b"/><stop offset="0.677" stop-color="#e7ff3f"/><stop offset="0.683" stop-color="#eaf940"/><stop offset="0.706" stop-color="#eecf40"/><stop offset="0.724" stop-color="#efbd40"/><stop offset="0.759" stop-color="#f0b640"/><stop offset="0.840" stop-color="#efb840"/><stop offset="0.858" stop-color="#efc340"/><stop offset="0.875" stop-color="#edde40"/><stop offset="0.892" stop-color="#e9ff40"/><stop offset="0.916" stop-color="#d6ff3a"/><stop offset="0.985" stop-color="#c9ff36"/><stop offset="0.997" stop-color="#c8ff36"/></linearGradient>
<linearGradient id="c102"><stop offset="0.003" stop-color="#46fc12"/><stop offset="0.317" stop-color="#4afc13"/><stop offset="0.323" stop-color="#4efc14"/><stop offset="0.328" stop-color="#5afd17"/><stop offset="0.334" stop-color="#5afd18"/><stop offset="0.340" stop-color="#4ffc15"/><stop offset="0.358" stop-color="#4efc14"/><stop offset="0.422" stop-color="#60fd19"/><stop offset="0.474" stop-color="#80fe22"/><stop offset="0.538" stop-color="#b8ff31"/><stop offset="0.596" stop-color="#cfff38"/><stop offset="0.660" stop-color="#dcff3c"/><stop offset="0.677" stop-color="#eafc40"/><stop offset="0.706" stop-color="#eec940"/><stop offset="0.724" stop-color="#efba40"/><stop offset="0.776" stop-color="#f0b540"/><stop offset="0.846" stop-color="#efb940"/><stop offset="0.863" stop-color="#eec640"/><stop offset="0.881" stop-color="#ece440"/><stop offset="0.892" stop-color="#eafc40"/><stop offset="0.916" stop-color="#d7ff3a"/><stop offset="0.974" stop-color="#cbff37"/><stop offset="0.997" stop-color="#caff36"/></linearGradient>
<linearGradient id="c104"><stop offset="0.003" stop-color="#46fc12"/><stop offset="0.311" stop-color="#4afc13"/><stop offset="0.323" stop-color="#4ffc14"/><stop offset="0.328" stop-color="#5bfd18"/><stop offset="0.334" stop-color="#5bfd18"/><stop offset="0.340" stop-color="#51fc15"/><stop offset="0.358" stop-color="#50fc15"/><stop offset="0.422" stop-color="#63fd1a"/><stop offset="0.474" stop-color="#84fe23"/><stop offset="0.532" stop-color="#b7ff31"/><stop offset="0.590" stop-color="#ceff38"/><stop offset="0.654" stop-color="#dbff3c"/><stop offset="0.672" stop-color="#e9fe40"/><stop offset="0.701" stop-color="#eec540"/><stop offset="0.718" stop-color="#f0b33f"/><stop offset="0.753" stop-color="#f0ad3e"/><stop offset="0.846" stop-color="#f0b03f"/><stop offset="0.863" stop-color="#efbc40"/><stop offset="0.881" stop-color="#edda40"/><stop offset="0.898" stop-color="#e9fe40"/><stop offset="0.922" stop-color="#d6ff3a"/><stop offset="0.985" stop-color="#ccff37"/><stop offset="0.997" stop-color="#cbff37"/></linearGradient>
<linearGradient id="c106"><stop offset="0.003" stop-color="#46fc12"/><stop offset="0.305" stop-color="#4afc13"/><stop offset="0.323" stop-color="#50fc15"/><stop offset="0.328" stop-color="#5cfd18"/><stop offset="0.334" stop-color="#5cfd18"/><stop offset="0.340" stop-color="#52fc15"/><stop offset="0.358" stop-color="#51fc15"/><stop offset="0.422" stop-color="#66fd1b"/><stop offset="0.474" stop-color="#88fe24"/><stop offset="0.526" stop-color="#b6ff31"/><stop offset="0.584" stop-color="#ceff38"/><stop offset="0.648" stop-color="#daff3b"/><stop offset="0.666" stop-color="#e7ff3f"/><stop offset="0.672" stop-color="#eaf940"/><stop offset="0.695" stop-color="#eec740"/><stop offset="0.712" stop-color="#f0b13f"/><stop offset="0.735" stop-color="#f1a93d"/><stop offset="0.846" stop-color="#f1ab3e"/><stop offset="0.863" stop-color="#f0b640"/><stop offset="0.881" stop-color="#edd240"/><stop offset="0.898" stop-color="#eaf940"/><stop offset="0.904" stop-color="#e6ff3f"/><stop offset="0.927" stop-color="#d5ff3a"/><stop offset="0.997" stop-color="#ccff37"/></linearGradient>
<linearGradient id="c108"><stop offset="0.003" stop-color="#46fc12"/><stop offset="0.299" stop-color="#4afc13"/><stop offset="0.317" stop-color="#4cfc14"/><stop offset="0.323" stop-color="#51fc15"/><stop offset="0.328" stop-color="#5dfd18"/><stop offset="0.334" stop-color="#5efd18"/><stop offset="0.340" stop-color="#53fc16"/><stop offset="0.358" stop-color="#53fc16"/><stop offset="0.422" stop-color="#69fd1c"/><stop offset="0.474" stop-color="#8cfe25"/><stop offset="0.526" stop-color="#b8ff31"/><stop offset="0.584" stop-color="#cfff38"/><stop offset="0.648" stop-color="#dcff3c"/><stop offset="0.666" stop-color="#eafe40"/><stop offset="0.695" stop-color="#efc140"/><stop offset="0.712" stop-color="#f0ae3f"/><stop offset="0.747" stop-color="#f1a73d"/><stop offset="0.846" stop-color="#f1a93d"/><stop offset="0.863" stop-color="#f0b240"/><stop offset="0.881" stop-color="#eecc40"/><stop offset="0.904" stop-color="#e9ff40"/><stop offset="0.927" stop-color="#d6ff3a"/><stop offset="0.997" stop-color="#ceff38"/></linearGradient>
<linearGradient id="c110"><stop offset="0.003" stop-color="#46fc12"/><stop offset="0.288" stop-color="#4afc13"/><stop offset="0.317" stop-color="#4efc14"/><stop offset="0.323" stop-color="#52fc15"/><stop offset="0.328" stop-color="#5efd19"/><stop offset="0.334" stop-color="#5ffd19"/><stop offset="0.340" stop-color="#55fc16"/><stop offset="0.358" stop-color="#55fc16"/><stop offset="0.422" stop-color="#6cfd1c"/><stop offset="0.474" stop-color="#90fe26"/><stop offset="0.520" stop-color="#b7ff31"/><stop offset="0.584" stop-color="#cfff38"/><stop offset="0.642" stop-color="#dbff3b"/><stop offset="0.660" stop-color="#e9ff40"/><stop offset="0.677" stop-color="#edd940"/><stop offset="0.695" stop-color="#f0b440"/><stop offset="0.712" stop-color="#f1a23a"/><stop offset="0.753" stop-color="#f29d38"/><stop offset="0.852" stop-color="#f29f39"/><stop offset="0.869" stop-color="#f0ac3f"/><stop offset="0.887" stop-color="#eecd40"/><stop offset="0.904" stop-color="#eaf940"/><stop offset="0.910" stop-color="#e6ff3f"/><stop offset="0.927" stop-color="#d8ff3b"/><stop offset="0.980" stop-color="#cfff38"/><stop offset="0.997" stop-color="#cfff38"/></linearGradient>
<linearGradient id="c112"><stop offset="0.003" stop-color="#46fc12"/><stop offset="0.282" stop-color="#4bfc13"/><stop offset="0.317" stop-color="#4ffc15"/><stop offset="0.323" stop-color="#54fc16"/><stop offset="0.328" stop-color="#60fd19"/><stop offset="0.334" stop-color="#61fd19"/><stop offset="0.340" stop-color="#57fc17"/><stop offset="0.358" stop-color="#57fc17"/><stop offset="0.427" stop-color="#73fd1e"/><stop offset="0.485" stop-color="#9dfe2a"/><stop offset="0.520" stop-color="#b8ff31"/><stop offset="0.584" stop-color="#d0ff38"/><stop offset="0.637" stop-color="#d9ff3b"/><stop offset="0.654" stop-color="#e7ff3f"/><stop offset="0.660" stop-color="#eaf940"/><stop offset="0.689" stop-color="#f0b140"/><stop offset="0.706" stop-color="#f29a37"/><stop offset="0.735" stop-color="#f39334"/><stop offset="0.852" stop-color="#f39535"/><stop offset="0.869" stop-color="#f1a13a"/><stop offset="0.881" stop-color="#f0b540"/><stop offset="0.910" stop-color="#eafe40"/><stop offset="0.927" stop-color="#d9ff3b"/><stop offset="0.968" stop-color="#d1ff39"/><stop offset="0.997" stop-color="#d0ff38"/></linearGradient>
<linearGradient id="c114"><stop offset="0.003" stop-color="#46fc12"/><stop offset="0.270" stop-color="#4bfc13"/><stop offset="0.317" stop-color="#51fc15"/><stop offset="0.323" stop-color="#56fc16"/><stop offset="0.328" stop-color="#62fd1a"/><stop offset="0.334" stop-color="#63fd1a"/><stop offset="0.340" stop-color="#59fd17"/><stop offset="0.358" stop-color="#5afd17"/><stop offset="0.427" stop-color="#76fd1f"/><stop offset="0.485" stop-color="#a0fe2a"/><stop offset="0.515" stop-color="#b7ff31"/><stop offset="0.578" stop-color="#cfff38"/><stop offset="0.637" stop-color="#dbff3b"/><stop offset="0.654" stop-color="#eaff40"/><stop offset="0.689" stop-color="#f0ac3f"/><stop offset="0.706" stop-color="#f29937"/><stop offset="0.747" stop-color="#f39334"/><stop offset="0.852" stop-color="#f39435"/><stop offset="0.869" stop-color="#f29f39"/><stop offset="0.881" stop-color="#f0b140"/><stop offset="0.910" stop-color="#eafb40"/><stop offset="0.922" stop-color="#dfff3d"/><stop offset="0.945" stop-color="#d4ff3a"/><stop offset="0.997" stop-color="#d1ff39"/></linearGradient>
<linearGradient id="c116"><stop offset="0.003" stop-color="#46fc12"/><stop offset="0.259" stop-color="#4bfc13"/><stop offset="0.317" stop-color="#53fc16"/><stop offset="0.323" stop-color="#58fc17"/><stop offset="0.328" stop-color="#64fd1a"/><stop offset="0.334" stop-color="#65fd1b"/><stop offset="0.340" stop-color="#5cfd18"/><stop offset="0.358" stop-color="#5dfd18"/><stop offset="0.427" stop-color="#7afd20"/><stop offset="0.491" stop-color="#a7ff2d"/><stop offset="0.520" stop-color="#bbff32"/><stop offset="0.584" stop-color="#d1ff38"/><stop offset="0.637" stop-color="#dcff3c"/><stop offset="0.648" stop-color="#e5ff3f"/><stop offset="0.654" stop-color="#eafb40"/><stop offset="0.683" stop-color="#f0b23f"/><stop offset="0.695" stop-color="#f2a039"/><stop offset="0.712" stop-color="#f39435"/><stop offset="0.840" stop-color="#f39134"/><stop offset="0.863" stop-color="#f29736"/><stop offset="0.881" stop-color="#f0ad3e"/><stop offset="0.898" stop-color="#edd740"/><stop offset="0.910" stop-color="#ebf640"/><stop offset="0.916" stop-color="#e7ff3f"/><stop offset="0.933" stop-color="#d9ff3b"/><stop offset="0.985" stop-color="#d2ff39"/><stop offset="0.997" stop-color="#d2ff39"/></linearGradient>
<linearGradient id="c118"><stop offset="0.003" stop-color="#46fc12"/><stop offset="0.247" stop-color="#4bfc13"/><stop offset="0.317" stop-color="#55fc16"/><stop offset="0.323" stop-color="#5afd17"/><stop offset="0.328" stop-color="#66fd1b"/><stop offset="0.334" stop-color="#68fd1b"/><stop offset="0.340" stop-color="#5efd19"/><stop offset="0.358" stop-color="#5ffd19"/><stop offset="0.433" stop-color="#80fe22"/><stop offset="0.515" stop-color="#b9ff31"/><stop offset="0.578" stop-color="#d0ff38"/><stop offset="0.631" stop-color="#d9ff3b"/><stop offset="0.648" stop-color="#e7ff3f"/><stop offset="0.654" stop-color="#ebf840"/><stop offset="0.683" stop-color="#f0ae3f"/><stop offset="0.695" stop-color="#f29d38"/><stop offset="0.712" stop-color="#f39234"/><stop offset="0.828" stop-color="#f48c32"/><stop offset="0.863" stop-color="#f39435"/><stop offset="0.881" stop-color="#f1a83d"/><stop offset="0.898" stop-color="#edd140"/><stop offset="0.916" stop-color="#e9fe40"/><stop offset="0.933" stop-color="#daff3b"/><stop offset="0.974" stop-color="#d3ff39"/><stop offset="0.997" stop-color="#d2ff39"/></linearGradient>
<linearGradient id="c120"><stop offset="0.003" stop-color="#46fc12"/><stop offset="0.235" stop-color="#4bfc13"/><stop offset="0.317" stop-color="#57fc17"/><stop offset="0.323" stop-color="#5cfd18"/><stop offset="0.328" stop-color="#69fd1b"/><stop offset="0.334" stop-color="#6afd1c"/><stop offset="0.340" stop-color="#61fd19"/><stop offset="0.358" stop-color="#62fd1a"/><stop offset="0.433" stop-color="#83fe23"/><stop offset="0.515" stop-color="#baff32"/><stop offset="0.578" stop-color="#d0ff38"/><stop offset="0.631" stop-color="#d9ff3b"/><stop offset="0.648" stop-color="#e7ff3f"/><stop offset="0.654" stop-color="#ebf640"/><stop offset="0.683" stop-color="#f1a93d"/><stop offset="0.695" stop-color="#f39736"/><stop offset="0.712" stop-color="#f48c32"/><stop offset="0.817" stop-color="#f5812d"/><stop offset="0.858" stop-color="#f48830"/><stop offset="0.875" stop-color="#f39636"/><stop offset="0.887" stop-color="#f1ab3e"/><stop offset="0.916" stop-color="#eafa40"/><stop offset="0.922" stop-color="#e6ff3f"/><stop offset="0.939" stop-color="#d8ff3b"/><stop offset="0.997" stop-color="#d3ff39"/></linearGradient>
<linearGradient id="c122"><stop offset="0.003" stop-color="#46fc12"/><stop offset="0.230" stop-color="#4bfc13"/><stop offset="0.317" stop-color="#59fd17"/><stop offset="0.323" stop-color="#5efd19"/><stop offset="0.328" stop-color="#6bfd1c"/><stop offset="0.334" stop-color="#6dfd1d"/><stop offset="0.340" stop-color="#63fd1a"/><stop offset="0.358" stop-color="#65fd1a"/><stop offset="0.439" stop-color="#89fe24"/><stop offset="0.515" stop-color="#baff32"/><stop offset="0.584" stop-color="#d1ff38"/><stop offset="0.631" stop-color="#d9ff3b"/><stop offset="0.648" stop-color="#e7ff3f"/><stop offset="0.654" stop-color="#ebf740"/><stop offset="0.677" stop-color="#f0b540"/><stop offset="0.689" stop-color="#f29c38"/><stop offset="0.706" stop-color="#f48a31"/><stop offset="0.811" stop-color="#f67729"/><stop offset="0.858" stop-color="#f5812d"/><stop offset="0.875" stop-color="#f38f33"/><stop offset="0.887" stop-color="#f1a33b"/><stop offset="0.898" stop-color="#efc140"/><stop offset="0.916" stop-color="#ebf440"/><stop offset="0.922" stop-color="#e8ff3f"/><stop offset="0.939" stop-color="#d9ff3b"/><stop offset="0.991" stop-color="#d3ff39"/><stop offset="0.997" stop-color="#d3ff39"/></linearGradient>
<linearGradient id="c124"><stop offset="0.003" stop-color="#46fc12"/><stop offset="0.218" stop-color="#4bfc13"/><stop offset="0.317" stop-color="#5cfd18"/><stop offset="0.323" stop-color="#61fd19"/><stop offset="0.328" stop-color="#6efd1d"/><stop offset="0.334" stop-color="#6ffd1d"/><stop offset="0.340" stop-color="#66fd1b"/><stop offset="0.358" stop-color="#68fd1b"/><stop offset="0.439" stop-color="#8bfe25"/><stop offset="0.515" stop-color="#baff32"/><stop offset="0.584" stop-color="#d0ff38"/><stop offset="0.637" stop-color="#dbff3c"/><stop offset="0.648" stop-color="#e6ff3f"/><stop offset="0.654" stop-color="#eaf940"/><stop offset="0.677" stop-color="#f0b540"/><stop offset="0.689" stop-color="#f29937"/><stop offset="0.701" stop-color="#f48930"/><stop offset="0.724" stop-color="#f57e2c"/><stop offset="0.805" stop-color="#f76a24"/><stop offset="0.846" stop-color="#f67227"/><stop offset="0.869" stop-color="#f57f2d"/><stop offset="0.881" stop-color="#f38f33"/><stop offset="0.892" stop-color="#f1a93d"/><stop offset="0.922" stop-color="#eafe40"/><stop offset="0.939" stop-color="#daff3b"/><stop offset="0.980" stop-color="#d4ff39"/><stop offset="0.997" stop-color="#d3ff39"/></linearGradient>
<linearGradient id="c126"><stop offset="0.003" stop-color="#46fc12"/><stop offset="0.206" stop-color="#4bfc13"/><stop offset="0.311" stop-color="#5cfd18"/><stop offset="0.323" stop-color="#63fd1a"/><stop offset="0.328" stop-color="#70fd1d"/><stop offset="0.334" stop-color="#72fd1e"/><stop offset="0.340" stop-color="#68fd1b"/><stop offset="0.358" stop-color="#6afd1c"/><stop offset="0.445" stop-color="#8ffe26"/><stop offset="0.515" stop-color="#b9ff32"/><stop offset="0.584" stop-color="#cfff38"/><stop offset="0.637" stop-color="#daff3b"/><stop offset="0.654" stop-color="#eafd40"/><stop offset="0.677" stop-color="#efb840"/><stop offset="0.689" stop-color="#f29a37"/><stop offset="0.701" stop-color="#f48830"/><stop offset="0.724" stop-color="#f57a2b"/><stop offset="0.799" stop-color="#f86321"/><stop offset="0.840" stop-color="#f76823"/><stop offset="0.869" stop-color="#f57a2a"/><stop offset="0.881" stop-color="#f48931"/><stop offset="0.892" stop-color="#f1a43b"/><stop offset="0.904" stop-color="#eec740"/><stop offset="0.922" stop-color="#eafc40"/><stop offset="0.939" stop-color="#daff3b"/><stop offset="0.974" stop-color="#d3ff39"/><stop offset="0.997" stop-color="#d3ff39"/></linearGradient>
<linearGradient id="c128"><stop offset="0.003" stop-color="#47fc12"/><stop offset="0.032" stop-color="#47fc12"/><stop offset="0.206" stop-color="#4cfc14"/><stop offset="0.317" stop-color="#60fd19"/><stop offset="0.323" stop-color="#65fd1b"/><stop offset="0.328" stop-color="#72fd1e"/><stop offset="0.334" stop-color="#74fd1f"/><stop offset="0.340" stop-color="#6afd1c"/><stop offset="0.358" stop-color="#6cfd1c"/><stop offset="0.451" stop-color="#92fe27"/><stop offset="0.520" stop-color="#baff32"/><stop offset="0.590" stop-color="#cfff38"/><stop offset="0.637" stop-color="#d8ff3b"/><stop offset="0.654" stop-color="#e8ff3f"/><stop offset="0.660" stop-color="#ebf440"/><stop offset="0.683" stop-color="#f0ae3f"/><stop offset="0.695" stop-color="#f39435"/><stop offset="0.712" stop-color="#f5812d"/><stop offset="0.799" stop-color="#f85f20"/><stop offset="0.834" stop-color="#f86422"/><stop offset="0.869" stop-color="#f57b2b"/><stop offset="0.881" stop-color="#f48b31"/><stop offset="0.892" stop-color="#f1a53c"/><stop offset="0.904" stop-color="#eec940"/><stop offset="0.922" stop-color="#eafd40"/><stop offset="0.939" stop-color="#d9ff3b"/><stop offset="0.974" stop-color="#d3ff39"/><stop offset="0.997" stop-color="#d3ff39"/></linearGradient>
<linearGradient id="c130"><stop offset="0.003" stop-color="#47fc12"/><stop offset="0.020" stop-color="#4cfc14"/><stop offset="0.049" stop-color="#46fc12"/><stop offset="0.212" stop-color="#4dfc14"/><stop offset="0.317" stop-color="#62fd1a"/><stop offset="0.323" stop-color="#67fd1b"/><stop offset="0.328" stop-color="#74fd1f"/><stop offset="0.334" stop-color="#76fd1f"/><stop offset="0.340" stop-color="#6cfd1c"/><stop offset="0.358" stop-color="#6efd1d"/><stop offset="0.456" stop-color="#94fe27"/><stop offset="0.520" stop-color="#b8ff31"/><stop offset="0.596" stop-color="#ceff38"/><stop offset="0.637" stop-color="#d6ff3a"/><stop offset="0.654" stop-color="#e5ff3e"/><stop offset="0.660" stop-color="#eafa40"/><stop offset="0.683" stop-color="#f0b240"/><stop offset="0.695" stop-color="#f39535"/><stop offset="0.706" stop-color="#f4842e"/><stop offset="0.735" stop-color="#f67528"/><stop offset="0.794" stop-color="#f85e20"/><stop offset="0.834" stop-color="#f86120"/><stop offset="0.863" stop-color="#f67327"/><stop offset="0.881" stop-color="#f48a31"/><stop offset="0.892" stop-color="#f1a73c"/><stop offset="0.904" stop-color="#eecc40"/><stop offset="0.916" stop-color="#ebf140"/><stop offset="0.922" stop-color="#e9ff40"/><stop offset="0.939" stop-color="#d7ff3a"/><stop offset="0.980" stop-color="#d1ff39"/><stop offset="0.997" stop-color="#d1ff39"/></linearGradient>
<linearGradient id="c132"><stop offset="0.003" stop-color="#49fc13"/><stop offset="0.015" stop-color="#51fc15"/><stop offset="0.026" stop-color="#4dfc14"/><stop offset="0.044" stop-color="#46fc12"/><stop offset="0.206" stop-color="#4dfc14"/><stop offset="0.317" stop-color="#63fd1a"/><stop offset="0.323" stop-color="#68fd1b"/><stop offset="0.328" stop-color="#75fd1f"/><stop offset="0.334" stop-color="#77fd1f"/><stop offset="0.340" stop-color="#6dfd1d"/><stop offset="0.358" stop-color="#6ffd1d"/><stop offset="0.462" stop-color="#95fe28"/><stop offset="0.532" stop-color="#baff32"/><stop offset="0.602" stop-color="#ccff37"/><stop offset="0.642" stop-color="#d6ff3a"/><stop offset="0.660" stop-color="#e8ff3f"/><stop offset="0.666" stop-color="#ebf340"/><stop offset="0.689" stop-color="#f0ad3f"/><stop offset="0.701" stop-color="#f39535"/><stop offset="0.718" stop-color="#f4842e"/><stop offset="0.799" stop-color="#f76622"/><stop offset="0.834" stop-color="#f76b25"/><stop offset="0.863" stop-color="#f57d2c"/><stop offset="0.881" stop-color="#f39636"/><stop offset="0.892" stop-color="#f0b340"/><stop offset="0.916" stop-color="#eafb40"/><stop offset="0.927" stop-color="#ddff3c"/><stop offset="0.951" stop-color="#d1ff39"/><stop offset="0.997" stop-color="#cfff38"/></linearGradient>
<linearGradient id="c134"><stop offset="0.003" stop-color="#4bfc13"/><stop offset="0.015" stop-color="#5afd18"/><stop offset="0.020" stop-color="#5afd18"/><stop offset="0.032" stop-color="#4bfc13"/><stop offset="0.055" stop-color="#46fc12"/><stop offset="0.206" stop-color="#4efc14"/><stop offset="0.317" stop-color="#64fd1a"/><stop offset="0.323" stop-color="#69fd1c"/><stop offset="0.328" stop-color="#76fd1f"/><stop offset="0.334" stop-color="#77fd1f"/><stop offset="0.340" stop-color="#6efd1d"/><stop offset="0.358" stop-color="#6ffd1d"/><stop offset="0.468" stop-color="#94fe27"/><stop offset="0.544" stop-color="#baff32"/><stop offset="0.619" stop-color="#cbff37"/><stop offset="0.648" stop-color="#d5ff3a"/><stop offset="0.666" stop-color="#e9fc40"/><stop offset="0.695" stop-color="#f1a73d"/><stop offset="0.706" stop-color="#f39334"/><stop offset="0.724" stop-color="#f4842e"/><stop offset="0.794" stop-color="#f76b24"/><stop offset="0.828" stop-color="#f76e26"/><stop offset="0.858" stop-color="#f57d2c"/><stop offset="0.875" stop-color="#f39234"/><stop offset="0.887" stop-color="#f0ad3e"/><stop offset="0.910" stop-color="#ebf640"/><stop offset="0.916" stop-color="#e6ff3f"/><stop offset="0.933" stop-color="#d3ff39"/><stop offset="0.968" stop-color="#ccff37"/><stop offset="0.997" stop-color="#ccff37"/></linearGradient>
<linearGradient id="c136"><stop offset="0.003" stop-color="#4efc14"/><stop offset="0.015" stop-color="#6afd1c"/><stop offset="0.020" stop-color="#6afd1c"/><stop offset="0.032" stop-color="#4efc14"/><stop offset="0.044" stop-color="#46fc12"/><stop offset="0.201" stop-color="#4dfc14"/><stop offset="0.317" stop-color="#64fd1a"/><stop offset="0.323" stop-color="#69fd1b"/><stop offset="0.328" stop-color="#75fd1f"/><stop offset="0.334" stop-color="#77fd1f"/><stop offset="0.340" stop-color="#6dfd1d"/><stop offset="0.358" stop-color="#6efd1d"/><stop offset="0.474" stop-color="#91fe26"/><stop offset="0.555" stop-color="#b9ff31"/><stop offset="0.642" stop-color="#cbff37"/><stop offset="0.660" stop-color="#d8ff3b"/><stop offset="0.672" stop-color="#e8fe3f"/><stop offset="0.701" stop-color="#efb940"/><stop offset="0.718" stop-color="#f1a33b"/><stop offset="0.759" stop-color="#f38d32"/><stop offset="0.799" stop-color="#f4862f"/><stop offset="0.840" stop-color="#f39134"/><stop offset="0.863" stop-color="#f1a13a"/><stop offset="0.881" stop-color="#efbd40"/><stop offset="0.904" stop-color="#eafa40"/><stop offset="0.916" stop-color="#dbff3b"/><stop offset="0.933" stop-color="#ccff37"/><stop offset="0.980" stop-color="#c7ff36"/><stop offset="0.997" stop-color="#c7ff36"/></linearGradient>
<linearGradient id="c138"><stop offset="0.003" stop-color="#53fc16"/><stop offset="0.015" stop-color="#80fe22"/><stop offset="0.020" stop-color="#80fe22"/><stop offset="0.032" stop-color="#53fc16"/><stop offset="0.038" stop-color="#49fc13"/><stop offset="0.108" stop-color="#47fc12"/><stop offset="0.241" stop-color="#53fc16"/><stop offset="0.317" stop-color="#62fd1a"/><stop offset="0.323" stop-color="#67fd1b"/><stop offset="0.328" stop-color="#74fd1f"/><stop offset="0.334" stop-color="#75fd1f"/><stop offset="0.340" stop-color="#6bfd1c"/><stop offset="0.358" stop-color="#6bfd1c"/><stop offset="0.474" stop-color="#89fe24"/><stop offset="0.573" stop-color="#b6ff31"/><stop offset="0.648" stop-color="#c4ff35"/><stop offset="0.672" stop-color="#d8ff3b"/><stop offset="0.683" stop-color="#e6fd3f"/><stop offset="0.689" stop-color="#ebf740"/><stop offset="0.706" stop-color="#edd840"/><stop offset="0.735" stop-color="#efbb40"/><stop offset="0.770" stop-color="#f1aa3d"/><stop offset="0.805" stop-color="#f0ac3e"/><stop offset="0.852" stop-color="#efc140"/><stop offset="0.869" stop-color="#edd140"/><stop offset="0.892" stop-color="#e9fa40"/><stop offset="0.898" stop-color="#e3ff3e"/><stop offset="0.922" stop-color="#c9ff36"/><stop offset="0.951" stop-color="#c0ff34"/><stop offset="0.997" stop-color="#bfff33"/></linearGradient>
<linearGradient id="c140"><stop offset="0.003" stop-color="#59fd17"/><stop offset="0.015" stop-color="#9bfe29"/><stop offset="0.020" stop-color="#9bfe29"/><stop offset="0.032" stop-color="#59fd17"/><stop offset="0.038" stop-color="#4afc13"/><stop offset="0.055" stop-color="#46fc12"/><stop offset="0.212" stop-color="#4efc14"/><stop offset="0.317" stop-color="#60fd19"/><stop offset="0.323" stop-color="#64fd1a"/><stop offset="0.328" stop-color="#71fd1e"/><stop offset="0.334" stop-color="#72fd1e"/><stop offset="0.340" stop-color="#68fd1b"/><stop offset="0.358" stop-color="#67fd1b"/><stop offset="0.480" stop-color="#81fe22"/><stop offset="0.596" stop-color="#afff2f"/><stop offset="0.660" stop-color="#bdff33"/><stop offset="0.706" stop-color="#e1ff3d"/><stop offset="0.747" stop-color="#ecea40"/><stop offset="0.776" stop-color="#ecde40"/><stop offset="0.811" stop-color="#ece640"/><stop offset="0.869" stop-color="#e3fd3e"/><stop offset="0.922" stop-color="#bbff32"/><stop offset="0.968" stop-color="#b4ff30"/><stop offset="0.997" stop-color="#b4ff30"/></linearGradient>
<linearGradient id="c142"><stop offset="0.003" stop-color="#5ffd19"/><stop offset="0.015" stop-color="#b4ff30"/><stop offset="0.020" stop-color="#b4ff30"/><stop offset="0.032" stop-color="#5ffd19"/><stop offset="0.038" stop-color="#4cfc14"/><stop offset="0.049" stop-color="#46fc12"/><stop offset="0.218" stop-color="#4efc14"/><stop offset="0.317" stop-color="#5cfd18"/><stop offset="0.323" stop-color="#60fd19"/><stop offset="0.328" stop-color="#6cfd1c"/><stop offset="0.334" stop-color="#6dfd1d"/><stop offset="0.340" stop-color="#63fd1a"/><stop offset="0.358" stop-color="#61fd19"/><stop offset="0.491" stop-color="#78fd20"/><stop offset="0.608" stop-color="#9cfe29"/><stop offset="0.660" stop-color="#a6ff2c"/><stop offset="0.741" stop-color="#ceff38"/><stop offset="0.782" stop-color="#d6ff3a"/><stop offset="0.875" stop-color="#bfff33"/><stop offset="0.927" stop-color="#a3ff2b"/><stop offset="0.997" stop-color="#9ffe2a"/></linearGradient>
<linearGradient id="c144"><stop offset="0.003" stop-color="#64fd1a"/><stop offset="0.009" stop-color="#97fe28"/><stop offset="0.015" stop-color="#c2ff34"/><stop offset="0.020" stop-color="#c2ff34"/><stop offset="0.026" stop-color="#97fe28"/><stop offset="0.032" stop-color="#64fd1a"/><stop offset="0.038" stop-color="#4dfc14"/><stop offset="0.049" stop-color="#46fc12"/><stop offset="0.235" stop-color="#4efc14"/><stop offset="0.317" stop-color="#56fc16"/><stop offset="0.323" stop-color="#5bfd18"/><stop offset="0.328" stop-color="#66fd1b"/><stop offset="0.334" stop-color="#67fd1b"/><stop offset="0.340" stop-color="#5cfd18"/><stop offset="0.358" stop-color="#5afd18"/><stop offset="0.503" stop-color="#6cfd1c"/><stop offset="0.619" stop-color="#85fe23"/><stop offset="0.689" stop-color="#91fe26"/><stop offset="0.765" stop-color="#aaff2d"/><stop offset="0.811" stop-color="#a6ff2c"/><stop offset="0.933" stop-color="#87fe24"/><stop offset="0.997" stop-color="#86fe23"/></linearGradient>
<linearGradient id="c146"><stop offset="0.003" stop-color="#67fd1b"/><stop offset="0.009" stop-color="#a0fe2b"/><stop offset="0.015" stop-color="#cbff37"/><stop offset="0.020" stop-color="#cbff37"/><stop offset="0.026" stop-color="#a0fe2b"/><stop offset="0.032" stop-color="#67fd1b"/><stop offset="0.038" stop-color="#4dfc14"/><stop offset="0.044" stop-color="#47fc12"/><stop offset="0.253" stop-color="#4cfc14"/><stop offset="0.317" stop-color="#51fc15"/><stop offset="0.323" stop-color="#55fc16"/><stop offset="0.328" stop-color="#61fd19"/><stop offset="0.334" stop-color="#61fd19"/><stop offset="0.340" stop-color="#56fc16"/><stop offset="0.358" stop-color="#53fc16"/><stop offset="0.526" stop-color="#61fd19"/><stop offset="0.654" stop-color="#70fd1e"/><stop offset="0.788" stop-color="#7dfe21"/><stop offset="0.962" stop-color="#6ffd1d"/><stop offset="0.997" stop-color="#6efd1d"/></linearGradient>
<linearGradient id="c148"><stop offset="0.003" stop-color="#69fd1c"/><stop offset="0.009" stop-color="#a6ff2c"/><stop offset="0.015" stop-color="#d1ff39"/><stop offset="0.020" stop-color="#d1ff39"/><stop offset="0.026" stop-color="#a6ff2c"/><stop offset="0.032" stop-color="#69fd1c"/><stop offset="0.038" stop-color="#4efc14"/><stop offset="0.044" stop-color="#47fc12"/><stop offset="0.317" stop-color="#4dfc14"/><stop offset="0.323" stop-color="#50fc15"/><stop offset="0.328" stop-color="#5cfd18"/><stop offset="0.334" stop-color="#5cfd18"/><stop offset="0.340" stop-color="#51fc15"/><stop offset="0.358" stop-color="#4efc14"/><stop offset="0.567" stop-color="#59fd17"/><stop offset="0.811" stop-color="#61fd19"/><stop offset="0.997" stop-color="#5cfd18"/></linearGradient>
<linearGradient id="c150"><stop offset="0.003" stop-color="#6afd1c"/><stop offset="0.009" stop-color="#a9ff2d"/><stop offset="0.015" stop-color="#d4ff39"/><stop offset="0.020" stop-color="#d4ff39"/><stop offset="0.026" stop-color="#a9ff2d"/><stop offset="0.032" stop-color="#6afd1c"/><stop offset="0.038" stop-color="#4efc14"/><stop offset="0.044" stop-color="#47fc12"/><stop offset="0.317" stop-color="#4afc13"/><stop offset="0.323" stop-color="#4dfc14"/><stop offset="0.328" stop-color="#59fd17"/><stop offset="0.334" stop-color="#59fd17"/><stop offset="0.340" stop-color="#4efc14"/><stop offset="0.358" stop-color="#4afc13"/><stop offset="0.834" stop-color="#53fc15"/><stop offset="0.997" stop-color="#51fc15"/></linearGradient>
<linearGradient id="c152"><stop offset="0.003" stop-color="#6bfd1c"/><stop offset="0.009" stop-color="#abff2d"/><stop offset="0.015" stop-color="#d6ff3a"/><stop offset="0.020" stop-color="#d6ff3a"/><stop offset="0.026" stop-color="#abff2d"/><stop offset="0.032" stop-color="#6bfd1c"/><stop offset="0.038" stop-color="#4efc14"/><stop offset="0.044" stop-color="#47fc12"/><stop offset="0.317" stop-color="#48fc13"/><stop offset="0.323" stop-color="#4cfc14"/><stop offset="0.328" stop-color="#57fc17"/><stop offset="0.334" stop-color="#57fc17"/><stop offset="0.340" stop-color="#4cfc14"/><stop offset="0.358" stop-color="#48fc13"/><stop offset="0.997" stop-color="#4bfc13"/></linearGradient>
<linearGradient id="c154"><stop offset="0.003" stop-color="#6bfd1c"/><stop offset="0.009" stop-color="#acff2e"/><stop offset="0.015" stop-color="#d6ff3a"/><stop offset="0.020" stop-color="#d7ff3a"/><stop offset="0.026" stop-color="#acff2e"/><stop offset="0.032" stop-color="#6bfd1c"/><stop offset="0.038" stop-color="#4efc14"/><stop offset="0.044" stop-color="#47fc12"/><stop offset="0.317" stop-color="#47fc12"/><stop offset="0.323" stop-color="#4bfc13"/><stop offset="0.328" stop-color="#56fc16"/><stop offset="0.334" stop-color="#56fc16"/><stop offset="0.340" stop-color="#4bfc13"/><stop offset="0.358" stop-color="#47fc12"/><stop offset="0.997" stop-color="#48fc13"/></linearGradient>
<linearGradient id="c156"><stop offset="0.003" stop-color="#6cfd1c"/><stop offset="0.009" stop-color="#acff2e"/><stop offset="0.015" stop-color="#d7ff3a"/><stop offset="0.020" stop-color="#d7ff3a"/><stop offset="0.026" stop-color="#acff2e"/><stop offset="0.032" stop-color="#6cfd1c"/><stop offset="0.038" stop-color="#4efc14"/><stop offset="0.044" stop-color="#47fc12"/><stop offset="0.317" stop-color="#47fc12"/><stop offset="0.323" stop-color="#4afc13"/><stop offset="0.328" stop-color="#56fc16"/><stop offset="0.334" stop-color="#56fc16"/><stop offset="0.340" stop-color="#4afc13"/><stop offset="0.358" stop-color="#46fc12"/><stop offset="0.997" stop-color="#47fc12"/></linearGradient>
<linearGradient id="c158"><stop offset="0.003" stop-color="#6cfd1c"/><stop offset="0.009" stop-color="#acff2e"/><stop offset="0.015" stop-color="#d7ff3a"/><stop offset="0.020" stop-color="#d7ff3a"/><stop offset="0.026" stop-color="#acff2e"/><stop offset="0.032" stop-color="#6cfd1c"/><stop offset="0.038" stop-color="#4efc14"/><stop offset="0.044" stop-color="#47fc12"/><stop offset="0.317" stop-color="#46fc12"/><stop offset="0.323" stop-color="#4afc13"/><stop offset="0.328" stop-color="#55fc16"/><stop offset="0.334" stop-color="#55fc16"/><stop offset="0.340" stop-color="#4afc13"/><stop offset="0.358" stop-color="#46fc12"/><stop offset="0.997" stop-color="#46fc12"/></linearGradient>
<linearGradient id="c160"><stop offset="0.003" stop-color="#6cfd1c"/><stop offset="0.009" stop-color="#acff2e"/><stop offset="0.015" stop-color="#d7ff3a"/><stop offset="0.020" stop-color="#d7ff3a"/><stop offset="0.026" stop-color="#acff2e"/><stop offset="0.032" stop-color="#6cfd1c"/><stop offset="0.038" stop-color="#4efc14"/><stop offset="0.044" stop-color="#47fc12"/><stop offset="0.317" stop-color="#46fc12"/><stop offset="0.323" stop-color="#4afc13"/><stop offset="0.328" stop-color="#55fc16"/><stop offset="0.334" stop-color="#55fc16"/><stop offset="0.340" stop-color="#4afc13"/><stop offset="0.358" stop-color="#46fc12"/><stop offset="0.997" stop-color="#46fc12"/></linearGradient>
<linearGradient id="c162"><stop offset="0.003" stop-color="#6cfd1c"/><stop offset="0.009" stop-color="#acff2e"/><stop offset="0.015" stop-color="#d7ff3a"/><stop offset="0.020" stop-color="#d7ff3a"/><stop offset="0.026" stop-color="#acff2e"/><stop offset="0.032" stop-color="#6cfd1c"/><stop offset="0.038" stop-color="#4efc14"/><stop offset="0.044" stop-color="#47fc12"/><stop offset="0.317" stop-color="#46fc12"/><stop offset="0.323" stop-color="#4afc13"/><stop offset="0.328" stop-color="#55fc16"/><stop offset="0.334" stop-color="#55fc16"/><stop offset="0.340" stop-color="#4afc13"/><stop offset="0.358" stop-color="#46fc12"/><stop offset="0.997" stop-color="#46fc12"/></linearGradient></defs>
<g clip-path="url(#clipc)">
<rect x="508" y="9" width="172" height="2" fill="url(#c0)"/>
<rect x="508" y="11" width="172" height="2" fill="url(#c2)"/>
<rect x="508" y="13" width="172" height="2" fill="url(#c4)"/>
<rect x="508" y="15" width="172" height="2" fill="url(#c6)"/>
<rect x="508" y="17" width="172" height="2" fill="url(#c8)"/>
<rect x="508" y="19" width="172" height="2" fill="url(#c10)"/>
<rect x="508" y="21" width="172" height="2" fill="url(#c12)"/>
<rect x="508" y="23" width="172" height="2" fill="url(#c14)"/>
<rect x="508" y="25" width="172" height="2" fill="url(#c16)"/>
<rect x="508" y="27" width="172" height="2" fill="url(#c18)"/>
<rect x="508" y="29" width="172" height="2" fill="url(#c20)"/>
<rect x="508" y="31" width="172" height="2" fill="url(#c22)"/>
<rect x="508" y="33" width="172" height="2" fill="url(#c24)"/>
<rect x="508" y="35" width="172" height="2" fill="url(#c26)"/>
<rect x="508" y="37" width="172" height="2" fill="url(#c28)"/>
<rect x="508" y="39" width="172" height="2" fill="url(#c30)"/>
<rect x="508" y="41" width="172" height="2" fill="url(#c32)"/>
<rect x="508" y="43" width="172" height="2" fill="url(#c34)"/>
<rect x="508" y="45" width="172" height="2" fill="url(#c36)"/>
<rect x="508" y="47" width="172" height="2" fill="url(#c38)"/>
<rect x="508" y="49" width="172" height="2" fill="url(#c40)"/>
<rect x="508" y="51" width="172" height="2" fill="url(#c42)"/>
<rect x="508" y="53" width="172" height="2" fill="url(#c44)"/>
<rect x="508" y="55" width="172" height="2" fill="url(#c46)"/>
<rect x="508" y="57" width="172" height="2" fill="url(#c48)"/>
<rect x="508" y="59" width="172" height="2" fill="url(#c50)"/>
<rect x="508" y="61" width="172" height="2" fill="url(#c52)"/>
<rect x="508" y="63" width="172" height="2" fill="url(#c54)"/>
<rect x="508" y="65" width="172" height="2" fill="url(#c56)"/>
<rect x="508" y="67" width="172" height="2" fill="url(#c58)"/>
<rect x="508" y="69" width="172" height="2" fill="url(#c60)"/>
<rect x="508" y="71" width="172" height="2" fill="url(#c62)"/>
<rect x="508" y="73" width="172" height="2" fill="url(#c64)"/>
<rect x="508" y="75" width="172" height="2" fill="url(#c66)"/>
<rect x="508" y="77" width="172" height="2" fill="url(#c68)"/>
<rect x="508" y="79" width="172" height="2" fill="url(#c70)"/>
<rect x="508" y="81" width="172" height="2" fill="url(#c72)"/>
<rect x="508" y="83" width="172" height="2" fill="url(#c74)"/>
<rect x="508" y="85" width="172" height="2" fill="url(#c76)"/>
<rect x="508" y="87" width="172" height="2" fill="url(#c78)"/>
<rect x="508" y="89" width="172" height="2" fill="url(#c80)"/>
<rect x="508" y="91" width="172" height="2" fill="url(#c82)"/>
<rect x="508" y="93" width="172" height="2" fill="url(#c84)"/>
<rect x="508" y="95" width="172" height="2" fill="url(#c86)"/>
<rect x="508" y="97" width="172" height="2" fill="url(#c88)"/>
<rect x="508" y="99" width="172" height="2" fill="url(#c90)"/>
<rect x="508" y="101" width="172" height="2" fill="url(#c92)"/>
<rect x="508" y="103" width="172" height="2" fill="url(#c94)"/>
<rect x="508" y="105" width="172" height="2" fill="url(#c96)"/>
<rect x="508" y="107" width="172" height="2" fill="url(#c98)"/>
<rect x="508" y="109" width="172" height="2" fill="url(#c100)"/>
<rect x="508" y="111" width="172" height="2" fill="url(#c102)"/>
<rect x="508" y="113" width="172" height="2" fill="url(#c104)"/>
<rect x="508" y="115" width="172" height="2" fill="url(#c106)"/>
<rect x="508" y="117" width="172" height="2" fill="url(#c108)"/>
<rect x="508" y="119" width="172" height="2" fill="url(#c110)"/>
<rect x="508" y="121" width="172" height="2" fill="url(#c112)"/>
<rect x="508" y="123" width="172" height="2" fill="url(#c114)"/>
<rect x="508" y="125" width="172" height="2" fill="url(#c116)"/>
<rect x="508" y="127" width="172" height="2" fill="url(#c118)"/>
<rect x="508" y="129" width="172" height="2" fill="url(#c120)"/>
<rect x="508" y="131" width="172" height="2" fill="url(#c122)"/>
<rect x="508" y="133" width="172" height="2" fill="url(#c124)"/>
<rect x="508" y="135" width="172" height="2" fill="url(#c126)"/>
<rect x="508" y="137" width="172" height="2" fill="url(#c128)"/>
<rect x="508" y="139" width="172" height="2" fill="url(#c130)"/>
<rect x="508" y="141" width="172" height="2" fill="url(#c132)"/>
<rect x="508" y="143" width="172" height="2" fill="url(#c134)"/>
<rect x="508" y="145" width="172" height="2" fill="url(#c136)"/>
<rect x="508" y="147" width="172" height="2" fill="url(#c138)"/>
<rect x="508" y="149" width="172" height="2" fill="url(#c140)"/>
<rect x="508" y="151" width="172" height="2" fill="url(#c142)"/>
<rect x="508" y="153" width="172" height="2" fill="url(#c144)"/>
<rect x="508" y="155" width="172" height="2" fill="url(#c146)"/>
<rect x="508" y="157" width="172" height="2" fill="url(#c148)"/>
<rect x="508" y="159" width="172" height="2" fill="url(#c150)"/>
<rect x="508" y="161" width="172" height="2" fill="url(#c152)"/>
<rect x="508" y="163" width="172" height="2" fill="url(#c154)"/>
<rect x="508" y="165" width="172" height="2" fill="url(#c156)"/>
<rect x="508" y="167" width="172" height="2" fill="url(#c158)"/>
<rect x="508" y="169" width="172" height="2" fill="url(#c160)"/>
<rect x="508" y="171" width="172" height="2" fill="url(#c162)"/>
<path d="M508.7 25.7h1.4v1.2h-1.4zM509.3 12.9h1.4v1.2h-1.4zM511.1 38.8h1.4v1.2h-1.4zM511.2 38.5h1.4v1.2h-1.4zM508.8 112.9h1.4v1.2h-1.4zM513.4 40.6h1.4v1.2h-1.4zM514.7 77.5h1.4v1.2h-1.4zM511.1 56.8h1.4v1.2h-1.4zM512.2 101.1h1.4v1.2h-1.4zM515.7 103.7h1.4v1.2h-1.4zM509.4 38.4h1.4v1.2h-1.4zM509.5 37.2h1.4v1.2h-1.4zM510.5 117.2h1.4v1.2h-1.4zM511.2 11.6h1.4v1.2h-1.4zM514.4 142.5h1.4v1.2h-1.4zM513.1 53.2h1.4v1.2h-1.4zM514.4 114.3h1.4v1.2h-1.4zM511.7 29.7h1.4v1.2h-1.4zM510.9 92.2h1.4v1.2h-1.4zM512.1 125.9h1.4v1.2h-1.4zM511.3 66.2h1.4v1.2h-1.4zM511.0 51.6h1.4v1.2h-1.4zM515.1 107.1h1.4v1.2h-1.4zM509.9 14.7h1.4v1.2h-1.4zM515.9 48.8h1.4v1.2h-1.4zM511.4 85.9h1.4v1.2h-1.4zM513.6 82.7h1.4v1.2h-1.4zM510.2 134.1h1.4v1.2h-1.4zM510.4 128.7h1.4v1.2h-1.4zM514.0 116.4h1.4v1.2h-1.4zM509.6 16.7h1.4v1.2h-1.4zM509.2 79.1h1.4v1.2h-1.4zM511.9 77.2h1.4v1.2h-1.4zM514.7 111.8h1.4v1.2h-1.4zM510.3 149.0h1.4v1.2h-1.4zM515.1 67.7h1.4v1.2h-1.4zM512.7 119.9h1.4v1.2h-1.4zM509.0 132.0h1.4v1.2h-1.4zM513.4 75.6h1.4v1.2h-1.4zM511.1 144.3h1.4v1.2h-1.4zM511.9 103.8h1.4v1.2h-1.4zM509.1 101.2h1.4v1.2h-1.4zM514.2 25.1h1.4v1.2h-1.4zM510.6 119.1h1.4v1.2h-1.4zM510.1 81.3h1.4v1.2h-1.4zM514.5 85.9h1.4v1.2h-1.4zM512.1 30.1h1.4v1.2h-1.4zM511.0 129.3h1.4v1.2h-1.4zM515.1 59.8h1.4v1.2h-1.4zM512.2 37.9h1.4v1.2h-1.4zM514.2 110.9h1.4v1.2h-1.4zM509.3 74.6h1.4v1.2h-1.4zM508.7 17.2h1.4v1.2h-1.4zM512.8 43.3h1.4v1.2h-1.4zM510.8 100.9h1.4v1.2h-1.4zM509.1 30.1h1.4v1.2h-1.4zM513.0 103.9h1.4v1.2h-1.4zM513.5 78.7h1.4v1.2h-1.4zM511.2 144.0h1.4v1.2h-1.4zM513.4 38.0h1.4v1.2h-1.4zM514.6 143.1h1.4v1.2h-1.4zM512.9 105.3h1.4v1.2h-1.4zM509.0 65.1h1.4v1.2h-1.4zM510.4 36.1h1.4v1.2h-1.4zM514.1 85.0h1.4v1.2h-1.4zM515.3 65.9h1.4v1.2h-1.4zM510.9 71.5h1.4v1.2h-1.4zM508.8 37.9h1.4v1.2h-1.4zM509.1 127.6h1.4v1.2h-1.4zM511.4 126.2h1.4v1.2h-1.4zM511.0 125.0h1.4v1.2h-1.4zM514.6 107.5h1.4v1.2h-1.4zM513.2 30.7h1.4v1.2h-1.4zM511.4 17.0h1.4v1.2h-1.4zM513.8 57.9h1.4v1.2h-1.4zM513.6 65.6h1.4v1.2h-1.4zM514.6 83.0h1.4v1.2h-1.4zM511.0 108.5h1.4v1.2h-1.4zM508.9 51.9h1.4v1.2h-1.4zM516.0 139.5h1.4v1.2h-1.4zM509.1 126.1h1.4v1.2h-1.4zM515.1 55.7h1.4v1.2h-1.4zM515.6 111.1h1.4v1.2h-1.4z" fill="#c0ff50" fill-opacity="0.55"/>
<path d="M509.6 16.1h1.4v1.2h-1.4zM512.6 109.6h1.4v1.2h-1.4zM511.3 143.7h1.4v1.2h-1.4zM512.7 143.5h1.4v1.2h-1.4zM515.7 146.7h1.4v1.2h-1.4zM514.4 52.9h1.4v1.2h-1.4zM510.8 34.3h1.4v1.2h-1.4zM515.3 100.9h1.4v1.2h-1.4zM509.8 148.6h1.4v1.2h-1.4zM512.2 92.7h1.4v1.2h-1.4zM513.7 146.2h1.4v1.2h-1.4zM512.9 72.4h1.4v1.2h-1.4zM509.0 96.0h1.4v1.2h-1.4zM513.7 91.2h1.4v1.2h-1.4zM514.0 125.8h1.4v1.2h-1.4zM511.4 37.8h1.4v1.2h-1.4zM509.4 40.2h1.4v1.2h-1.4zM509.7 123.1h1.4v1.2h-1.4zM514.2 52.1h1.4v1.2h-1.4zM512.9 66.5h1.4v1.2h-1.4zM512.6 54.8h1.4v1.2h-1.4zM513.6 109.1h1.4v1.2h-1.4zM513.7 55.3h1.4v1.2h-1.4zM514.5 18.6h1.4v1.2h-1.4zM514.5 140.8h1.4v1.2h-1.4zM512.6 71.7h1.4v1.2h-1.4zM511.5 68.5h1.4v1.2h-1.4zM513.7 127.4h1.4v1.2h-1.4zM512.4 54.6h1.4v1.2h-1.4zM515.0 131.9h1.4v1.2h-1.4zM514.6 145.1h1.4v1.2h-1.4zM512.7 118.3h1.4v1.2h-1.4zM512.9 34.9h1.4v1.2h-1.4zM515.8 46.3h1.4v1.2h-1.4zM509.7 73.5h1.4v1.2h-1.4zM511.2 130.1h1.4v1.2h-1.4zM510.7 33.6h1.4v1.2h-1.4zM511.7 51.7h1.4v1.2h-1.4zM515.7 66.0h1.4v1.2h-1.4zM515.0 108.7h1.4v1.2h-1.4zM509.8 46.8h1.4v1.2h-1.4zM513.3 43.7h1.4v1.2h-1.4zM512.8 147.4h1.4v1.2h-1.4zM514.2 65.6h1.4v1.2h-1.4zM515.9 130.5h1.4v1.2h-1.4zM513.6 23.3h1.4v1.2h-1.4zM511.4 52.4h1.4v1.2h-1.4zM509.1 61.9h1.4v1.2h-1.4zM513.1 62.2h1.4v1.2h-1.4zM509.5 45.5h1.4v1.2h-1.4zM509.1 40.3h1.4v1.2h-1.4zM511.4 131.6h1.4v1.2h-1.4zM509.5 88.2h1.4v1.2h-1.4zM514.6 149.5h1.4v1.2h-1.4zM512.1 106.2h1.4v1.2h-1.4zM512.8 100.3h1.4v1.2h-1.4zM516.0 94.7h1.4v1.2h-1.4zM511.5 92.0h1.4v1.2h-1.4zM515.4 80.8h1.4v1.2h-1.4zM508.6 31.2h1.4v1.2h-1.4zM509.5 28.7h1.4v1.2h-1.4zM513.6 127.7h1.4v1.2h-1.4zM510.2 54.4h1.4v1.2h-1.4zM513.1 123.7h1.4v1.2h-1.4zM508.8 98.0h1.4v1.2h-1.4zM513.0 114.6h1.4v1.2h-1.4z" fill="#a8f840" fill-opacity="0.55"/>
<path d="M509.7 113.7h1.4v1.2h-1.4zM509.0 42.4h1.4v1.2h-1.4zM511.9 67.8h1.4v1.2h-1.4zM514.0 68.3h1.4v1.2h-1.4zM514.0 37.1h1.4v1.2h-1.4zM512.7 141.0h1.4v1.2h-1.4zM515.4 94.2h1.4v1.2h-1.4zM511.9 120.4h1.4v1.2h-1.4zM513.9 47.5h1.4v1.2h-1.4zM512.1 79.7h1.4v1.2h-1.4zM510.7 62.1h1.4v1.2h-1.4zM512.2 121.6h1.4v1.2h-1.4zM509.6 89.4h1.4v1.2h-1.4zM513.7 87.6h1.4v1.2h-1.4zM513.7 83.4h1.4v1.2h-1.4zM511.6 83.4h1.4v1.2h-1.4zM511.0 62.0h1.4v1.2h-1.4zM508.9 103.5h1.4v1.2h-1.4zM515.1 38.7h1.4v1.2h-1.4zM510.5 38.3h1.4v1.2h-1.4zM511.9 101.3h1.4v1.2h-1.4zM510.4 29.9h1.4v1.2h-1.4zM510.9 64.3h1.4v1.2h-1.4zM509.0 89.9h1.4v1.2h-1.4zM513.5 10.5h1.4v1.2h-1.4zM515.0 18.0h1.4v1.2h-1.4zM511.5 131.7h1.4v1.2h-1.4zM509.6 145.1h1.4v1.2h-1.4zM514.3 126.8h1.4v1.2h-1.4zM512.2 18.7h1.4v1.2h-1.4zM513.7 128.2h1.4v1.2h-1.4zM515.1 87.2h1.4v1.2h-1.4zM512.6 120.2h1.4v1.2h-1.4zM511.9 54.5h1.4v1.2h-1.4zM513.4 33.5h1.4v1.2h-1.4zM515.8 76.4h1.4v1.2h-1.4zM513.9 110.6h1.4v1.2h-1.4zM509.9 81.7h1.4v1.2h-1.4zM511.1 80.0h1.4v1.2h-1.4zM514.9 32.7h1.4v1.2h-1.4zM514.2 136.9h1.4v1.2h-1.4zM509.1 66.6h1.4v1.2h-1.4zM511.0 44.9h1.4v1.2h-1.4zM512.1 118.6h1.4v1.2h-1.4zM511.7 110.5h1.4v1.2h-1.4zM512.8 30.8h1.4v1.2h-1.4zM512.0 50.4h1.4v1.2h-1.4zM511.3 42.6h1.4v1.2h-1.4zM515.8 75.2h1.4v1.2h-1.4zM508.7 84.7h1.4v1.2h-1.4zM511.7 81.5h1.4v1.2h-1.4zM512.2 83.5h1.4v1.2h-1.4zM508.8 43.6h1.4v1.2h-1.4zM512.0 32.2h1.4v1.2h-1.4zM515.7 27.9h1.4v1.2h-1.4zM508.9 141.5h1.4v1.2h-1.4zM515.7 75.4h1.4v1.2h-1.4zM509.4 17.3h1.4v1.2h-1.4zM515.0 132.8h1.4v1.2h-1.4zM516.0 79.5h1.4v1.2h-1.4zM515.4 90.0h1.4v1.2h-1.4zM515.1 25.8h1.4v1.2h-1.4zM514.2 77.5h1.4v1.2h-1.4zM514.5 102.6h1.4v1.2h-1.4zM513.8 105.6h1.4v1.2h-1.4zM512.6 141.5h1.4v1.2h-1.4zM515.2 123.0h1.4v1.2h-1.4zM512.0 18.8h1.4v1.2h-1.4zM513.8 82.0h1.4v1.2h-1.4zM514.3 46.0h1.4v1.2h-1.4zM511.8 92.7h1.4v1.2h-1.4z" fill="#88f830" fill-opacity="0.55"/>
<path d="M677.4 52.2h1.4v1.2h-1.4zM667.6 38.4h1.4v1.2h-1.4zM673.7 47.3h1.4v1.2h-1.4zM671.4 92.3h1.4v1.2h-1.4zM668.4 87.1h1.4v1.2h-1.4zM671.1 84.1h1.4v1.2h-1.4zM668.9 15.6h1.4v1.2h-1.4zM677.2 42.2h1.4v1.2h-1.4zM671.6 61.1h1.4v1.2h-1.4zM671.2 81.5h1.4v1.2h-1.4zM671.5 67.9h1.4v1.2h-1.4zM667.0 67.4h1.4v1.2h-1.4zM675.8 55.3h1.4v1.2h-1.4zM672.5 40.5h1.4v1.2h-1.4zM670.1 17.2h1.4v1.2h-1.4zM678.9 28.3h1.4v1.2h-1.4zM673.2 48.2h1.4v1.2h-1.4zM667.7 81.6h1.4v1.2h-1.4zM678.9 28.5h1.4v1.2h-1.4zM667.6 16.6h1.4v1.2h-1.4zM662.1 50.8h1.4v1.2h-1.4zM670.9 81.9h1.4v1.2h-1.4zM678.5 29.2h1.4v1.2h-1.4zM664.4 66.9h1.4v1.2h-1.4zM676.1 33.5h1.4v1.2h-1.4zM674.0 11.2h1.4v1.2h-1.4zM676.2 14.1h1.4v1.2h-1.4zM671.2 36.7h1.4v1.2h-1.4zM666.6 43.9h1.4v1.2h-1.4zM667.3 14.9h1.4v1.2h-1.4zM673.4 70.5h1.4v1.2h-1.4zM673.6 21.9h1.4v1.2h-1.4zM675.2 84.9h1.4v1.2h-1.4zM670.6 69.3h1.4v1.2h-1.4zM674.7 19.8h1.4v1.2h-1.4zM671.2 19.3h1.4v1.2h-1.4zM665.0 49.6h1.4v1.2h-1.4zM676.5 57.6h1.4v1.2h-1.4zM676.6 27.6h1.4v1.2h-1.4zM662.7 43.3h1.4v1.2h-1.4zM667.0 71.7h1.4v1.2h-1.4zM675.0 46.0h1.4v1.2h-1.4zM664.3 39.8h1.4v1.2h-1.4zM674.4 36.7h1.4v1.2h-1.4zM672.0 50.4h1.4v1.2h-1.4zM662.9 35.3h1.4v1.2h-1.4zM679.0 50.1h1.4v1.2h-1.4zM670.2 45.9h1.4v1.2h-1.4zM675.7 83.5h1.4v1.2h-1.4zM679.1 73.5h1.4v1.2h-1.4z" fill="#80f8d0" fill-opacity="0.55"/>
<path d="M665.0 38.1h1.4v1.2h-1.4zM670.0 29.3h1.4v1.2h-1.4zM663.0 38.0h1.4v1.2h-1.4zM676.2 34.6h1.4v1.2h-1.4zM674.8 45.4h1.4v1.2h-1.4zM669.6 20.5h1.4v1.2h-1.4zM678.6 69.2h1.4v1.2h-1.4zM664.5 54.5h1.4v1.2h-1.4zM670.3 57.9h1.4v1.2h-1.4zM676.4 39.4h1.4v1.2h-1.4zM665.4 31.4h1.4v1.2h-1.4zM674.5 37.6h1.4v1.2h-1.4zM671.1 42.8h1.4v1.2h-1.4zM666.0 27.6h1.4v1.2h-1.4zM668.1 77.5h1.4v1.2h-1.4zM667.3 81.3h1.4v1.2h-1.4zM674.8 74.5h1.4v1.2h-1.4zM668.7 65.5h1.4v1.2h-1.4zM672.5 58.5h1.4v1.2h-1.4zM668.8 57.1h1.4v1.2h-1.4zM669.3 38.6h1.4v1.2h-1.4zM675.3 31.5h1.4v1.2h-1.4zM671.8 13.0h1.4v1.2h-1.4zM678.3 50.5h1.4v1.2h-1.4zM673.3 28.9h1.4v1.2h-1.4zM667.0 40.8h1.4v1.2h-1.4zM673.1 48.4h1.4v1.2h-1.4zM662.3 54.2h1.4v1.2h-1.4zM678.5 21.4h1.4v1.2h-1.4zM671.8 31.9h1.4v1.2h-1.4zM668.9 67.0h1.4v1.2h-1.4zM664.2 48.0h1.4v1.2h-1.4zM663.1 41.1h1.4v1.2h-1.4zM665.9 90.0h1.4v1.2h-1.4zM671.1 29.1h1.4v1.2h-1.4zM662.9 94.7h1.4v1.2h-1.4zM677.5 46.6h1.4v1.2h-1.4zM673.6 54.0h1.4v1.2h-1.4zM677.8 85.3h1.4v1.2h-1.4zM672.3 44.8h1.4v1.2h-1.4zM664.1 56.7h1.4v1.2h-1.4zM667.0 59.8h1.4v1.2h-1.4zM672.2 33.4h1.4v1.2h-1.4zM671.3 90.6h1.4v1.2h-1.4zM673.9 29.8h1.4v1.2h-1.4zM669.1 35.1h1.4v1.2h-1.4zM677.9 65.7h1.4v1.2h-1.4zM678.9 18.7h1.4v1.2h-1.4z" fill="#a0f060" fill-opacity="0.55"/>
<path d="M676.2 81.1h1.4v1.2h-1.4zM678.6 51.8h1.4v1.2h-1.4zM671.3 54.6h1.4v1.2h-1.4zM666.3 59.3h1.4v1.2h-1.4zM671.1 79.9h1.4v1.2h-1.4zM666.2 19.7h1.4v1.2h-1.4zM674.3 16.3h1.4v1.2h-1.4zM665.9 11.9h1.4v1.2h-1.4zM662.9 58.2h1.4v1.2h-1.4zM661.3 14.1h1.4v1.2h-1.4zM671.1 58.2h1.4v1.2h-1.4zM676.4 59.0h1.4v1.2h-1.4zM673.6 80.8h1.4v1.2h-1.4zM666.3 25.5h1.4v1.2h-1.4zM668.0 57.6h1.4v1.2h-1.4zM678.5 90.9h1.4v1.2h-1.4zM672.3 52.5h1.4v1.2h-1.4zM672.2 62.1h1.4v1.2h-1.4zM662.0 80.7h1.4v1.2h-1.4zM675.1 11.8h1.4v1.2h-1.4zM677.0 85.0h1.4v1.2h-1.4zM670.6 68.5h1.4v1.2h-1.4zM677.5 78.5h1.4v1.2h-1.4zM674.5 63.1h1.4v1.2h-1.4zM671.6 68.3h1.4v1.2h-1.4zM662.1 91.9h1.4v1.2h-1.4zM666.4 62.2h1.4v1.2h-1.4zM667.1 56.0h1.4v1.2h-1.4zM660.1 38.8h1.4v1.2h-1.4zM679.3 31.6h1.4v1.2h-1.4zM679.3 66.0h1.4v1.2h-1.4zM672.9 74.5h1.4v1.2h-1.4zM671.9 41.9h1.4v1.2h-1.4zM675.0 89.2h1.4v1.2h-1.4zM669.4 23.9h1.4v1.2h-1.4zM668.2 69.2h1.4v1.2h-1.4zM671.6 19.8h1.4v1.2h-1.4zM675.1 64.7h1.4v1.2h-1.4zM672.8 25.7h1.4v1.2h-1.4zM678.7 82.8h1.4v1.2h-1.4zM667.7 65.4h1.4v1.2h-1.4zM678.9 29.9h1.4v1.2h-1.4zM675.2 50.4h1.4v1.2h-1.4zM671.3 61.0h1.4v1.2h-1.4zM676.2 88.7h1.4v1.2h-1.4zM674.3 79.0h1.4v1.2h-1.4zM668.3 38.3h1.4v1.2h-1.4zM677.2 49.2h1.4v1.2h-1.4zM669.3 69.9h1.4v1.2h-1.4zM676.1 44.1h1.4v1.2h-1.4zM676.5 46.9h1.4v1.2h-1.4zM668.9 31.3h1.4v1.2h-1.4zM674.5 11.7h1.4v1.2h-1.4zM672.3 49.7h1.4v1.2h-1.4zM665.7 26.1h1.4v1.2h-1.4zM676.3 63.5h1.4v1.2h-1.4zM678.0 93.6h1.4v1.2h-1.4zM670.7 44.9h1.4v1.2h-1.4zM670.6 35.0h1.4v1.2h-1.4zM676.2 91.7h1.4v1.2h-1.4z" fill="#90ffe8" fill-opacity="0.55"/>
<path d="M670.3 58.9h1.4v1.2h-1.4zM679.4 83.4h1.4v1.2h-1.4zM662.2 13.1h1.4v1.2h-1.4zM678.6 60.4h1.4v1.2h-1.4zM679.2 27.9h1.4v1.2h-1.4zM677.0 71.3h1.4v1.2h-1.4zM677.5 10.5h1.4v1.2h-1.4zM673.7 20.3h1.4v1.2h-1.4zM679.1 31.0h1.4v1.2h-1.4zM676.1 13.3h1.4v1.2h-1.4zM672.0 81.6h1.4v1.2h-1.4zM667.7 26.1h1.4v1.2h-1.4zM678.5 70.3h1.4v1.2h-1.4zM672.7 47.7h1.4v1.2h-1.4zM667.5 35.5h1.4v1.2h-1.4zM661.8 62.1h1.4v1.2h-1.4zM677.4 72.8h1.4v1.2h-1.4zM677.2 69.8h1.4v1.2h-1.4zM670.0 77.2h1.4v1.2h-1.4zM670.1 48.9h1.4v1.2h-1.4zM673.2 37.8h1.4v1.2h-1.4zM676.2 71.6h1.4v1.2h-1.4zM668.2 15.0h1.4v1.2h-1.4zM673.9 73.6h1.4v1.2h-1.4zM670.8 34.6h1.4v1.2h-1.4zM677.8 52.5h1.4v1.2h-1.4zM662.7 73.6h1.4v1.2h-1.4zM675.9 63.2h1.4v1.2h-1.4zM659.5 25.2h1.4v1.2h-1.4zM668.9 85.2h1.4v1.2h-1.4zM667.2 19.3h1.4v1.2h-1.4zM669.6 16.9h1.4v1.2h-1.4zM679.0 77.5h1.4v1.2h-1.4zM674.0 86.1h1.4v1.2h-1.4zM665.2 42.2h1.4v1.2h-1.4zM675.2 39.6h1.4v1.2h-1.4zM675.8 18.7h1.4v1.2h-1.4zM661.8 92.1h1.4v1.2h-1.4zM677.8 27.0h1.4v1.2h-1.4zM674.1 75.9h1.4v1.2h-1.4zM671.8 42.2h1.4v1.2h-1.4zM677.5 75.6h1.4v1.2h-1.4zM674.5 89.9h1.4v1.2h-1.4zM678.4 17.8h1.4v1.2h-1.4zM672.0 12.5h1.4v1.2h-1.4zM671.5 53.4h1.4v1.2h-1.4zM662.5 90.9h1.4v1.2h-1.4zM677.9 35.6h1.4v1.2h-1.4zM675.0 12.3h1.4v1.2h-1.4zM673.1 75.6h1.4v1.2h-1.4zM665.9 53.6h1.4v1.2h-1.4zM669.7 30.8h1.4v1.2h-1.4zM669.8 46.4h1.4v1.2h-1.4zM662.6 89.5h1.4v1.2h-1.4zM662.3 24.5h1.4v1.2h-1.4zM669.5 19.2h1.4v1.2h-1.4zM675.0 35.1h1.4v1.2h-1.4zM672.6 68.4h1.4v1.2h-1.4z" fill="#70f0a0" fill-opacity="0.55"/>
<path d="M662.5 137.4h1.4v1.2h-1.4zM657.4 112.9h1.4v1.2h-1.4zM665.0 144.3h1.4v1.2h-1.4zM662.4 132.9h1.4v1.2h-1.4zM656.5 145.7h1.4v1.2h-1.4zM667.7 113.9h1.4v1.2h-1.4zM668.5 149.5h1.4v1.2h-1.4zM663.8 147.6h1.4v1.2h-1.4zM658.3 145.0h1.4v1.2h-1.4zM662.7 124.8h1.4v1.2h-1.4zM662.2 96.9h1.4v1.2h-1.4zM663.2 116.1h1.4v1.2h-1.4zM665.1 104.4h1.4v1.2h-1.4zM662.8 138.3h1.4v1.2h-1.4zM659.9 135.7h1.4v1.2h-1.4zM658.6 99.5h1.4v1.2h-1.4zM660.9 104.0h1.4v1.2h-1.4zM663.3 118.6h1.4v1.2h-1.4zM656.2 138.9h1.4v1.2h-1.4zM657.2 118.6h1.4v1.2h-1.4zM667.0 154.2h1.4v1.2h-1.4zM665.3 117.1h1.4v1.2h-1.4zM665.5 143.9h1.4v1.2h-1.4zM663.5 150.6h1.4v1.2h-1.4zM668.4 114.8h1.4v1.2h-1.4zM662.9 127.4h1.4v1.2h-1.4zM656.3 122.6h1.4v1.2h-1.4zM661.5 112.4h1.4v1.2h-1.4zM664.3 146.6h1.4v1.2h-1.4z" fill="#f0c040" fill-opacity="0.5"/>
<path d="M663.6 139.7h1.4v1.2h-1.4zM656.3 130.2h1.4v1.2h-1.4zM665.2 144.3h1.4v1.2h-1.4zM661.5 96.5h1.4v1.2h-1.4zM658.8 97.0h1.4v1.2h-1.4zM663.5 153.7h1.4v1.2h-1.4zM667.0 147.1h1.4v1.2h-1.4zM662.6 134.8h1.4v1.2h-1.4zM668.3 95.1h1.4v1.2h-1.4zM664.9 117.4h1.4v1.2h-1.4zM665.0 101.5h1.4v1.2h-1.4zM668.2 128.0h1.4v1.2h-1.4zM659.8 145.3h1.4v1.2h-1.4zM660.6 105.8h1.4v1.2h-1.4zM662.8 154.2h1.4v1.2h-1.4zM663.1 145.2h1.4v1.2h-1.4zM661.2 130.4h1.4v1.2h-1.4zM662.0 96.7h1.4v1.2h-1.4zM660.3 135.9h1.4v1.2h-1.4zM665.3 132.5h1.4v1.2h-1.4zM669.2 119.0h1.4v1.2h-1.4zM657.5 112.6h1.4v1.2h-1.4zM670.5 134.2h1.4v1.2h-1.4z" fill="#e8f040" fill-opacity="0.5"/>
<path d="M663.3 127.2h1.4v1.2h-1.4zM663.6 118.0h1.4v1.2h-1.4zM665.6 125.7h1.4v1.2h-1.4zM660.1 142.1h1.4v1.2h-1.4zM657.5 139.2h1.4v1.2h-1.4zM658.8 158.1h1.4v1.2h-1.4zM663.3 123.3h1.4v1.2h-1.4zM659.1 110.4h1.4v1.2h-1.4zM667.6 127.9h1.4v1.2h-1.4zM665.8 95.9h1.4v1.2h-1.4zM666.6 148.5h1.4v1.2h-1.4zM665.0 147.2h1.4v1.2h-1.4zM669.2 134.9h1.4v1.2h-1.4zM667.6 100.2h1.4v1.2h-1.4zM659.8 150.7h1.4v1.2h-1.4zM656.0 135.2h1.4v1.2h-1.4zM657.5 145.2h1.4v1.2h-1.4zM660.6 122.7h1.4v1.2h-1.4zM665.7 118.6h1.4v1.2h-1.4zM663.9 134.1h1.4v1.2h-1.4zM659.3 133.6h1.4v1.2h-1.4zM663.3 114.6h1.4v1.2h-1.4zM661.5 137.5h1.4v1.2h-1.4zM658.7 159.6h1.4v1.2h-1.4zM658.4 148.7h1.4v1.2h-1.4zM664.5 147.6h1.4v1.2h-1.4zM670.5 152.3h1.4v1.2h-1.4zM656.7 149.3h1.4v1.2h-1.4zM663.0 128.5h1.4v1.2h-1.4zM663.9 114.8h1.4v1.2h-1.4zM657.5 159.2h1.4v1.2h-1.4zM658.9 99.9h1.4v1.2h-1.4z" fill="#f07030" fill-opacity="0.5"/>
<path d="M664.6 135.8h1.4v1.2h-1.4zM657.5 101.1h1.4v1.2h-1.4zM656.7 138.7h1.4v1.2h-1.4zM660.4 142.8h1.4v1.2h-1.4zM662.7 120.6h1.4v1.2h-1.4zM660.1 112.9h1.4v1.2h-1.4zM661.3 120.9h1.4v1.2h-1.4zM659.6 112.8h1.4v1.2h-1.4zM664.0 119.6h1.4v1.2h-1.4zM665.3 128.5h1.4v1.2h-1.4zM657.9 108.3h1.4v1.2h-1.4zM663.8 124.5h1.4v1.2h-1.4zM664.7 127.3h1.4v1.2h-1.4zM656.6 153.3h1.4v1.2h-1.4zM657.6 140.2h1.4v1.2h-1.4zM657.2 110.3h1.4v1.2h-1.4zM657.8 147.0h1.4v1.2h-1.4zM656.1 147.3h1.4v1.2h-1.4zM661.6 151.4h1.4v1.2h-1.4zM666.2 138.6h1.4v1.2h-1.4zM663.4 114.8h1.4v1.2h-1.4zM663.8 107.6h1.4v1.2h-1.4zM662.6 141.9h1.4v1.2h-1.4z" fill="#f09030" fill-opacity="0.5"/>
<path d="M673.2 162.9h0.9v3h-0.9zM670.6 162.8h0.9v3h-0.9zM667.3 157.6h0.9v3h-0.9zM676.6 166.6h0.9v3h-0.9zM676.9 158.1h0.9v3h-0.9zM670.0 156.9h0.9v3h-0.9zM672.2 153.9h0.9v3h-0.9zM669.2 165.0h0.9v3h-0.9zM678.4 154.4h0.9v3h-0.9zM671.7 160.2h0.9v3h-0.9zM672.0 153.1h0.9v3h-0.9zM671.6 153.8h0.9v3h-0.9zM673.0 167.3h0.9v3h-0.9zM669.7 161.0h0.9v3h-0.9zM677.7 162.0h0.9v3h-0.9zM669.4 165.3h0.9v3h-0.9zM676.0 158.3h0.9v3h-0.9zM667.5 157.2h0.9v3h-0.9zM674.6 153.7h0.9v3h-0.9zM672.0 155.9h0.9v3h-0.9zM675.1 156.2h0.9v3h-0.9z" fill="#80f8d0" fill-opacity="0.45"/>
<path d="M678.2 169.4h0.9v3h-0.9zM679.0 151.4h0.9v3h-0.9zM676.9 170.5h0.9v3h-0.9zM673.8 158.6h0.9v3h-0.9zM673.9 166.5h0.9v3h-0.9zM669.8 152.6h0.9v3h-0.9zM671.5 167.1h0.9v3h-0.9zM672.1 170.0h0.9v3h-0.9zM670.0 151.5h0.9v3h-0.9zM673.0 162.9h0.9v3h-0.9zM671.5 155.0h0.9v3h-0.9zM676.4 170.2h0.9v3h-0.9zM679.1 163.4h0.9v3h-0.9zM666.9 166.2h0.9v3h-0.9zM676.1 157.5h0.9v3h-0.9zM675.0 150.0h0.9v3h-0.9zM672.4 154.0h0.9v3h-0.9zM676.8 155.9h0.9v3h-0.9zM675.6 168.9h0.9v3h-0.9zM666.3 168.1h0.9v3h-0.9zM671.4 170.8h0.9v3h-0.9zM677.9 153.6h0.9v3h-0.9zM672.3 159.0h0.9v3h-0.9zM675.1 153.3h0.9v3h-0.9zM676.6 160.7h0.9v3h-0.9zM669.3 170.3h0.9v3h-0.9zM679.2 170.6h0.9v3h-0.9zM677.5 164.4h0.9v3h-0.9zM675.3 150.8h0.9v3h-0.9z" fill="#90ffe8" fill-opacity="0.45"/>
</g>
<defs><clipPath id="clipc"><rect x="508.6" y="9" width="171" height="163.2"/></clipPath></defs>
<rect x="508.6" y="9" width="171" height="163.2" stroke="#3a3a3a" stroke-width="0.9" fill="none"/>
<line x1="514.2" y1="172.2" x2="514.2" y2="175.2" stroke="#333" stroke-width="0.9"/>
<text x="514.2" y="187.6" font-size="11.6" text-anchor="middle" fill="#0a0a0a">400</text>
<line x1="542.7" y1="172.2" x2="542.7" y2="175.2" stroke="#333" stroke-width="0.9"/>
<text x="542.7" y="187.6" font-size="11.6" text-anchor="middle" fill="#0a0a0a">450</text>
<line x1="571.2" y1="172.2" x2="571.2" y2="175.2" stroke="#333" stroke-width="0.9"/>
<text x="571.2" y="187.6" font-size="11.6" text-anchor="middle" fill="#0a0a0a">500</text>
<line x1="599.7" y1="172.2" x2="599.7" y2="175.2" stroke="#333" stroke-width="0.9"/>
<text x="599.7" y="187.6" font-size="11.6" text-anchor="middle" fill="#0a0a0a">550</text>
<line x1="628.2" y1="172.2" x2="628.2" y2="175.2" stroke="#333" stroke-width="0.9"/>
<text x="628.2" y="187.6" font-size="11.6" text-anchor="middle" fill="#0a0a0a">600</text>
<line x1="656.7" y1="172.2" x2="656.7" y2="175.2" stroke="#333" stroke-width="0.9"/>
<text x="656.7" y="187.6" font-size="11.6" text-anchor="middle" fill="#0a0a0a">650</text>
<line x1="528.45" y1="172.2" x2="528.45" y2="174.2" stroke="#333" stroke-width="0.9"/>
<line x1="556.95" y1="172.2" x2="556.95" y2="174.2" stroke="#333" stroke-width="0.9"/>
<line x1="585.45" y1="172.2" x2="585.45" y2="174.2" stroke="#333" stroke-width="0.9"/>
<line x1="613.95" y1="172.2" x2="613.95" y2="174.2" stroke="#333" stroke-width="0.9"/>
<line x1="642.45" y1="172.2" x2="642.45" y2="174.2" stroke="#333" stroke-width="0.9"/>
<line x1="670.95" y1="172.2" x2="670.95" y2="174.2" stroke="#333" stroke-width="0.9"/>
<line x1="505.6" y1="160.6" x2="508.6" y2="160.6" stroke="#333" stroke-width="0.9"/>
<text x="502.9" y="164.7" font-size="11.4" text-anchor="end" fill="#0a0a0a">10<tspan font-size="8.44" dy="-4.6">-1</tspan></text>
<line x1="505.6" y1="129.6" x2="508.6" y2="129.6" stroke="#333" stroke-width="0.9"/>
<text x="502.9" y="133.7" font-size="11.4" text-anchor="end" fill="#0a0a0a">10<tspan font-size="8.44" dy="-4.6">0</tspan></text>
<line x1="505.6" y1="98.6" x2="508.6" y2="98.6" stroke="#333" stroke-width="0.9"/>
<text x="502.9" y="102.7" font-size="11.4" text-anchor="end" fill="#0a0a0a">10<tspan font-size="8.44" dy="-4.6">1</tspan></text>
<line x1="505.6" y1="67.6" x2="508.6" y2="67.6" stroke="#333" stroke-width="0.9"/>
<text x="502.9" y="71.7" font-size="11.4" text-anchor="end" fill="#0a0a0a">10<tspan font-size="8.44" dy="-4.6">2</tspan></text>
<line x1="505.6" y1="36.6" x2="508.6" y2="36.6" stroke="#333" stroke-width="0.9"/>
<text x="502.9" y="40.7" font-size="11.4" text-anchor="end" fill="#0a0a0a">10<tspan font-size="8.44" dy="-4.6">3</tspan></text>
<line x1="506.8" y1="169.93" x2="508.6" y2="169.93" stroke="#333" stroke-width="0.8"/>
<line x1="506.8" y1="167.48" x2="508.6" y2="167.48" stroke="#333" stroke-width="0.8"/>
<line x1="506.8" y1="165.4" x2="508.6" y2="165.4" stroke="#333" stroke-width="0.8"/>
<line x1="506.8" y1="163.6" x2="508.6" y2="163.6" stroke="#333" stroke-width="0.8"/>
<line x1="506.8" y1="162.02" x2="508.6" y2="162.02" stroke="#333" stroke-width="0.8"/>
<line x1="506.8" y1="151.27" x2="508.6" y2="151.27" stroke="#333" stroke-width="0.8"/>
<line x1="506.8" y1="145.81" x2="508.6" y2="145.81" stroke="#333" stroke-width="0.8"/>
<line x1="506.8" y1="141.94" x2="508.6" y2="141.94" stroke="#333" stroke-width="0.8"/>
<line x1="506.8" y1="138.93" x2="508.6" y2="138.93" stroke="#333" stroke-width="0.8"/>
<line x1="506.8" y1="136.48" x2="508.6" y2="136.48" stroke="#333" stroke-width="0.8"/>
<line x1="506.8" y1="134.4" x2="508.6" y2="134.4" stroke="#333" stroke-width="0.8"/>
<line x1="506.8" y1="132.6" x2="508.6" y2="132.6" stroke="#333" stroke-width="0.8"/>
<line x1="506.8" y1="131.02" x2="508.6" y2="131.02" stroke="#333" stroke-width="0.8"/>
<line x1="506.8" y1="120.27" x2="508.6" y2="120.27" stroke="#333" stroke-width="0.8"/>
<line x1="506.8" y1="114.81" x2="508.6" y2="114.81" stroke="#333" stroke-width="0.8"/>
<line x1="506.8" y1="110.94" x2="508.6" y2="110.94" stroke="#333" stroke-width="0.8"/>
<line x1="506.8" y1="107.93" x2="508.6" y2="107.93" stroke="#333" stroke-width="0.8"/>
<line x1="506.8" y1="105.48" x2="508.6" y2="105.48" stroke="#333" stroke-width="0.8"/>
<line x1="506.8" y1="103.4" x2="508.6" y2="103.4" stroke="#333" stroke-width="0.8"/>
<line x1="506.8" y1="101.6" x2="508.6" y2="101.6" stroke="#333" stroke-width="0.8"/>
<line x1="506.8" y1="100.02" x2="508.6" y2="100.02" stroke="#333" stroke-width="0.8"/>
<line x1="506.8" y1="89.27" x2="508.6" y2="89.27" stroke="#333" stroke-width="0.8"/>
<line x1="506.8" y1="83.81" x2="508.6" y2="83.81" stroke="#333" stroke-width="0.8"/>
<line x1="506.8" y1="79.94" x2="508.6" y2="79.94" stroke="#333" stroke-width="0.8"/>
<line x1="506.8" y1="76.93" x2="508.6" y2="76.93" stroke="#333" stroke-width="0.8"/>
<line x1="506.8" y1="74.48" x2="508.6" y2="74.48" stroke="#333" stroke-width="0.8"/>
<line x1="506.8" y1="72.4" x2="508.6" y2="72.4" stroke="#333" stroke-width="0.8"/>
<line x1="506.8" y1="70.6" x2="508.6" y2="70.6" stroke="#333" stroke-width="0.8"/>
<line x1="506.8" y1="69.02" x2="508.6" y2="69.02" stroke="#333" stroke-width="0.8"/>
<line x1="506.8" y1="58.27" x2="508.6" y2="58.27" stroke="#333" stroke-width="0.8"/>
<line x1="506.8" y1="52.81" x2="508.6" y2="52.81" stroke="#333" stroke-width="0.8"/>
<line x1="506.8" y1="48.94" x2="508.6" y2="48.94" stroke="#333" stroke-width="0.8"/>
<line x1="506.8" y1="45.93" x2="508.6" y2="45.93" stroke="#333" stroke-width="0.8"/>
<line x1="506.8" y1="43.48" x2="508.6" y2="43.48" stroke="#333" stroke-width="0.8"/>
<line x1="506.8" y1="41.4" x2="508.6" y2="41.4" stroke="#333" stroke-width="0.8"/>
<line x1="506.8" y1="39.6" x2="508.6" y2="39.6" stroke="#333" stroke-width="0.8"/>
<line x1="506.8" y1="38.02" x2="508.6" y2="38.02" stroke="#333" stroke-width="0.8"/>
<line x1="506.8" y1="27.27" x2="508.6" y2="27.27" stroke="#333" stroke-width="0.8"/>
<line x1="506.8" y1="21.81" x2="508.6" y2="21.81" stroke="#333" stroke-width="0.8"/>
<line x1="506.8" y1="17.94" x2="508.6" y2="17.94" stroke="#333" stroke-width="0.8"/>
<line x1="506.8" y1="14.93" x2="508.6" y2="14.93" stroke="#333" stroke-width="0.8"/>
<line x1="506.8" y1="12.48" x2="508.6" y2="12.48" stroke="#333" stroke-width="0.8"/>
<line x1="506.8" y1="10.4" x2="508.6" y2="10.4" stroke="#333" stroke-width="0.8"/>
<text x="594.1" y="197.2" font-size="11.7" text-anchor="middle" fill="#0a0a0a">Wavelength (nm)</text>
<text x="482.8" y="95" font-size="11.3" text-anchor="middle" fill="#0a0a0a" transform="rotate(-90 482.8 95)">Delay time (ps)</text>
<defs><linearGradient id="cbc" x1="0" y1="0" x2="0" y2="1">
<stop offset="0.000" stop-color="#ff1818"/>
<stop offset="0.120" stop-color="#f06030"/>
<stop offset="0.190" stop-color="#e8a840"/>
<stop offset="0.245" stop-color="#f0f040"/>
<stop offset="0.340" stop-color="#b0f030"/>
<stop offset="0.470" stop-color="#40f000"/>
<stop offset="0.600" stop-color="#70f090"/>
<stop offset="0.740" stop-color="#70ffff"/>
<stop offset="0.820" stop-color="#50c0ff"/>
<stop offset="0.890" stop-color="#3070ff"/>
<stop offset="1.000" stop-color="#1010e0"/>
</linearGradient></defs>
<rect x="524.3" y="29.7" width="14.3" height="58" stroke="#444" stroke-width="0.8" fill="url(#cbc)"/>
<line x1="538.6" y1="29.7" x2="541.6" y2="29.7" stroke="#444" stroke-width="0.8"/>
<line x1="538.6" y1="87.7" x2="541.6" y2="87.7" stroke="#444" stroke-width="0.8"/>
<text x="544.2" y="31.8" font-size="5.9" text-anchor="start" fill="#222">0.01000</text>
<text x="544.2" y="89.8" font-size="5.9" text-anchor="start" fill="#222">-0.009800</text>
<text x="524.8" y="23.9" font-size="9.2" text-anchor="start" fill="#222">&#916;A (OD)</text>
<text x="475.6" y="13.8" font-size="16.5" text-anchor="start" font-weight="bold" fill="#000">c</text>
<rect x="34.8" y="218.6" width="172.3" height="165" stroke="#454545" stroke-width="1" fill="none"/>
<line x1="45.4" y1="383.6" x2="45.4" y2="386.6" stroke="#454545" stroke-width="1"/>
<text x="45.4" y="398.8" font-size="12" text-anchor="middle" fill="#0a0a0a">0</text>
<line x1="99.6" y1="383.6" x2="99.6" y2="386.6" stroke="#454545" stroke-width="1"/>
<text x="99.6" y="398.8" font-size="12" text-anchor="middle" fill="#0a0a0a">500</text>
<line x1="153.8" y1="383.6" x2="153.8" y2="386.6" stroke="#454545" stroke-width="1"/>
<text x="153.8" y="398.8" font-size="12" text-anchor="middle" fill="#0a0a0a">1000</text>
<line x1="208" y1="383.6" x2="208" y2="386.6" stroke="#454545" stroke-width="1"/>
<text x="208" y="398.8" font-size="12" text-anchor="middle" fill="#0a0a0a">1500</text>
<line x1="72.5" y1="383.6" x2="72.5" y2="385.6" stroke="#454545" stroke-width="1"/>
<line x1="126.7" y1="383.6" x2="126.7" y2="385.6" stroke="#454545" stroke-width="1"/>
<line x1="180.9" y1="383.6" x2="180.9" y2="385.6" stroke="#454545" stroke-width="1"/>
<line x1="31.8" y1="218.6" x2="34.8" y2="218.6" stroke="#454545" stroke-width="1"/>
<text x="29.2" y="222.8" font-size="12" text-anchor="end" fill="#0a0a0a">20</text>
<line x1="31.8" y1="251.6" x2="34.8" y2="251.6" stroke="#454545" stroke-width="1"/>
<text x="29.2" y="255.8" font-size="12" text-anchor="end" fill="#0a0a0a">15</text>
<line x1="31.8" y1="284.6" x2="34.8" y2="284.6" stroke="#454545" stroke-width="1"/>
<text x="29.2" y="288.8" font-size="12" text-anchor="end" fill="#0a0a0a">10</text>
<line x1="31.8" y1="317.6" x2="34.8" y2="317.6" stroke="#454545" stroke-width="1"/>
<text x="29.2" y="321.8" font-size="12" text-anchor="end" fill="#0a0a0a">5</text>
<line x1="31.8" y1="350.6" x2="34.8" y2="350.6" stroke="#454545" stroke-width="1"/>
<text x="29.2" y="354.8" font-size="12" text-anchor="end" fill="#0a0a0a">0</text>
<line x1="31.8" y1="383.6" x2="34.8" y2="383.6" stroke="#454545" stroke-width="1"/>
<text x="29.2" y="387.8" font-size="12" text-anchor="end" fill="#0a0a0a">-5</text>
<line x1="32.8" y1="235.1" x2="34.8" y2="235.1" stroke="#454545" stroke-width="1"/>
<line x1="32.8" y1="268.1" x2="34.8" y2="268.1" stroke="#454545" stroke-width="1"/>
<line x1="32.8" y1="301.1" x2="34.8" y2="301.1" stroke="#454545" stroke-width="1"/>
<line x1="32.8" y1="334.1" x2="34.8" y2="334.1" stroke="#454545" stroke-width="1"/>
<line x1="32.8" y1="367.1" x2="34.8" y2="367.1" stroke="#454545" stroke-width="1"/>
<circle cx="45.4" cy="232.46" r="2.3" stroke="#4fd6c6" stroke-width="1.05" fill="none"/>
<circle cx="45.4" cy="234.44" r="2.3" stroke="#4fd6c6" stroke-width="1.05" fill="none"/>
<circle cx="45.4" cy="236.42" r="2.3" stroke="#4fd6c6" stroke-width="1.05" fill="none"/>
<circle cx="45.4" cy="238.4" r="2.3" stroke="#4fd6c6" stroke-width="1.05" fill="none"/>
<circle cx="45.4" cy="241.04" r="2.3" stroke="#4fd6c6" stroke-width="1.05" fill="none"/>
<circle cx="45.4" cy="243.68" r="2.3" stroke="#4fd6c6" stroke-width="1.05" fill="none"/>
<circle cx="45.4" cy="247.64" r="2.3" stroke="#4fd6c6" stroke-width="1.05" fill="none"/>
<circle cx="45.4" cy="256.22" r="2.3" stroke="#4fd6c6" stroke-width="1.05" fill="none"/>
<circle cx="45.4" cy="270.74" r="2.3" stroke="#4fd6c6" stroke-width="1.05" fill="none"/>
<circle cx="45.4" cy="281.96" r="2.3" stroke="#4fd6c6" stroke-width="1.05" fill="none"/>
<circle cx="45.4" cy="295.16" r="2.3" stroke="#4fd6c6" stroke-width="1.05" fill="none"/>
<circle cx="45.4" cy="315.62" r="2.3" stroke="#4fd6c6" stroke-width="1.05" fill="none"/>
<circle cx="45.4" cy="332.12" r="2.3" stroke="#4fd6c6" stroke-width="1.05" fill="none"/>
<circle cx="45.4" cy="341.36" r="2.3" stroke="#4fd6c6" stroke-width="1.05" fill="none"/>
<circle cx="45.4" cy="346.64" r="2.3" stroke="#4fd6c6" stroke-width="1.05" fill="none"/>
<circle cx="45.4" cy="349.28" r="2.3" stroke="#4fd6c6" stroke-width="1.05" fill="none"/>
<circle cx="45.4" cy="351.92" r="2.3" stroke="#4fd6c6" stroke-width="1.05" fill="none"/>
<circle cx="45.4" cy="353.9" r="2.3" stroke="#4fd6c6" stroke-width="1.05" fill="none"/>
<circle cx="45.4" cy="355.88" r="2.3" stroke="#4fd6c6" stroke-width="1.05" fill="none"/>
<circle cx="45.4" cy="357.86" r="2.3" stroke="#4fd6c6" stroke-width="1.05" fill="none"/>
<circle cx="45.4" cy="359.84" r="2.3" stroke="#4fd6c6" stroke-width="1.05" fill="none"/>
<circle cx="45.25" cy="242.9" r="2.3" stroke="#4fd6c6" stroke-width="1.05" fill="none"/>
<circle cx="45.57" cy="245.67" r="2.3" stroke="#4fd6c6" stroke-width="1.05" fill="none"/>
<circle cx="46.04" cy="254.51" r="2.3" stroke="#4fd6c6" stroke-width="1.05" fill="none"/>
<circle cx="45.47" cy="249.3" r="2.3" stroke="#4fd6c6" stroke-width="1.05" fill="none"/>
<circle cx="45.98" cy="259.29" r="2.3" stroke="#4fd6c6" stroke-width="1.05" fill="none"/>
<circle cx="47.08" cy="260.09" r="2.3" stroke="#4fd6c6" stroke-width="1.05" fill="none"/>
<circle cx="47.1" cy="263.04" r="2.3" stroke="#4fd6c6" stroke-width="1.05" fill="none"/>
<circle cx="47.08" cy="269.24" r="2.3" stroke="#4fd6c6" stroke-width="1.05" fill="none"/>
<circle cx="47.4" cy="265.39" r="2.3" stroke="#4fd6c6" stroke-width="1.05" fill="none"/>
<circle cx="47.6" cy="270" r="2.3" stroke="#4fd6c6" stroke-width="1.05" fill="none"/>
<circle cx="48.1" cy="280.06" r="2.3" stroke="#4fd6c6" stroke-width="1.05" fill="none"/>
<circle cx="48.53" cy="277.09" r="2.3" stroke="#4fd6c6" stroke-width="1.05" fill="none"/>
<circle cx="48.41" cy="286.04" r="2.3" stroke="#4fd6c6" stroke-width="1.05" fill="none"/>
<circle cx="49.52" cy="284.03" r="2.3" stroke="#4fd6c6" stroke-width="1.05" fill="none"/>
<circle cx="49.78" cy="282.07" r="2.3" stroke="#4fd6c6" stroke-width="1.05" fill="none"/>
<circle cx="50.21" cy="283.7" r="2.3" stroke="#4fd6c6" stroke-width="1.05" fill="none"/>
<circle cx="50.37" cy="287.28" r="2.3" stroke="#4fd6c6" stroke-width="1.05" fill="none"/>
<circle cx="50.97" cy="287.9" r="2.3" stroke="#4fd6c6" stroke-width="1.05" fill="none"/>
<circle cx="52.14" cy="298.94" r="2.3" stroke="#4fd6c6" stroke-width="1.05" fill="none"/>
<circle cx="51.9" cy="299.65" r="2.3" stroke="#4fd6c6" stroke-width="1.05" fill="none"/>
<circle cx="53.55" cy="299.13" r="2.3" stroke="#4fd6c6" stroke-width="1.05" fill="none"/>
<circle cx="53.9" cy="302.49" r="2.3" stroke="#4fd6c6" stroke-width="1.05" fill="none"/>
<circle cx="54.62" cy="303.62" r="2.3" stroke="#4fd6c6" stroke-width="1.05" fill="none"/>
<circle cx="55.3" cy="303.4" r="2.3" stroke="#4fd6c6" stroke-width="1.05" fill="none"/>
<circle cx="56.7" cy="304" r="2.3" stroke="#4fd6c6" stroke-width="1.05" fill="none"/>
<circle cx="56.1" cy="311" r="2.3" stroke="#4fd6c6" stroke-width="1.05" fill="none"/>
<circle cx="60.2" cy="316.9" r="2.3" stroke="#4fd6c6" stroke-width="1.05" fill="none"/>
<circle cx="59.6" cy="321" r="2.3" stroke="#4fd6c6" stroke-width="1.05" fill="none"/>
<circle cx="62.5" cy="321" r="2.3" stroke="#4fd6c6" stroke-width="1.05" fill="none"/>
<circle cx="65.4" cy="323.3" r="2.3" stroke="#4fd6c6" stroke-width="1.05" fill="none"/>
<circle cx="68.9" cy="322.7" r="2.3" stroke="#4fd6c6" stroke-width="1.05" fill="none"/>
<circle cx="71.3" cy="325" r="2.3" stroke="#4fd6c6" stroke-width="1.05" fill="none"/>
<circle cx="71.9" cy="328.5" r="2.3" stroke="#4fd6c6" stroke-width="1.05" fill="none"/>
<circle cx="75.9" cy="329.7" r="2.3" stroke="#4fd6c6" stroke-width="1.05" fill="none"/>
<circle cx="79.5" cy="328.5" r="2.3" stroke="#4fd6c6" stroke-width="1.05" fill="none"/>
<circle cx="83.5" cy="330.3" r="2.3" stroke="#4fd6c6" stroke-width="1.05" fill="none"/>
<circle cx="87.6" cy="335" r="2.3" stroke="#4fd6c6" stroke-width="1.05" fill="none"/>
<circle cx="92.3" cy="338.5" r="2.3" stroke="#4fd6c6" stroke-width="1.05" fill="none"/>
<circle cx="98.1" cy="335.5" r="2.3" stroke="#4fd6c6" stroke-width="1.05" fill="none"/>
<circle cx="103.4" cy="339.6" r="2.3" stroke="#4fd6c6" stroke-width="1.05" fill="none"/>
<circle cx="108.7" cy="335" r="2.3" stroke="#4fd6c6" stroke-width="1.05" fill="none"/>
<circle cx="113.9" cy="340.8" r="2.3" stroke="#4fd6c6" stroke-width="1.05" fill="none"/>
<circle cx="119.9" cy="338.7" r="2.3" stroke="#4fd6c6" stroke-width="1.05" fill="none"/>
<circle cx="125" cy="340.1" r="2.3" stroke="#4fd6c6" stroke-width="1.05" fill="none"/>
<circle cx="130.3" cy="337.8" r="2.3" stroke="#4fd6c6" stroke-width="1.05" fill="none"/>
<circle cx="135.8" cy="341.5" r="2.3" stroke="#4fd6c6" stroke-width="1.05" fill="none"/>
<circle cx="141.1" cy="338.7" r="2.3" stroke="#4fd6c6" stroke-width="1.05" fill="none"/>
<circle cx="157.3" cy="339.7" r="2.3" stroke="#4fd6c6" stroke-width="1.05" fill="none"/>
<circle cx="173.5" cy="341.1" r="2.3" stroke="#4fd6c6" stroke-width="1.05" fill="none"/>
<circle cx="189.6" cy="339.7" r="2.3" stroke="#4fd6c6" stroke-width="1.05" fill="none"/>
<circle cx="205.8" cy="346.4" r="2.3" stroke="#4fd6c6" stroke-width="1.05" fill="none"/>
<path d="M45.4,344 L45.4,239.72 L45.4,239.72 L45.62,244.53 L45.83,248.89 L46.05,252.86 L46.27,256.48 L46.48,259.78 L46.7,262.79 L46.92,265.55 L47.13,268.08 L47.35,270.41 L47.57,272.55 L47.78,274.53 L48,276.35 L48.22,278.05 L48.44,279.62 L48.65,281.09 L48.87,282.46 L49.09,283.74 L49.3,284.94 L49.52,286.07 L49.74,287.14 L49.95,288.15 L50.17,289.11 L50.39,290.02 L50.6,290.88 L50.82,291.71 L51.04,292.5 L51.25,293.26 L51.47,293.99 L51.69,294.69 L51.9,295.37 L52.12,296.03 L52.34,296.66 L52.55,297.28 L52.77,297.88 L52.99,298.46 L53.2,299.03 L53.42,299.58 L53.64,300.12 L53.86,300.65 L54.07,301.17 L54.29,301.68 L54.51,302.17 L54.72,302.66 L54.94,303.14 L55.16,303.61 L55.37,304.07 L55.59,304.53 L55.81,304.97 L56.02,305.41 L56.24,305.85 L57.32,307.93 L58.41,309.88 L59.49,311.71 L60.58,313.43 L61.66,315.06 L62.74,316.6 L63.83,318.06 L64.91,319.44 L66,320.74 L67.08,321.98 L68.16,323.15 L69.25,324.26 L70.33,325.31 L71.42,326.3 L72.5,327.24 L73.58,328.13 L74.67,328.97 L75.75,329.77 L76.84,330.53 L77.92,331.24 L79,331.92 L80.09,332.56 L81.17,333.17 L82.26,333.75 L83.34,334.29 L84.42,334.81 L85.51,335.29 L86.59,335.76 L87.68,336.19 L88.76,336.61 L89.84,337 L90.93,337.37 L92.01,337.73 L93.1,338.06 L94.18,338.37 L95.26,338.67 L96.35,338.96 L97.43,339.22 L98.52,339.48 L99.6,339.72 L100.68,339.95 L101.77,340.16 L102.85,340.36 L103.94,340.56 L105.02,340.74 L106.1,340.91 L107.19,341.08 L108.27,341.23 L109.36,341.38 L110.44,341.52 L111.52,341.65 L112.61,341.78 L113.69,341.89 L114.78,342.01 L115.86,342.11 L116.94,342.21 L118.03,342.31 L119.11,342.4 L120.2,342.48 L121.28,342.56 L122.36,342.64 L123.45,342.71 L124.53,342.78 L125.62,342.84 L126.7,342.91 L127.78,342.96 L128.87,343.02 L129.95,343.07 L131.04,343.12 L132.12,343.17 L133.2,343.21 L134.29,343.25 L135.37,343.29 L136.46,343.33 L137.54,343.37 L138.62,343.4 L139.71,343.43 L140.79,343.46 L141.88,343.49 L142.96,343.52 L144.04,343.54 L145.13,343.57 L146.21,343.59 L147.3,343.61 L148.38,343.63 L149.46,343.65 L150.55,343.67 L151.63,343.69 L152.72,343.7 L153.8,343.72 L154.88,343.74 L155.97,343.75 L157.05,343.76 L158.14,343.78 L159.22,343.79 L160.3,343.8 L161.39,343.81 L162.47,343.82 L163.56,343.83 L164.64,343.84 L165.72,343.85 L166.81,343.85 L167.89,343.86 L168.98,343.87 L170.06,343.88 L171.14,343.88 L172.23,343.89 L173.31,343.9 L174.4,343.9 L175.48,343.91 L176.56,343.91 L177.65,343.92 L178.73,343.92 L179.82,343.92 L180.9,343.93 L181.98,343.93 L183.07,343.94 L184.15,343.94 L185.24,343.94 L186.32,343.95 L187.4,343.95 L188.49,343.95 L189.57,343.95 L190.66,343.96 L191.74,343.96 L192.82,343.96 L193.91,343.96 L194.99,343.96 L196.08,343.97 L197.16,343.97 L198.24,343.97 L199.33,343.97 L200.41,343.97 L201.5,343.97 L202.58,343.98 L203.66,343.98 L204.75,343.98 L205.83,343.98 L206.92,343.98 L208,343.98" stroke="#6b6b6b" stroke-width="1.2" fill="none"/>
<text x="121" y="411.9" font-size="12.5" text-anchor="middle" fill="#0a0a0a">Probe delay (ps)</text>
<text x="12.9" y="301.2" font-size="12.4" text-anchor="middle" fill="#0a0a0a" transform="rotate(-90 12.9 301.2)">Normalized &#916;A (mOD)</text>
<text x="3.2" y="221.2" font-size="16.5" text-anchor="start" font-weight="bold" fill="#000">d</text>
<circle cx="158.2" cy="240.5" r="2.2" stroke="#4fd6c6" stroke-width="1.0" fill="none"/>
<line x1="148.2" y1="256.1" x2="168" y2="256.1" stroke="#6b6b6b" stroke-width="1.3"/>
<text x="171.4" y="243.7" font-size="12.3" text-anchor="start" fill="#0a0a0a">data</text>
<text x="171.6" y="259.1" font-size="12.3" text-anchor="start" fill="#0a0a0a">fits</text>
<text x="75.8" y="291" font-size="12.4" fill="#0a0a0a">t<tspan font-size="8.3" dy="3">1</tspan><tspan dy="-3"> = 17.87 ps</tspan></text>
<text x="75.8" y="310.7" font-size="12.4" fill="#0a0a0a">t<tspan font-size="8.3" dy="3">2</tspan><tspan dy="-3"> = 183.2 ps</tspan></text>
<rect x="270.2" y="218.6" width="172.8" height="165.4" stroke="#454545" stroke-width="1" fill="none"/>
<line x1="281.3" y1="384" x2="281.3" y2="387" stroke="#454545" stroke-width="1"/>
<text x="281.3" y="398.8" font-size="12" text-anchor="middle" fill="#0a0a0a">0</text>
<line x1="334.9" y1="384" x2="334.9" y2="387" stroke="#454545" stroke-width="1"/>
<text x="334.9" y="398.8" font-size="12" text-anchor="middle" fill="#0a0a0a">500</text>
<line x1="388.5" y1="384" x2="388.5" y2="387" stroke="#454545" stroke-width="1"/>
<text x="388.5" y="398.8" font-size="12" text-anchor="middle" fill="#0a0a0a">1000</text>
<line x1="442.1" y1="384" x2="442.1" y2="387" stroke="#454545" stroke-width="1"/>
<text x="442.1" y="398.8" font-size="12" text-anchor="middle" fill="#0a0a0a">1500</text>
<line x1="308.1" y1="384" x2="308.1" y2="386" stroke="#454545" stroke-width="1"/>
<line x1="361.7" y1="384" x2="361.7" y2="386" stroke="#454545" stroke-width="1"/>
<line x1="415.3" y1="384" x2="415.3" y2="386" stroke="#454545" stroke-width="1"/>
<line x1="267.2" y1="218.4" x2="270.2" y2="218.4" stroke="#454545" stroke-width="1"/>
<text x="265.2" y="222.6" font-size="12" text-anchor="end" fill="#0a0a0a">10</text>
<line x1="267.2" y1="284.65" x2="270.2" y2="284.65" stroke="#454545" stroke-width="1"/>
<text x="265.2" y="288.85" font-size="12" text-anchor="end" fill="#0a0a0a">5</text>
<line x1="267.2" y1="350.9" x2="270.2" y2="350.9" stroke="#454545" stroke-width="1"/>
<text x="265.2" y="355.1" font-size="12" text-anchor="end" fill="#0a0a0a">0</text>
<line x1="268.2" y1="251.52" x2="270.2" y2="251.52" stroke="#454545" stroke-width="1"/>
<line x1="268.2" y1="317.77" x2="270.2" y2="317.77" stroke="#454545" stroke-width="1"/>
<line x1="268.2" y1="384.02" x2="270.2" y2="384.02" stroke="#454545" stroke-width="1"/>
<circle cx="281.2" cy="236.95" r="2.3" stroke="#e5823c" stroke-width="1.05" fill="none"/>
<circle cx="281.2" cy="239.6" r="2.3" stroke="#e5823c" stroke-width="1.05" fill="none"/>
<circle cx="281.2" cy="242.25" r="2.3" stroke="#e5823c" stroke-width="1.05" fill="none"/>
<circle cx="281.2" cy="244.9" r="2.3" stroke="#e5823c" stroke-width="1.05" fill="none"/>
<circle cx="281.2" cy="247.55" r="2.3" stroke="#e5823c" stroke-width="1.05" fill="none"/>
<circle cx="281.2" cy="251.52" r="2.3" stroke="#e5823c" stroke-width="1.05" fill="none"/>
<circle cx="281.2" cy="255.5" r="2.3" stroke="#e5823c" stroke-width="1.05" fill="none"/>
<circle cx="281.2" cy="259.47" r="2.3" stroke="#e5823c" stroke-width="1.05" fill="none"/>
<circle cx="281.2" cy="263.45" r="2.3" stroke="#e5823c" stroke-width="1.05" fill="none"/>
<circle cx="281.2" cy="267.42" r="2.3" stroke="#e5823c" stroke-width="1.05" fill="none"/>
<circle cx="281.2" cy="285.97" r="2.3" stroke="#e5823c" stroke-width="1.05" fill="none"/>
<circle cx="281.2" cy="303.2" r="2.3" stroke="#e5823c" stroke-width="1.05" fill="none"/>
<circle cx="281.2" cy="315.12" r="2.3" stroke="#e5823c" stroke-width="1.05" fill="none"/>
<circle cx="281.2" cy="327.05" r="2.3" stroke="#e5823c" stroke-width="1.05" fill="none"/>
<circle cx="281.2" cy="341.62" r="2.3" stroke="#e5823c" stroke-width="1.05" fill="none"/>
<circle cx="281.2" cy="344.27" r="2.3" stroke="#e5823c" stroke-width="1.05" fill="none"/>
<circle cx="281.2" cy="346.92" r="2.3" stroke="#e5823c" stroke-width="1.05" fill="none"/>
<circle cx="281.2" cy="349.57" r="2.3" stroke="#e5823c" stroke-width="1.05" fill="none"/>
<circle cx="281.2" cy="352.22" r="2.3" stroke="#e5823c" stroke-width="1.05" fill="none"/>
<circle cx="281.2" cy="354.88" r="2.3" stroke="#e5823c" stroke-width="1.05" fill="none"/>
<circle cx="281.2" cy="357.52" r="2.3" stroke="#e5823c" stroke-width="1.05" fill="none"/>
<circle cx="281.2" cy="358.85" r="2.3" stroke="#e5823c" stroke-width="1.05" fill="none"/>
<circle cx="281.62" cy="254.78" r="2.3" stroke="#e5823c" stroke-width="1.05" fill="none"/>
<circle cx="282.05" cy="261.89" r="2.3" stroke="#e5823c" stroke-width="1.05" fill="none"/>
<circle cx="282.48" cy="268.55" r="2.3" stroke="#e5823c" stroke-width="1.05" fill="none"/>
<circle cx="282.91" cy="272.85" r="2.3" stroke="#e5823c" stroke-width="1.05" fill="none"/>
<circle cx="283.34" cy="280.86" r="2.3" stroke="#e5823c" stroke-width="1.05" fill="none"/>
<circle cx="283.77" cy="282.98" r="2.3" stroke="#e5823c" stroke-width="1.05" fill="none"/>
<circle cx="284.19" cy="298.7" r="2.3" stroke="#e5823c" stroke-width="1.05" fill="none"/>
<circle cx="284.62" cy="296.23" r="2.3" stroke="#e5823c" stroke-width="1.05" fill="none"/>
<circle cx="285.05" cy="292.75" r="2.3" stroke="#e5823c" stroke-width="1.05" fill="none"/>
<circle cx="285.48" cy="299.1" r="2.3" stroke="#e5823c" stroke-width="1.05" fill="none"/>
<circle cx="285.91" cy="297.89" r="2.3" stroke="#e5823c" stroke-width="1.05" fill="none"/>
<circle cx="286.34" cy="310.17" r="2.3" stroke="#e5823c" stroke-width="1.05" fill="none"/>
<circle cx="286.77" cy="307.06" r="2.3" stroke="#e5823c" stroke-width="1.05" fill="none"/>
<circle cx="287.2" cy="311.41" r="2.3" stroke="#e5823c" stroke-width="1.05" fill="none"/>
<circle cx="287.62" cy="308.71" r="2.3" stroke="#e5823c" stroke-width="1.05" fill="none"/>
<circle cx="283.8" cy="268" r="2.3" stroke="#e5823c" stroke-width="1.05" fill="none"/>
<circle cx="284.9" cy="277.7" r="2.3" stroke="#e5823c" stroke-width="1.05" fill="none"/>
<circle cx="286" cy="285.3" r="2.3" stroke="#e5823c" stroke-width="1.05" fill="none"/>
<circle cx="284.9" cy="296" r="2.3" stroke="#e5823c" stroke-width="1.05" fill="none"/>
<circle cx="288.1" cy="291.7" r="2.3" stroke="#e5823c" stroke-width="1.05" fill="none"/>
<circle cx="289.2" cy="301.4" r="2.3" stroke="#e5823c" stroke-width="1.05" fill="none"/>
<circle cx="286.7" cy="307" r="2.3" stroke="#e5823c" stroke-width="1.05" fill="none"/>
<circle cx="289.6" cy="306.4" r="2.3" stroke="#e5823c" stroke-width="1.05" fill="none"/>
<circle cx="287.3" cy="315.2" r="2.3" stroke="#e5823c" stroke-width="1.05" fill="none"/>
<circle cx="291.3" cy="317.5" r="2.3" stroke="#e5823c" stroke-width="1.05" fill="none"/>
<circle cx="295.4" cy="312.3" r="2.3" stroke="#e5823c" stroke-width="1.05" fill="none"/>
<circle cx="298.4" cy="318.1" r="2.3" stroke="#e5823c" stroke-width="1.05" fill="none"/>
<circle cx="294.3" cy="321" r="2.3" stroke="#e5823c" stroke-width="1.05" fill="none"/>
<circle cx="301.9" cy="320.4" r="2.3" stroke="#e5823c" stroke-width="1.05" fill="none"/>
<circle cx="297.2" cy="326.3" r="2.3" stroke="#e5823c" stroke-width="1.05" fill="none"/>
<circle cx="296" cy="329.8" r="2.3" stroke="#e5823c" stroke-width="1.05" fill="none"/>
<circle cx="300.1" cy="331" r="2.3" stroke="#e5823c" stroke-width="1.05" fill="none"/>
<circle cx="304.8" cy="325.1" r="2.3" stroke="#e5823c" stroke-width="1.05" fill="none"/>
<circle cx="310" cy="319.3" r="2.3" stroke="#e5823c" stroke-width="1.05" fill="none"/>
<circle cx="308.3" cy="331" r="2.3" stroke="#e5823c" stroke-width="1.05" fill="none"/>
<circle cx="312.4" cy="333.9" r="2.3" stroke="#e5823c" stroke-width="1.05" fill="none"/>
<circle cx="314.7" cy="326.3" r="2.3" stroke="#e5823c" stroke-width="1.05" fill="none"/>
<circle cx="319.4" cy="329.2" r="2.3" stroke="#e5823c" stroke-width="1.05" fill="none"/>
<circle cx="316.5" cy="332.7" r="2.3" stroke="#e5823c" stroke-width="1.05" fill="none"/>
<circle cx="323.5" cy="333.3" r="2.3" stroke="#e5823c" stroke-width="1.05" fill="none"/>
<circle cx="320.5" cy="337.4" r="2.3" stroke="#e5823c" stroke-width="1.05" fill="none"/>
<circle cx="328.7" cy="342" r="2.3" stroke="#e5823c" stroke-width="1.05" fill="none"/>
<circle cx="334" cy="339.1" r="2.3" stroke="#e5823c" stroke-width="1.05" fill="none"/>
<circle cx="339.2" cy="335" r="2.3" stroke="#e5823c" stroke-width="1.05" fill="none"/>
<circle cx="344.5" cy="340.3" r="2.3" stroke="#e5823c" stroke-width="1.05" fill="none"/>
<circle cx="349.7" cy="341.5" r="2.3" stroke="#e5823c" stroke-width="1.05" fill="none"/>
<circle cx="355" cy="340.3" r="2.3" stroke="#e5823c" stroke-width="1.05" fill="none"/>
<circle cx="360.2" cy="331.5" r="2.3" stroke="#e5823c" stroke-width="1.05" fill="none"/>
<circle cx="366" cy="337.4" r="2.3" stroke="#e5823c" stroke-width="1.05" fill="none"/>
<circle cx="372.3" cy="337.4" r="2.3" stroke="#e5823c" stroke-width="1.05" fill="none"/>
<circle cx="376.5" cy="343.8" r="2.3" stroke="#e5823c" stroke-width="1.05" fill="none"/>
<circle cx="393.3" cy="347.3" r="2.3" stroke="#e5823c" stroke-width="1.05" fill="none"/>
<circle cx="409.1" cy="351.5" r="2.3" stroke="#e5823c" stroke-width="1.05" fill="none"/>
<circle cx="425.6" cy="354.3" r="2.3" stroke="#e5823c" stroke-width="1.05" fill="none"/>
<circle cx="441.7" cy="356" r="2.3" stroke="#e5823c" stroke-width="1.05" fill="none"/>
<path d="M281.3,350.9 L281.3,248.88 L281.3,248.88 L281.51,254 L281.73,258.71 L281.94,263.05 L282.16,267.05 L282.37,270.73 L282.59,274.12 L282.8,277.25 L283.02,280.13 L283.23,282.79 L283.44,285.24 L283.66,287.51 L283.87,289.61 L284.09,291.54 L284.3,293.33 L284.52,294.99 L284.73,296.53 L284.94,297.95 L285.16,299.27 L285.37,300.5 L285.59,301.64 L285.8,302.7 L286.02,303.68 L286.23,304.6 L286.45,305.46 L286.66,306.26 L286.87,307.01 L287.09,307.72 L287.3,308.37 L287.52,308.99 L287.73,309.57 L287.95,310.12 L288.16,310.64 L288.38,311.12 L288.59,311.58 L288.8,312.02 L289.02,312.44 L289.23,312.83 L289.45,313.2 L289.66,313.56 L289.88,313.9 L290.09,314.23 L290.3,314.54 L290.52,314.84 L290.73,315.13 L290.95,315.41 L291.16,315.68 L291.38,315.93 L291.59,316.18 L291.81,316.43 L292.02,316.66 L293.09,317.75 L294.16,318.72 L295.24,319.61 L296.31,320.44 L297.38,321.22 L298.45,321.97 L299.52,322.69 L300.6,323.38 L301.67,324.06 L302.74,324.71 L303.81,325.35 L304.88,325.97 L305.96,326.57 L307.03,327.16 L308.1,327.73 L309.17,328.29 L310.24,328.83 L311.32,329.37 L312.39,329.88 L313.46,330.39 L314.53,330.88 L315.6,331.36 L316.68,331.83 L317.75,332.29 L318.82,332.73 L319.89,333.17 L320.96,333.59 L322.04,334.01 L323.11,334.41 L324.18,334.81 L325.25,335.19 L326.32,335.56 L327.4,335.93 L328.47,336.28 L329.54,336.63 L330.61,336.97 L331.68,337.3 L332.76,337.62 L333.83,337.94 L334.9,338.25 L335.97,338.54 L337.04,338.84 L338.12,339.12 L339.19,339.4 L340.26,339.67 L341.33,339.93 L342.4,340.19 L343.48,340.44 L344.55,340.69 L345.62,340.92 L346.69,341.16 L347.76,341.38 L348.84,341.61 L349.91,341.82 L350.98,342.03 L352.05,342.24 L353.12,342.44 L354.2,342.64 L355.27,342.83 L356.34,343.01 L357.41,343.19 L358.48,343.37 L359.56,343.54 L360.63,343.71 L361.7,343.88 L362.77,344.04 L363.84,344.19 L364.92,344.34 L365.99,344.49 L367.06,344.64 L368.13,344.78 L369.2,344.92 L370.28,345.05 L371.35,345.18 L372.42,345.31 L373.49,345.44 L374.56,345.56 L375.64,345.68 L376.71,345.79 L377.78,345.91 L378.85,346.02 L379.92,346.12 L381,346.23 L382.07,346.33 L383.14,346.43 L384.21,346.53 L385.28,346.62 L386.36,346.71 L387.43,346.8 L388.5,346.89 L389.57,346.98 L390.64,347.06 L391.72,347.14 L392.79,347.22 L393.86,347.3 L394.93,347.38 L396,347.45 L397.08,347.52 L398.15,347.59 L399.22,347.66 L400.29,347.73 L401.36,347.79 L402.44,347.86 L403.51,347.92 L404.58,347.98 L405.65,348.04 L406.72,348.1 L407.8,348.15 L408.87,348.21 L409.94,348.26 L411.01,348.31 L412.08,348.36 L413.16,348.41 L414.23,348.46 L415.3,348.51 L416.37,348.55 L417.44,348.6 L418.52,348.64 L419.59,348.68 L420.66,348.73 L421.73,348.77 L422.8,348.81 L423.88,348.84 L424.95,348.88 L426.02,348.92 L427.09,348.95 L428.16,348.99 L429.24,349.02 L430.31,349.06 L431.38,349.09 L432.45,349.12 L433.52,349.15 L434.6,349.18 L435.67,349.21 L436.74,349.24 L437.81,349.27 L438.88,349.29 L439.96,349.32 L441.03,349.35 L442.1,349.37" stroke="#6b6b6b" stroke-width="1.2" fill="none"/>
<text x="356.6" y="411.9" font-size="12.5" text-anchor="middle" fill="#0a0a0a">Probe delay (ps)</text>
<text x="249.5" y="301.2" font-size="12.4" text-anchor="middle" fill="#0a0a0a" transform="rotate(-90 249.5 301.2)">Normalized &#916;A (mOD)</text>
<text x="239.2" y="221.2" font-size="16.5" text-anchor="start" font-weight="bold" fill="#000">e</text>
<circle cx="394.4" cy="240" r="2.2" stroke="#e5823c" stroke-width="1.0" fill="none"/>
<line x1="384.6" y1="255.4" x2="404.3" y2="255.4" stroke="#6b6b6b" stroke-width="1.3"/>
<text x="407.6" y="242.7" font-size="12.3" text-anchor="start" fill="#0a0a0a">data</text>
<text x="407.8" y="257.8" font-size="12.3" text-anchor="start" fill="#0a0a0a">fits</text>
<text x="309.2" y="287.3" font-size="12.4" fill="#0a0a0a">t<tspan font-size="8.3" dy="3">1</tspan><tspan dy="-3"> = 23.10 ps</tspan></text>
<text x="309.2" y="306.5" font-size="12.4" fill="#0a0a0a">t<tspan font-size="8.3" dy="3">2</tspan><tspan dy="-3"> = 400.4 ps</tspan></text>
<rect x="507.6" y="218.9" width="172.4" height="165.3" stroke="#454545" stroke-width="1" fill="none"/>
<line x1="529.24" y1="384.2" x2="529.24" y2="387.2" stroke="#454545" stroke-width="1"/>
<text x="529.24" y="399.3" font-size="12" text-anchor="middle" fill="#0a0a0a">960</text>
<line x1="572.31" y1="384.2" x2="572.31" y2="387.2" stroke="#454545" stroke-width="1"/>
<text x="572.31" y="399.3" font-size="12" text-anchor="middle" fill="#0a0a0a">950</text>
<line x1="615.39" y1="384.2" x2="615.39" y2="387.2" stroke="#454545" stroke-width="1"/>
<text x="615.39" y="399.3" font-size="12" text-anchor="middle" fill="#0a0a0a">940</text>
<line x1="658.46" y1="384.2" x2="658.46" y2="387.2" stroke="#454545" stroke-width="1"/>
<text x="658.46" y="399.3" font-size="12" text-anchor="middle" fill="#0a0a0a">930</text>
<line x1="550.77" y1="384.2" x2="550.77" y2="386.2" stroke="#454545" stroke-width="1"/>
<line x1="593.85" y1="384.2" x2="593.85" y2="386.2" stroke="#454545" stroke-width="1"/>
<line x1="636.92" y1="384.2" x2="636.92" y2="386.2" stroke="#454545" stroke-width="1"/>
<line x1="680" y1="384.2" x2="680" y2="386.2" stroke="#454545" stroke-width="1"/>
<path d="M507.7,335.21 L508.7,339.4 L509.7,325.06 L510.7,326.24 L511.7,325.72 L512.7,350.58 L513.7,351.22 L514.7,353.19 L515.7,347.16 L516.7,346.89 L517.7,338.7 L518.7,352.91 L519.7,340.22 L520.7,341.97 L521.7,344.67 L522.7,344.84 L523.7,353.71 L524.7,350.16 L525.7,351.28 L526.7,352.73 L527.7,360.69 L528.7,352.5 L529.7,353.43 L530.7,355.06 L531.7,344.73 L532.7,349.76 L533.7,355.92 L534.7,358.82 L535.7,352.21 L536.7,347.1 L537.7,355.32 L538.7,346.62 L539.7,345.56 L540.7,345.38 L541.7,343.05 L542.7,340.21 L543.7,343.41 L544.7,334.98 L545.7,336.68 L546.7,336.14 L547.7,332.61 L548.7,336.28 L549.7,335.77 L550.7,333.83 L551.7,331.01 L552.7,333.14 L553.7,337.04 L554.7,329.09 L555.7,306.38 L556.7,321.07 L557.7,304.6 L558.7,300.17 L559.7,304.87 L560.7,299.34 L561.7,316.14 L562.7,315.36 L563.7,313.11 L564.7,317.65 L565.7,336.88 L566.7,347.62 L567.7,347.38 L568.7,359.23 L569.7,354.98 L570.7,355.26 L571.7,350.5 L572.7,353.51 L573.7,350.14 L574.7,344.29 L575.7,364.83 L576.7,353.94 L577.7,354.41 L578.7,360.25 L579.7,354.62 L580.7,354.51 L581.7,354.66 L582.7,348.16 L583.7,360.6 L584.7,355.53 L585.7,350.53 L586.7,357.63 L587.7,354.62 L588.7,347.9 L589.7,352.72 L590.7,352.77 L591.7,354.39 L592.7,354.95 L593.7,355.41 L594.7,346.13 L595.7,350.55 L596.7,347.27 L597.7,352.9 L598.7,343.42 L599.7,338.68 L600.7,349.35 L601.7,365.39 L602.7,359.12 L603.7,354.01 L604.7,364.22 L605.7,351.43 L606.7,350.28 L607.7,355.36 L608.7,352.79 L609.7,350.04 L610.7,347.84 L611.7,350.37 L612.7,354.93 L613.7,343.4 L614.7,346.48 L615.7,358.23 L616.7,362.76 L617.7,341.49 L618.7,351.13 L619.7,357.69 L620.7,348.14 L621.7,345.98 L622.7,354.02 L623.7,344.88 L624.7,341.61 L625.7,340.48 L626.7,334.27 L627.7,329.45 L628.7,345.58 L629.7,346.82 L630.7,336.08 L631.7,330.31 L632.7,328.98 L633.7,319.86 L634.7,306.49 L635.7,304.51 L636.7,308.14 L637.7,298.79 L638.7,286.16 L639.7,281.65 L640.7,286.87 L641.7,271.52 L642.7,278.3 L643.7,270.27 L644.7,259.77 L645.7,261.31 L646.7,266.56 L647.7,272.37 L648.7,277.21 L649.7,294.19 L650.7,305.36 L651.7,311.58 L652.7,323.14 L653.7,329.68 L654.7,341.65 L655.7,348.44 L656.7,340.36 L657.7,354.5 L658.7,358.01 L659.7,358.94 L660.7,354.75 L661.7,358.18 L662.7,358.5 L663.7,360.91 L664.7,350.5 L665.7,360.84 L666.7,365.32 L667.7,358.27 L668.7,357.86 L669.7,367.75 L670.7,377.39 L671.7,367.55 L672.7,365.77 L673.7,362.77 L674.7,365.86 L675.7,364.13 L676.7,356.49 L677.7,362.57 L678.7,365 L679.7,356.88" stroke="#c6b297" stroke-width="1.1" fill="none"/>
<path d="M507.7,295.67 L508.7,285.45 L509.7,288.01 L510.7,290.65 L511.7,285.35 L512.7,289.89 L513.7,289.83 L514.7,282.15 L515.7,297.64 L516.7,296.98 L517.7,290.41 L518.7,293.69 L519.7,298.62 L520.7,295.73 L521.7,295.52 L522.7,290.99 L523.7,302.82 L524.7,303.01 L525.7,303.15 L526.7,295.74 L527.7,312.93 L528.7,306.81 L529.7,305.08 L530.7,317.24 L531.7,305.03 L532.7,295.27 L533.7,298.36 L534.7,289.78 L535.7,306.42 L536.7,298.71 L537.7,295.55 L538.7,302.55 L539.7,287.88 L540.7,295.41 L541.7,281.17 L542.7,285.65 L543.7,283.57 L544.7,297.31 L545.7,297.64 L546.7,284.43 L547.7,287.17 L548.7,281 L549.7,282.3 L550.7,272.91 L551.7,264.8 L552.7,263.75 L553.7,277.32 L554.7,288.12 L555.7,276.79 L556.7,272.03 L557.7,284.24 L558.7,277.16 L559.7,277.02 L560.7,279.33 L561.7,278.83 L562.7,278.47 L563.7,274.34 L564.7,285.54 L565.7,285.39 L566.7,292.43 L567.7,285.53 L568.7,279.8 L569.7,293.9 L570.7,307.55 L571.7,299.37 L572.7,297.52 L573.7,298.26 L574.7,302.25 L575.7,308.96 L576.7,309.09 L577.7,325.79 L578.7,317.51 L579.7,319.5 L580.7,327.72 L581.7,327.82 L582.7,317.4 L583.7,318.65 L584.7,319.76 L585.7,312.38 L586.7,303.11 L587.7,315.53 L588.7,316.97 L589.7,311.72 L590.7,302.37 L591.7,303.8 L592.7,300.61 L593.7,300.88 L594.7,308.06 L595.7,307.32 L596.7,295.44 L597.7,288.98 L598.7,297.81 L599.7,297.31 L600.7,297.31 L601.7,295.51 L602.7,301.4 L603.7,315.35 L604.7,308.73 L605.7,301.23 L606.7,300.07 L607.7,299.64 L608.7,307.91 L609.7,308.77 L610.7,300.54 L611.7,311.03 L612.7,308.32 L613.7,318.83 L614.7,314.34 L615.7,321.44 L616.7,310.22 L617.7,310.18 L618.7,314.35 L619.7,318.9 L620.7,315.22 L621.7,305.24 L622.7,310.79 L623.7,308.55 L624.7,303.59 L625.7,301.74 L626.7,312.19 L627.7,297.83 L628.7,291.05 L629.7,295.53 L630.7,289.87 L631.7,285.31 L632.7,285.79 L633.7,280.09 L634.7,275.07 L635.7,273.54 L636.7,265.49 L637.7,256.34 L638.7,253.56 L639.7,249.85 L640.7,250.76 L641.7,241.25 L642.7,235.38 L643.7,243.29 L644.7,235 L645.7,232.76 L646.7,246.02 L647.7,246.63 L648.7,258.22 L649.7,258.59 L650.7,263.5 L651.7,273.55 L652.7,288.62 L653.7,298.52 L654.7,303.18 L655.7,312.39 L656.7,309.75 L657.7,318.17 L658.7,311.29 L659.7,321.59 L660.7,328.67 L661.7,331.94 L662.7,333.32 L663.7,315.92 L664.7,327.37 L665.7,331.57 L666.7,329.61 L667.7,319.57 L668.7,327.63 L669.7,335.17 L670.7,318.27 L671.7,328.4 L672.7,332.78 L673.7,323.98 L674.7,329.5 L675.7,321.33 L676.7,322.14 L677.7,323.55 L678.7,329.82 L679.7,329.45" stroke="#3b8a96" stroke-width="1.1" fill="none"/>
<rect x="507.6" y="218.9" width="172.4" height="165.3" stroke="#454545" stroke-width="1" fill="none"/>
<text x="593.8" y="410.7" font-size="12.4" text-anchor="middle" fill="#0a0a0a">Binding energy (eV)</text>
<text x="495.6" y="297.3" font-size="12.4" text-anchor="middle" fill="#0a0a0a" transform="rotate(-90 495.6 297.3)">Intensity (a.u.)</text>
<text x="485.6" y="221.2" font-size="16.5" text-anchor="start" font-weight="bold" fill="#000">f</text>
<line x1="512.1" y1="228" x2="531.8" y2="228" stroke="#3b8a96" stroke-width="1.2"/>
<line x1="512.1" y1="243.4" x2="531.8" y2="243.4" stroke="#c6b297" stroke-width="1.2"/>
<text x="535.5" y="231.2" font-size="12.3" text-anchor="start" fill="#0a0a0a">dark</text>
<text x="535.5" y="246.1" font-size="12.3" text-anchor="start" fill="#0a0a0a">light</text>
<text x="570.8" y="244.3" font-size="11" fill="#0a0a0a">Cu<tspan font-size="7.5" dy="-4.6">2+</tspan></text>
<text x="570.8" y="257.1" font-size="11" text-anchor="start" fill="#0a0a0a">satellite peak</text>
<line x1="592.5" y1="261.2" x2="598.6" y2="276.5" stroke="#111" stroke-width="1"/>
<path d="M596.2,276.2 L599.9,279.8 L600.4,274.6 Z" stroke="#111" stroke-width="0.6" fill="#111"/>
<rect x="34" y="428.2" width="172.6" height="164.9" stroke="#454545" stroke-width="1" fill="none"/>
<line x1="73.8" y1="593.1" x2="73.8" y2="596.1" stroke="#454545" stroke-width="1"/>
<text x="73.8" y="608.9" font-size="12" text-anchor="middle" fill="#0a0a0a">9000</text>
<line x1="120.6" y1="593.1" x2="120.6" y2="596.1" stroke="#454545" stroke-width="1"/>
<text x="120.6" y="608.9" font-size="12" text-anchor="middle" fill="#0a0a0a">9060</text>
<line x1="167.4" y1="593.1" x2="167.4" y2="596.1" stroke="#454545" stroke-width="1"/>
<text x="167.4" y="608.9" font-size="12" text-anchor="middle" fill="#0a0a0a">9120</text>
<line x1="50.4" y1="593.1" x2="50.4" y2="595.1" stroke="#454545" stroke-width="1"/>
<line x1="97.2" y1="593.1" x2="97.2" y2="595.1" stroke="#454545" stroke-width="1"/>
<line x1="144" y1="593.1" x2="144" y2="595.1" stroke="#454545" stroke-width="1"/>
<line x1="190.8" y1="593.1" x2="190.8" y2="595.1" stroke="#454545" stroke-width="1"/>
<g clip-path="url(#clipg)">
<path d="M34,587.7 C35.83,587.65 41.95,587.63 45,587.4 C48.05,587.17 50.55,586.7 52.3,586.3 C54.05,585.9 54.63,585.63 55.5,585 C56.37,584.37 56.88,584 57.5,582.5 C58.12,581 58.7,579.42 59.2,576 C59.7,572.58 60.1,567.17 60.5,562 C60.9,556.83 61.22,551.17 61.6,545 C61.98,538.83 62.28,530.98 62.8,525 C63.32,519.02 64.18,515.37 64.7,509.1 C65.22,502.83 65.48,495.27 65.9,487.4 C66.32,479.53 66.77,468.8 67.2,461.9 C67.63,455 68.12,449.57 68.5,446 C68.88,442.43 69.15,441.62 69.5,440.5 C69.85,439.38 70.22,439.3 70.6,439.3 C70.98,439.3 71.4,439.8 71.8,440.5 C72.2,441.2 72.48,441.42 73,443.5 C73.52,445.58 74.17,448.87 74.9,453 C75.63,457.13 76.45,464.05 77.4,468.3 C78.35,472.55 79.22,475.53 80.6,478.5 C81.98,481.47 84,483.92 85.7,486.1 C87.4,488.28 89.1,491.17 90.8,491.6 C92.5,492.03 94.2,490.68 95.9,488.7 C97.6,486.72 99.08,482.47 101,479.7 C102.92,476.93 105.07,473.68 107.4,472.1 C109.73,470.52 112.45,470.3 115,470.2 C117.55,470.1 120.2,470.77 122.7,471.5 C125.2,472.23 126.88,473.38 130,474.6 C133.12,475.82 137.23,478.4 141.4,478.8 C145.57,479.2 150.23,477.88 155,477 C159.77,476.12 165.4,474.3 170,473.5 C174.6,472.7 178.43,472.25 182.6,472.2 C186.77,472.15 191,472.85 195,473.2 C199,473.55 204.67,474.12 206.6,474.3" stroke="#4fae96" stroke-width="1.2" fill="none"/>
</g>
<rect x="34" y="428.2" width="172.6" height="164.9" stroke="#454545" stroke-width="1" fill="none"/>
<rect x="57.4" y="509.3" width="12.2" height="23.1" stroke="#555" stroke-width="0.9" fill="none"/>
<line x1="69.6" y1="509.3" x2="101.4" y2="495.4" stroke="#555" stroke-width="0.8" stroke-dasharray="2,1.6"/>
<line x1="69.6" y1="532.4" x2="101.4" y2="585.1" stroke="#555" stroke-width="0.8" stroke-dasharray="2,1.6"/>
<rect x="101.4" y="495.4" width="93.8" height="89.7" fill="#fff" stroke="#8a8a8a" stroke-width="1"/>
<line x1="101.4" y1="495.4" x2="101.4" y2="585.1" stroke="#666" stroke-width="1"/>
<line x1="101.4" y1="495.4" x2="195.2" y2="495.4" stroke="#666" stroke-width="1"/>
<line x1="121" y1="585.1" x2="166.7" y2="495.4" stroke="#4fae96" stroke-width="1.15"/>
<line x1="134.9" y1="585.1" x2="177.9" y2="495.4" stroke="#c9a882" stroke-width="0.85"/>
<line x1="155.6" y1="542.8" x2="148.5" y2="538.4" stroke="#b8a23c" stroke-width="1.0"/>
<path d="M146.4,537.1 L149.9,536.6 L148.5,540.0 Z" stroke="#7aa56a" stroke-width="0.5" fill="#7aa56a"/>
<text x="120.3" y="621.3" font-size="12.4" text-anchor="middle" fill="#0a0a0a">Energy (eV)</text>
<text x="18.8" y="507.2" font-size="12.4" text-anchor="middle" fill="#0a0a0a" transform="rotate(-90 18.8 507.2)">Normalized &#967;&#956;(E)</text>
<text x="7.6" y="432.6" font-size="16.5" text-anchor="start" font-weight="bold" fill="#000">g</text>
<line x1="141.9" y1="439.3" x2="166.8" y2="439.3" stroke="#c9a882" stroke-width="1.1"/>
<line x1="141.9" y1="454.5" x2="166.8" y2="454.5" stroke="#4fae96" stroke-width="1.3"/>
<text x="170.3" y="442.9" font-size="12.3" text-anchor="start" fill="#0a0a0a">dark</text>
<text x="170.3" y="458.2" font-size="12.3" text-anchor="start" fill="#0a0a0a">light</text>
<rect x="270.3" y="430.4" width="172.5" height="164.9" stroke="#454545" stroke-width="1" fill="none"/>
<line x1="270.3" y1="595.3" x2="270.3" y2="598.3" stroke="#454545" stroke-width="1"/>
<text x="270.3" y="610.7" font-size="12" text-anchor="middle" fill="#0a0a0a">0</text>
<line x1="356.55" y1="595.3" x2="356.55" y2="598.3" stroke="#454545" stroke-width="1"/>
<text x="356.55" y="610.7" font-size="12" text-anchor="middle" fill="#0a0a0a">2</text>
<line x1="442.8" y1="595.3" x2="442.8" y2="598.3" stroke="#454545" stroke-width="1"/>
<text x="442.8" y="610.7" font-size="12" text-anchor="middle" fill="#0a0a0a">4</text>
<line x1="313.43" y1="595.3" x2="313.43" y2="597.3" stroke="#454545" stroke-width="1"/>
<line x1="399.68" y1="595.3" x2="399.68" y2="597.3" stroke="#454545" stroke-width="1"/>
<line x1="267.3" y1="467.7" x2="270.3" y2="467.7" stroke="#454545" stroke-width="1"/>
<text x="265.5" y="471.9" font-size="12" text-anchor="end" fill="#0a0a0a">1.0</text>
<line x1="267.3" y1="531.5" x2="270.3" y2="531.5" stroke="#454545" stroke-width="1"/>
<text x="265.5" y="535.7" font-size="12" text-anchor="end" fill="#0a0a0a">0.5</text>
<line x1="267.3" y1="595.3" x2="270.3" y2="595.3" stroke="#454545" stroke-width="1"/>
<text x="265.5" y="599.5" font-size="12" text-anchor="end" fill="#0a0a0a">0.0</text>
<line x1="268.3" y1="435.8" x2="270.3" y2="435.8" stroke="#454545" stroke-width="1"/>
<line x1="268.3" y1="499.6" x2="270.3" y2="499.6" stroke="#454545" stroke-width="1"/>
<line x1="268.3" y1="563.4" x2="270.3" y2="563.4" stroke="#454545" stroke-width="1"/>
<rect x="270.3" y="430.4" width="172.5" height="164.9" stroke="#454545" stroke-width="1" fill="none"/>
<path d="M270.3,580.7 C270.92,581.17 272.72,582.37 274,583.5 C275.28,584.63 276.75,586.67 278,587.5 C279.25,588.33 280.33,588.83 281.5,588.5 C282.67,588.17 283.67,587 285,585.5 C286.33,584 288.03,580.85 289.5,579.5 C290.97,578.15 292.47,577.45 293.8,577.4 C295.13,577.35 296.2,578.2 297.5,579.2 C298.8,580.2 300.5,584.55 301.6,583.4 C302.7,582.25 303.35,575.81 304.1,572.28 C304.85,568.76 305.43,565.75 306.1,562.26 C306.77,558.77 307.43,555.11 308.1,551.34 C308.77,547.58 309.43,543.65 310.1,539.67 C310.77,535.7 311.43,531.58 312.1,527.47 C312.77,523.36 313.43,519.15 314.1,514.99 C314.77,510.84 315.43,506.64 316.1,502.55 C316.77,498.47 317.43,494.39 318.1,490.49 C318.77,486.6 319.43,482.76 320.1,479.18 C320.77,475.59 321.43,472.13 322.1,468.98 C322.77,465.82 323.43,462.86 324.1,460.25 C324.77,457.63 325.43,455.27 326.1,453.29 C326.77,451.32 327.43,449.65 328.1,448.38 C328.77,447.12 329.43,446.2 330.1,445.7 C330.77,445.2 331.43,445 332.1,445.39 C332.77,445.78 333.43,446.66 334.1,448.04 C334.77,449.42 335.43,451.34 336.1,453.67 C336.77,456 337.43,458.84 338.1,462.01 C338.77,465.18 339.43,468.81 340.1,472.67 C340.77,476.52 341.43,480.78 342.1,485.15 C342.77,489.53 343.43,494.22 344.1,498.94 C344.77,503.65 345.43,508.58 346.1,513.46 C346.77,518.33 347.43,523.32 348.1,528.18 C348.77,533.05 349.43,537.93 350.1,542.63 C350.77,547.34 351.43,551.98 352.1,556.4 C352.77,560.82 353.23,564.07 354.1,569.17 C354.97,574.27 356.07,585.69 357.3,587 C358.53,588.31 360.22,579.67 361.5,577 C362.78,574.33 363.87,572.27 365,571 C366.13,569.73 367.13,569.4 368.3,569.4 C369.47,569.4 370.55,569.4 372,571 C373.45,572.6 375.42,576.5 377,579 C378.58,581.5 380.22,584.45 381.5,586 C382.78,587.55 383.45,588.3 384.7,588.3 C385.95,588.3 387.12,587.05 389,586 C390.88,584.95 393.5,583.03 396,582 C398.5,580.97 401.5,580.27 404,579.8 C406.5,579.33 408.5,579.13 411,579.2 C413.5,579.27 416.33,579.57 419,580.2 C421.67,580.83 424.33,581.87 427,583 C429.67,584.13 432.37,585.6 435,587 C437.63,588.4 441.5,590.67 442.8,591.4" stroke="#cfb03e" stroke-width="1.2" fill="none"/>
<path d="M270.3,579.2 C270.92,579.58 272.72,580.6 274,581.5 C275.28,582.4 276.75,583.95 278,584.6 C279.25,585.25 280.33,585.75 281.5,585.4 C282.67,585.05 283.67,583.82 285,582.5 C286.33,581.18 288.03,578.57 289.5,577.5 C290.97,576.43 292.47,576.05 293.8,576.1 C295.13,576.15 296.2,576.85 297.5,577.8 C298.8,578.75 300.5,582.84 301.6,581.8 C302.7,580.76 303.35,574.79 304.1,571.54 C304.85,568.29 305.43,565.52 306.1,562.3 C306.77,559.08 307.43,555.7 308.1,552.22 C308.77,548.75 309.43,545.13 310.1,541.46 C310.77,537.79 311.43,534 312.1,530.2 C312.77,526.41 313.43,522.52 314.1,518.69 C314.77,514.86 315.43,510.98 316.1,507.21 C316.77,503.44 317.43,499.68 318.1,496.08 C318.77,492.49 319.43,488.95 320.1,485.65 C320.77,482.34 321.43,479.15 322.1,476.24 C322.77,473.33 323.43,470.59 324.1,468.18 C324.77,465.77 325.43,463.59 326.1,461.77 C326.77,459.94 327.43,458.4 328.1,457.24 C328.77,456.07 329.43,455.22 330.1,454.76 C330.77,454.3 331.43,454.12 332.1,454.48 C332.77,454.84 333.43,455.65 334.1,456.94 C334.77,458.22 335.43,460 336.1,462.16 C336.77,464.33 337.43,466.97 338.1,469.91 C338.77,472.85 339.43,476.23 340.1,479.81 C340.77,483.39 341.43,487.34 342.1,491.41 C342.77,495.48 343.43,499.83 344.1,504.21 C344.77,508.59 345.43,513.17 346.1,517.7 C346.77,522.22 347.43,526.86 348.1,531.37 C348.77,535.89 349.43,540.43 350.1,544.79 C350.77,549.16 351.43,553.47 352.1,557.58 C352.77,561.69 353.23,564.7 354.1,569.44 C354.97,574.18 356.07,584.91 357.3,586 C358.53,587.09 360.22,578.58 361.5,576 C362.78,573.42 363.87,571.7 365,570.5 C366.13,569.3 367.13,568.8 368.3,568.8 C369.47,568.8 370.55,568.97 372,570.5 C373.45,572.03 375.42,575.58 377,578 C378.58,580.42 380.22,583.45 381.5,585 C382.78,586.55 383.45,587.3 384.7,587.3 C385.95,587.3 387.12,586.13 389,585 C390.88,583.87 393.5,581.7 396,580.5 C398.5,579.3 401.5,578.35 404,577.8 C406.5,577.25 408.5,577 411,577.2 C413.5,577.4 416.33,578.03 419,579 C421.67,579.97 424.33,581.42 427,583 C429.67,584.58 432.37,586.75 435,588.5 C437.63,590.25 441.5,592.67 442.8,593.5" stroke="#3fae9e" stroke-width="1.2" fill="none"/>
<line x1="331.4" y1="436.7" x2="331.4" y2="466" stroke="#222" stroke-width="1"/>
<path d="M329.6,463.5 L333.2,463.5 L331.4,471.8 Z" stroke="#222" stroke-width="0.4" fill="#222"/>
<text x="356.5" y="622.3" font-size="12.4" text-anchor="middle" fill="#0a0a0a">Radial distance (&#197;)</text>
<text x="247.6" y="513.5" font-size="12.2" text-anchor="middle" fill="#0a0a0a" transform="rotate(-90 247.6 513.5)">|FT<tspan font-style="italic">k</tspan><tspan font-size="8" dy="-4.5">2</tspan><tspan dy="4.5">&#967;(</tspan><tspan font-style="italic">k</tspan>)|(&#197;<tspan font-size="8" dy="-4.5">-3</tspan><tspan dy="4.5">)</tspan></text>
<text x="240.6" y="434.6" font-size="16.5" text-anchor="start" font-weight="bold" fill="#000">h</text>
<line x1="371" y1="458.8" x2="390.4" y2="458.8" stroke="#cfb03e" stroke-width="1.3"/>
<line x1="371" y1="474.2" x2="390.4" y2="474.2" stroke="#3fae9e" stroke-width="1.3"/>
<text x="393.6" y="462.5" font-size="12.3" text-anchor="start" fill="#0a0a0a">dark</text>
<text x="393.6" y="476.5" font-size="12.3" text-anchor="start" fill="#0a0a0a">light</text>
<rect x="507.2" y="429.6" width="173.4" height="163.9" stroke="#454545" stroke-width="1" fill="none"/>
<line x1="507.2" y1="593.5" x2="507.2" y2="596.5" stroke="#454545" stroke-width="1"/>
<text x="507.2" y="610.7" font-size="12" text-anchor="middle" fill="#0a0a0a">0</text>
<line x1="565" y1="593.5" x2="565" y2="596.5" stroke="#454545" stroke-width="1"/>
<text x="565" y="610.7" font-size="12" text-anchor="middle" fill="#0a0a0a">2</text>
<line x1="622.8" y1="593.5" x2="622.8" y2="596.5" stroke="#454545" stroke-width="1"/>
<text x="622.8" y="610.7" font-size="12" text-anchor="middle" fill="#0a0a0a">4</text>
<line x1="680.6" y1="593.5" x2="680.6" y2="596.5" stroke="#454545" stroke-width="1"/>
<text x="680.6" y="610.7" font-size="12" text-anchor="middle" fill="#0a0a0a">6</text>
<line x1="536.1" y1="593.5" x2="536.1" y2="595.5" stroke="#454545" stroke-width="1"/>
<line x1="593.9" y1="593.5" x2="593.9" y2="595.5" stroke="#454545" stroke-width="1"/>
<line x1="651.7" y1="593.5" x2="651.7" y2="595.5" stroke="#454545" stroke-width="1"/>
<line x1="504.2" y1="457" x2="507.2" y2="457" stroke="#454545" stroke-width="1"/>
<text x="503.5" y="461.2" font-size="12" text-anchor="end" fill="#0a0a0a">1</text>
<line x1="504.2" y1="512.2" x2="507.2" y2="512.2" stroke="#454545" stroke-width="1"/>
<text x="503.5" y="516.4" font-size="12" text-anchor="end" fill="#0a0a0a">0</text>
<line x1="504.2" y1="567.4" x2="507.2" y2="567.4" stroke="#454545" stroke-width="1"/>
<text x="503.5" y="571.6" font-size="12" text-anchor="end" fill="#0a0a0a">-1</text>
<line x1="505.2" y1="484.6" x2="507.2" y2="484.6" stroke="#454545" stroke-width="1"/>
<line x1="505.2" y1="539.8" x2="507.2" y2="539.8" stroke="#454545" stroke-width="1"/>
<g clip-path="url(#clipi)">
<path d="M507.5,500.82 C507.78,501.12 508.63,502.04 509.2,502.61 C509.77,503.17 510.33,503.82 510.9,504.21 C511.47,504.6 512.03,504.75 512.6,504.95 C513.17,505.16 513.73,505.48 514.3,505.45 C514.87,505.41 515.43,505.17 516,504.72 C516.57,504.27 517.13,503.39 517.7,502.75 C518.27,502.12 518.83,501.51 519.4,500.9 C519.97,500.29 520.53,499.66 521.1,499.1 C521.67,498.54 522.23,497.88 522.8,497.53 C523.37,497.17 523.93,496.89 524.5,496.98 C525.07,497.07 525.63,497.7 526.2,498.07 C526.77,498.44 527.33,498.81 527.9,499.21 C528.47,499.61 529.03,500.18 529.6,500.47 C530.17,500.76 530.73,501.51 531.3,500.97 C531.87,500.44 532.43,498.67 533,497.26 C533.57,495.86 534.13,494.25 534.7,492.54 C535.27,490.83 535.83,489.19 536.4,487.01 C536.97,484.83 537.53,481.98 538.1,479.46 C538.67,476.94 539.23,474.31 539.8,471.86 C540.37,469.41 540.93,466.97 541.5,464.74 C542.07,462.51 542.63,460.38 543.2,458.47 C543.77,456.55 544.33,454.49 544.9,453.25 C545.47,452.01 546.03,451.48 546.6,451.02 C547.17,450.56 547.73,450.36 548.3,450.49 C548.87,450.62 549.43,451.05 550,451.8 C550.57,452.55 551.13,453.82 551.7,454.98 C552.27,456.14 552.83,457.34 553.4,458.75 C553.97,460.16 554.53,461.49 555.1,463.44 C555.67,465.39 556.23,467.87 556.8,470.46 C557.37,473.06 557.93,475.99 558.5,479 C559.07,482.01 559.63,485.52 560.2,488.51 C560.77,491.5 561.33,494.13 561.9,496.92 C562.47,499.71 563.03,503.67 563.6,505.24 C564.17,506.81 564.73,506.24 565.3,506.33 C565.87,506.43 566.43,506.25 567,505.8 C567.57,505.36 568.13,504.21 568.7,503.67 C569.27,503.12 569.83,502.86 570.4,502.54 C570.97,502.21 571.53,501.68 572.1,501.72 C572.67,501.75 573.23,502.43 573.8,502.77 C574.37,503.11 574.93,503.4 575.5,503.75 C576.07,504.11 576.63,504.49 577.2,504.9 C577.77,505.32 578.33,505.77 578.9,506.26 C579.47,506.74 580.03,507.26 580.6,507.8 C581.17,508.35 581.73,509.27 582.3,509.53 C582.87,509.8 583.43,509.58 584,509.4 C584.57,509.22 585.13,508.78 585.7,508.43 C586.27,508.08 586.83,507.44 587.4,507.32 C587.97,507.2 588.53,507.62 589.1,507.71 C589.67,507.79 590.23,507.82 590.8,507.84 C591.37,507.86 591.93,507.82 592.5,507.82 C593.07,507.81 593.63,507.81 594.2,507.82 C594.77,507.84 595.33,507.87 595.9,507.89 C596.47,507.92 597.03,508.13 597.6,507.98 C598.17,507.83 598.73,507.26 599.3,506.98 C599.87,506.7 600.43,506.49 601,506.32 C601.57,506.15 602.13,505.87 602.7,505.95 C603.27,506.03 603.83,506.5 604.4,506.82 C604.97,507.13 605.53,507.53 606.1,507.85 C606.67,508.18 607.23,508.52 607.8,508.78 C608.37,509.04 608.93,509.28 609.5,509.43 C610.07,509.58 610.63,509.62 611.2,509.67 C611.77,509.72 612.33,509.72 612.9,509.73 C613.47,509.73 614.03,509.7 614.6,509.7 C615.17,509.69 615.73,509.68 616.3,509.7 C616.87,509.71 617.43,509.72 618,509.78 C618.57,509.84 619.13,509.92 619.7,510.04 C620.27,510.16 620.83,510.31 621.4,510.47 C621.97,510.64 622.53,510.84 623.1,511.01 C623.67,511.19 624.23,511.39 624.8,511.54 C625.37,511.69 625.93,511.84 626.5,511.94 C627.07,512.04 627.63,512.1 628.2,512.12 C628.77,512.15 629.33,512.12 629.9,512.07 C630.47,512.01 631.03,511.91 631.6,511.8 C632.17,511.7 632.73,511.56 633.3,511.43 C633.87,511.3 634.43,511.14 635,511.03 C635.57,510.93 636.13,510.83 636.7,510.78 C637.27,510.73 637.83,510.72 638.4,510.74 C638.97,510.77 639.53,510.84 640.1,510.93 C640.67,511.03 641.23,511.17 641.8,511.31 C642.37,511.44 642.93,511.61 643.5,511.75 C644.07,511.89 644.63,512.03 645.2,512.14 C645.77,512.24 646.33,512.32 646.9,512.36 C647.47,512.4 648.03,512.39 648.6,512.35 C649.17,512.31 649.73,512.23 650.3,512.13 C650.87,512.03 651.43,511.89 652,511.76 C652.57,511.63 653.13,511.47 653.7,511.35 C654.27,511.23 654.83,511.1 655.4,511.03 C655.97,510.95 656.53,510.9 657.1,510.9 C657.67,510.89 658.23,510.93 658.8,511 C659.37,511.07 659.93,511.19 660.5,511.31 C661.07,511.44 661.63,511.6 662.2,511.75 C662.77,511.9 663.33,512.07 663.9,512.19 C664.47,512.32 665.03,512.44 665.6,512.51 C666.17,512.58 666.73,512.62 667.3,512.61 C667.87,512.61 668.43,512.56 669,512.48 C669.57,512.41 670.13,512.28 670.7,512.16 C671.27,512.04 671.83,511.88 672.4,511.74 C672.97,511.61 673.53,511.46 674.1,511.36 C674.67,511.25 675.23,511.16 675.8,511.12 C676.37,511.08 676.93,511.07 677.5,511.1 C678.07,511.13 678.92,511.28 679.2,511.31" stroke="#ececec" stroke-width="4.2" fill="none" stroke-linecap="round"/>
<path d="M505.4 500.8a2.1 2.1 0 1 0 4.2 0a2.1 2.1 0 1 0 -4.2 0M508.8 504.2a2.1 2.1 0 1 0 4.2 0a2.1 2.1 0 1 0 -4.2 0M512.2 505.4a2.1 2.1 0 1 0 4.2 0a2.1 2.1 0 1 0 -4.2 0M515.6 502.8a2.1 2.1 0 1 0 4.2 0a2.1 2.1 0 1 0 -4.2 0M519.0 499.1a2.1 2.1 0 1 0 4.2 0a2.1 2.1 0 1 0 -4.2 0M522.4 497.0a2.1 2.1 0 1 0 4.2 0a2.1 2.1 0 1 0 -4.2 0M525.8 499.2a2.1 2.1 0 1 0 4.2 0a2.1 2.1 0 1 0 -4.2 0M529.2 501.0a2.1 2.1 0 1 0 4.2 0a2.1 2.1 0 1 0 -4.2 0M532.6 492.5a2.1 2.1 0 1 0 4.2 0a2.1 2.1 0 1 0 -4.2 0M536.0 479.5a2.1 2.1 0 1 0 4.2 0a2.1 2.1 0 1 0 -4.2 0M539.4 464.7a2.1 2.1 0 1 0 4.2 0a2.1 2.1 0 1 0 -4.2 0M542.8 453.2a2.1 2.1 0 1 0 4.2 0a2.1 2.1 0 1 0 -4.2 0M546.2 450.5a2.1 2.1 0 1 0 4.2 0a2.1 2.1 0 1 0 -4.2 0M549.6 455.0a2.1 2.1 0 1 0 4.2 0a2.1 2.1 0 1 0 -4.2 0M553.0 463.4a2.1 2.1 0 1 0 4.2 0a2.1 2.1 0 1 0 -4.2 0M556.4 479.0a2.1 2.1 0 1 0 4.2 0a2.1 2.1 0 1 0 -4.2 0M559.8 496.9a2.1 2.1 0 1 0 4.2 0a2.1 2.1 0 1 0 -4.2 0M563.2 506.3a2.1 2.1 0 1 0 4.2 0a2.1 2.1 0 1 0 -4.2 0M566.6 503.7a2.1 2.1 0 1 0 4.2 0a2.1 2.1 0 1 0 -4.2 0M570.0 501.7a2.1 2.1 0 1 0 4.2 0a2.1 2.1 0 1 0 -4.2 0M573.4 503.8a2.1 2.1 0 1 0 4.2 0a2.1 2.1 0 1 0 -4.2 0M576.8 506.3a2.1 2.1 0 1 0 4.2 0a2.1 2.1 0 1 0 -4.2 0M580.2 509.5a2.1 2.1 0 1 0 4.2 0a2.1 2.1 0 1 0 -4.2 0M583.6 508.4a2.1 2.1 0 1 0 4.2 0a2.1 2.1 0 1 0 -4.2 0M587.0 507.7a2.1 2.1 0 1 0 4.2 0a2.1 2.1 0 1 0 -4.2 0M590.4 507.8a2.1 2.1 0 1 0 4.2 0a2.1 2.1 0 1 0 -4.2 0M593.8 507.9a2.1 2.1 0 1 0 4.2 0a2.1 2.1 0 1 0 -4.2 0M597.2 507.0a2.1 2.1 0 1 0 4.2 0a2.1 2.1 0 1 0 -4.2 0M600.6 506.0a2.1 2.1 0 1 0 4.2 0a2.1 2.1 0 1 0 -4.2 0M604.0 507.9a2.1 2.1 0 1 0 4.2 0a2.1 2.1 0 1 0 -4.2 0M607.4 509.4a2.1 2.1 0 1 0 4.2 0a2.1 2.1 0 1 0 -4.2 0M610.8 509.7a2.1 2.1 0 1 0 4.2 0a2.1 2.1 0 1 0 -4.2 0M614.2 509.7a2.1 2.1 0 1 0 4.2 0a2.1 2.1 0 1 0 -4.2 0M617.6 510.0a2.1 2.1 0 1 0 4.2 0a2.1 2.1 0 1 0 -4.2 0M621.0 511.0a2.1 2.1 0 1 0 4.2 0a2.1 2.1 0 1 0 -4.2 0M624.4 511.9a2.1 2.1 0 1 0 4.2 0a2.1 2.1 0 1 0 -4.2 0M627.8 512.1a2.1 2.1 0 1 0 4.2 0a2.1 2.1 0 1 0 -4.2 0M631.2 511.4a2.1 2.1 0 1 0 4.2 0a2.1 2.1 0 1 0 -4.2 0M634.6 510.8a2.1 2.1 0 1 0 4.2 0a2.1 2.1 0 1 0 -4.2 0M638.0 510.9a2.1 2.1 0 1 0 4.2 0a2.1 2.1 0 1 0 -4.2 0M641.4 511.7a2.1 2.1 0 1 0 4.2 0a2.1 2.1 0 1 0 -4.2 0M644.8 512.4a2.1 2.1 0 1 0 4.2 0a2.1 2.1 0 1 0 -4.2 0M648.2 512.1a2.1 2.1 0 1 0 4.2 0a2.1 2.1 0 1 0 -4.2 0M651.6 511.3a2.1 2.1 0 1 0 4.2 0a2.1 2.1 0 1 0 -4.2 0M655.0 510.9a2.1 2.1 0 1 0 4.2 0a2.1 2.1 0 1 0 -4.2 0M658.4 511.3a2.1 2.1 0 1 0 4.2 0a2.1 2.1 0 1 0 -4.2 0M661.8 512.2a2.1 2.1 0 1 0 4.2 0a2.1 2.1 0 1 0 -4.2 0M665.2 512.6a2.1 2.1 0 1 0 4.2 0a2.1 2.1 0 1 0 -4.2 0M668.6 512.2a2.1 2.1 0 1 0 4.2 0a2.1 2.1 0 1 0 -4.2 0M672.0 511.4a2.1 2.1 0 1 0 4.2 0a2.1 2.1 0 1 0 -4.2 0M675.4 511.1a2.1 2.1 0 1 0 4.2 0a2.1 2.1 0 1 0 -4.2 0" fill="none" stroke="#d9d9d9" stroke-width="0.8"/>
<path d="M507.5,533.76 C507.78,533.33 508.63,532.01 509.2,531.13 C509.77,530.24 510.33,529.18 510.9,528.47 C511.47,527.75 512.03,527.33 512.6,526.82 C513.17,526.32 513.73,525.87 514.3,525.42 C514.87,524.97 515.43,524.47 516,524.13 C516.57,523.79 517.13,523.62 517.7,523.37 C518.27,523.12 518.83,523.58 519.4,522.63 C519.97,521.68 520.53,519.24 521.1,517.67 C521.67,516.09 522.23,514.55 522.8,513.17 C523.37,511.79 523.93,509.81 524.5,509.41 C525.07,509 525.63,510.05 526.2,510.73 C526.77,511.4 527.33,512.62 527.9,513.46 C528.47,514.3 529.03,515.41 529.6,515.76 C530.17,516.11 530.73,515.7 531.3,515.57 C531.87,515.44 532.43,515.09 533,514.99 C533.57,514.89 534.13,514.11 534.7,514.98 C535.27,515.84 535.83,517.07 536.4,520.18 C536.97,523.28 537.53,528.4 538.1,533.61 C538.67,538.83 539.23,545.66 539.8,551.46 C540.37,557.26 540.93,565.23 541.5,568.39 C542.07,571.56 542.63,572.38 543.2,570.46 C543.77,568.53 544.33,563.49 544.9,556.84 C545.47,550.19 546.03,540.55 546.6,530.56 C547.17,520.57 547.73,507.1 548.3,496.9 C548.87,486.7 549.43,473.87 550,469.39 C550.57,464.91 551.13,465.6 551.7,470.04 C552.27,474.48 552.83,488.65 553.4,496.02 C553.97,503.39 554.53,508.39 555.1,514.26 C555.67,520.14 556.23,526.6 556.8,531.27 C557.37,535.94 557.93,540.22 558.5,542.26 C559.07,544.31 559.63,544.26 560.2,543.52 C560.77,542.79 561.33,539.55 561.9,537.84 C562.47,536.14 563.03,534.84 563.6,533.3 C564.17,531.76 564.73,529.26 565.3,528.58 C565.87,527.9 566.43,528.91 567,529.23 C567.57,529.55 568.13,530.86 568.7,530.5 C569.27,530.14 569.83,528.43 570.4,527.07 C570.97,525.71 571.53,523.68 572.1,522.37 C572.67,521.06 573.23,520.16 573.8,519.21 C574.37,518.26 574.93,517.1 575.5,516.68 C576.07,516.25 576.63,516.23 577.2,516.67 C577.77,517.11 578.33,518.46 578.9,519.31 C579.47,520.16 580.03,521.12 580.6,521.77 C581.17,522.42 581.73,523.18 582.3,523.19 C582.87,523.21 583.43,522.3 584,521.86 C584.57,521.42 585.13,520.94 585.7,520.56 C586.27,520.18 586.83,519.46 587.4,519.56 C587.97,519.66 588.53,520.58 589.1,521.17 C589.67,521.77 590.23,522.5 590.8,523.11 C591.37,523.73 591.93,524.4 592.5,524.87 C593.07,525.33 593.63,525.68 594.2,525.9 C594.77,526.12 595.33,526.21 595.9,526.17 C596.47,526.12 597.03,526.07 597.6,525.61 C598.17,525.16 598.73,524.15 599.3,523.43 C599.87,522.7 600.43,521.9 601,521.27 C601.57,520.64 602.13,520.06 602.7,519.63 C603.27,519.21 603.83,518.9 604.4,518.72 C604.97,518.55 605.53,518.56 606.1,518.58 C606.67,518.6 607.23,518.73 607.8,518.84 C608.37,518.95 608.93,518.98 609.5,519.24 C610.07,519.5 610.63,520.06 611.2,520.4 C611.77,520.74 612.33,521.05 612.9,521.29 C613.47,521.54 614.03,521.74 614.6,521.89 C615.17,522.03 615.73,522.12 616.3,522.18 C616.87,522.23 617.43,522.24 618,522.22 C618.57,522.2 619.13,522.09 619.7,522.03 C620.27,521.97 620.83,521.89 621.4,521.86 C621.97,521.84 622.53,521.83 623.1,521.89 C623.67,521.94 624.23,522.04 624.8,522.17 C625.37,522.31 625.93,522.51 626.5,522.7 C627.07,522.89 627.63,523.13 628.2,523.34 C628.77,523.54 629.33,523.77 629.9,523.93 C630.47,524.09 631.03,524.24 631.6,524.32 C632.17,524.4 632.73,524.45 633.3,524.4 C633.87,524.36 634.43,524.19 635,524.05 C635.57,523.91 636.13,523.73 636.7,523.58 C637.27,523.43 637.83,523.27 638.4,523.16 C638.97,523.05 639.53,522.97 640.1,522.94 C640.67,522.91 641.23,522.93 641.8,522.98 C642.37,523.04 642.93,523.15 643.5,523.26 C644.07,523.37 644.63,523.53 645.2,523.65 C645.77,523.77 646.33,523.91 646.9,523.99 C647.47,524.07 648.03,524.13 648.6,524.13 C649.17,524.13 649.73,524.08 650.3,524 C650.87,523.93 651.43,523.79 652,523.66 C652.57,523.53 653.13,523.35 653.7,523.21 C654.27,523.06 654.83,522.91 655.4,522.81 C655.97,522.71 656.53,522.63 657.1,522.61 C657.67,522.59 658.23,522.62 658.8,522.68 C659.37,522.74 659.93,522.86 660.5,522.98 C661.07,523.1 661.63,523.26 662.2,523.39 C662.77,523.51 663.33,523.65 663.9,523.74 C664.47,523.82 665.03,523.89 665.6,523.9 C666.17,523.92 666.73,523.9 667.3,523.83 C667.87,523.77 668.43,523.65 669,523.53 C669.57,523.41 670.13,523.25 670.7,523.12 C671.27,523 671.83,522.86 672.4,522.77 C672.97,522.69 673.53,522.63 674.1,522.62 C674.67,522.62 675.23,522.67 675.8,522.74 C676.37,522.82 676.93,522.96 677.5,523.09 C678.07,523.23 678.92,523.47 679.2,523.55" stroke="#ececec" stroke-width="4.2" fill="none" stroke-linecap="round"/>
<path d="M505.4 533.8a2.1 2.1 0 1 0 4.2 0a2.1 2.1 0 1 0 -4.2 0M508.8 528.5a2.1 2.1 0 1 0 4.2 0a2.1 2.1 0 1 0 -4.2 0M512.2 525.4a2.1 2.1 0 1 0 4.2 0a2.1 2.1 0 1 0 -4.2 0M515.6 523.4a2.1 2.1 0 1 0 4.2 0a2.1 2.1 0 1 0 -4.2 0M519.0 517.7a2.1 2.1 0 1 0 4.2 0a2.1 2.1 0 1 0 -4.2 0M522.4 509.4a2.1 2.1 0 1 0 4.2 0a2.1 2.1 0 1 0 -4.2 0M525.8 513.5a2.1 2.1 0 1 0 4.2 0a2.1 2.1 0 1 0 -4.2 0M529.2 515.6a2.1 2.1 0 1 0 4.2 0a2.1 2.1 0 1 0 -4.2 0M532.6 515.0a2.1 2.1 0 1 0 4.2 0a2.1 2.1 0 1 0 -4.2 0M536.0 533.6a2.1 2.1 0 1 0 4.2 0a2.1 2.1 0 1 0 -4.2 0M539.4 568.4a2.1 2.1 0 1 0 4.2 0a2.1 2.1 0 1 0 -4.2 0M542.8 556.8a2.1 2.1 0 1 0 4.2 0a2.1 2.1 0 1 0 -4.2 0M546.2 496.9a2.1 2.1 0 1 0 4.2 0a2.1 2.1 0 1 0 -4.2 0M549.6 470.0a2.1 2.1 0 1 0 4.2 0a2.1 2.1 0 1 0 -4.2 0M553.0 514.3a2.1 2.1 0 1 0 4.2 0a2.1 2.1 0 1 0 -4.2 0M556.4 542.3a2.1 2.1 0 1 0 4.2 0a2.1 2.1 0 1 0 -4.2 0M559.8 537.8a2.1 2.1 0 1 0 4.2 0a2.1 2.1 0 1 0 -4.2 0M563.2 528.6a2.1 2.1 0 1 0 4.2 0a2.1 2.1 0 1 0 -4.2 0M566.6 530.5a2.1 2.1 0 1 0 4.2 0a2.1 2.1 0 1 0 -4.2 0M570.0 522.4a2.1 2.1 0 1 0 4.2 0a2.1 2.1 0 1 0 -4.2 0M573.4 516.7a2.1 2.1 0 1 0 4.2 0a2.1 2.1 0 1 0 -4.2 0M576.8 519.3a2.1 2.1 0 1 0 4.2 0a2.1 2.1 0 1 0 -4.2 0M580.2 523.2a2.1 2.1 0 1 0 4.2 0a2.1 2.1 0 1 0 -4.2 0M583.6 520.6a2.1 2.1 0 1 0 4.2 0a2.1 2.1 0 1 0 -4.2 0M587.0 521.2a2.1 2.1 0 1 0 4.2 0a2.1 2.1 0 1 0 -4.2 0M590.4 524.9a2.1 2.1 0 1 0 4.2 0a2.1 2.1 0 1 0 -4.2 0M593.8 526.2a2.1 2.1 0 1 0 4.2 0a2.1 2.1 0 1 0 -4.2 0M597.2 523.4a2.1 2.1 0 1 0 4.2 0a2.1 2.1 0 1 0 -4.2 0M600.6 519.6a2.1 2.1 0 1 0 4.2 0a2.1 2.1 0 1 0 -4.2 0M604.0 518.6a2.1 2.1 0 1 0 4.2 0a2.1 2.1 0 1 0 -4.2 0M607.4 519.2a2.1 2.1 0 1 0 4.2 0a2.1 2.1 0 1 0 -4.2 0M610.8 521.3a2.1 2.1 0 1 0 4.2 0a2.1 2.1 0 1 0 -4.2 0M614.2 522.2a2.1 2.1 0 1 0 4.2 0a2.1 2.1 0 1 0 -4.2 0M617.6 522.0a2.1 2.1 0 1 0 4.2 0a2.1 2.1 0 1 0 -4.2 0M621.0 521.9a2.1 2.1 0 1 0 4.2 0a2.1 2.1 0 1 0 -4.2 0M624.4 522.7a2.1 2.1 0 1 0 4.2 0a2.1 2.1 0 1 0 -4.2 0M627.8 523.9a2.1 2.1 0 1 0 4.2 0a2.1 2.1 0 1 0 -4.2 0M631.2 524.4a2.1 2.1 0 1 0 4.2 0a2.1 2.1 0 1 0 -4.2 0M634.6 523.6a2.1 2.1 0 1 0 4.2 0a2.1 2.1 0 1 0 -4.2 0M638.0 522.9a2.1 2.1 0 1 0 4.2 0a2.1 2.1 0 1 0 -4.2 0M641.4 523.3a2.1 2.1 0 1 0 4.2 0a2.1 2.1 0 1 0 -4.2 0M644.8 524.0a2.1 2.1 0 1 0 4.2 0a2.1 2.1 0 1 0 -4.2 0M648.2 524.0a2.1 2.1 0 1 0 4.2 0a2.1 2.1 0 1 0 -4.2 0M651.6 523.2a2.1 2.1 0 1 0 4.2 0a2.1 2.1 0 1 0 -4.2 0M655.0 522.6a2.1 2.1 0 1 0 4.2 0a2.1 2.1 0 1 0 -4.2 0M658.4 523.0a2.1 2.1 0 1 0 4.2 0a2.1 2.1 0 1 0 -4.2 0M661.8 523.7a2.1 2.1 0 1 0 4.2 0a2.1 2.1 0 1 0 -4.2 0M665.2 523.8a2.1 2.1 0 1 0 4.2 0a2.1 2.1 0 1 0 -4.2 0M668.6 523.1a2.1 2.1 0 1 0 4.2 0a2.1 2.1 0 1 0 -4.2 0M672.0 522.6a2.1 2.1 0 1 0 4.2 0a2.1 2.1 0 1 0 -4.2 0M675.4 523.1a2.1 2.1 0 1 0 4.2 0a2.1 2.1 0 1 0 -4.2 0" fill="none" stroke="#d9d9d9" stroke-width="0.8"/>
<path d="M507.2,500.3 C507.83,500.83 509.67,502.65 511,503.5 C512.33,504.35 513.78,505.73 515.2,505.4 C516.62,505.07 518.05,502.88 519.5,501.5 C520.95,500.12 522.57,497.6 523.9,497.1 C525.23,496.6 526.3,497.92 527.5,498.5 C528.7,499.08 530.05,501.18 531.1,500.6 C532.15,500.02 532.87,497.38 533.8,495 C534.73,492.62 535.83,489.47 536.7,486.3 C537.57,483.13 538.2,479.47 539,476 C539.8,472.53 540.58,469.17 541.5,465.5 C542.42,461.83 543.5,456.7 544.5,454 C545.5,451.3 546.58,449.8 547.5,449.3 C548.42,448.8 549.15,449.88 550,451 C550.85,452.12 551.77,454 552.6,456 C553.43,458 554.2,460.08 555,463 C555.8,465.92 556.48,468.83 557.4,473.5 C558.32,478.17 559.43,485.5 560.5,491 C561.57,496.5 562.8,504 563.8,506.5 C564.8,509 565.63,506.67 566.5,506 C567.37,505.33 568.1,503.33 569,502.5 C569.9,501.67 570.73,500.67 571.9,501 C573.07,501.33 574.18,502.83 576,504.5 C577.82,506.17 580.9,510.43 582.8,511 C584.7,511.57 585.87,508.15 587.4,507.9 C588.93,507.65 590.33,508.83 592,509.5 C593.67,510.17 595.58,511.95 597.4,511.9 C599.22,511.85 600.97,509.43 602.9,509.2 C604.83,508.97 606.72,510.2 609,510.5 C611.28,510.8 612.6,510.83 616.6,511 C620.6,511.17 627.43,511.4 633,511.5 C638.57,511.6 644.67,511.55 650,511.6 C655.33,511.65 660,511.75 665,511.8 C670,511.85 677.5,511.88 680,511.9" stroke="#5a9c94" stroke-width="1.1" fill="none"/>
<path d="M507.4,534.3 C508.07,533.1 510.07,528.83 511.4,527.1 C512.73,525.37 514.07,524.57 515.4,523.9 C516.73,523.23 518.25,524.58 519.4,523.1 C520.55,521.62 521.38,517.38 522.3,515 C523.22,512.62 524.03,509.22 524.9,508.8 C525.77,508.38 526.7,511.43 527.5,512.5 C528.3,513.57 528.53,514.88 529.7,515.2 C530.87,515.52 533.3,513.22 534.5,514.4 C535.7,515.58 536.1,516.98 536.9,522.3 C537.7,527.62 538.62,539.02 539.3,546.3 C539.98,553.58 540.47,561.35 541,566 C541.53,570.65 542,574.2 542.5,574.2 C543,574.2 543.47,570.4 544,566 C544.53,561.6 545.02,558.8 545.7,547.8 C546.38,536.8 547.45,512.63 548.1,500 C548.75,487.37 549.17,478.02 549.6,472 C550.03,465.98 550.3,463.9 550.7,463.9 C551.1,463.9 551.52,465.98 552,472 C552.48,478.02 552.8,490.02 553.6,500 C554.4,509.98 555.87,524.07 556.8,531.9 C557.73,539.73 558.33,546.15 559.2,547 C560.07,547.85 560.95,540.27 562,537 C563.05,533.73 564.32,528.4 565.5,527.4 C566.68,526.4 567.93,531.9 569.1,531 C570.27,530.1 571.28,524.58 572.5,522 C573.72,519.42 574.83,515.37 576.4,515.5 C577.97,515.63 580.07,522.18 581.9,522.8 C583.73,523.42 585.72,519.33 587.4,519.2 C589.08,519.07 590.33,521.08 592,522 C593.67,522.92 595.58,524.57 597.4,524.7 C599.22,524.83 600.92,523.57 602.9,522.8 C604.88,522.03 606.72,520.23 609.3,520.1 C611.88,519.97 614.45,521.38 618.4,522 C622.35,522.62 627.73,523.57 633,523.8 C638.27,524.03 644.67,523.5 650,523.4 C655.33,523.3 660,523.2 665,523.2 C670,523.2 677.5,523.37 680,523.4" stroke="#5a9c94" stroke-width="1.1" fill="none"/>
</g>
<rect x="507.2" y="429.6" width="173.4" height="163.9" stroke="#454545" stroke-width="1" fill="none"/>
<rect x="600.4" y="436.4" width="71.3" height="62.8" fill="#fff" stroke="none"/>
<defs><radialGradient id="mgG" cx="0.38" cy="0.35" r="0.7"><stop offset="0" stop-color="#9a9a9a"/><stop offset="1" stop-color="#555555"/></radialGradient><radialGradient id="mgD" cx="0.38" cy="0.35" r="0.7"><stop offset="0" stop-color="#7a7a7a"/><stop offset="1" stop-color="#3a3a3a"/></radialGradient><radialGradient id="mgW" cx="0.38" cy="0.35" r="0.7"><stop offset="0" stop-color="#ffffff"/><stop offset="1" stop-color="#c8c8c8"/></radialGradient><radialGradient id="mgR" cx="0.38" cy="0.35" r="0.7"><stop offset="0" stop-color="#ff5a5a"/><stop offset="1" stop-color="#c80a0a"/></radialGradient><radialGradient id="mgZ" cx="0.38" cy="0.35" r="0.7"><stop offset="0" stop-color="#d6f4f4"/><stop offset="1" stop-color="#88c8c8"/></radialGradient><radialGradient id="mgN" cx="0.38" cy="0.35" r="0.7"><stop offset="0" stop-color="#5050ff"/><stop offset="1" stop-color="#0000c0"/></radialGradient><radialGradient id="mgC" cx="0.38" cy="0.35" r="0.7"><stop offset="0" stop-color="#f0aa98"/><stop offset="1" stop-color="#b86a5a"/></radialGradient><radialGradient id="mgL" cx="0.38" cy="0.35" r="0.7"><stop offset="0" stop-color="#d0d0d0"/><stop offset="1" stop-color="#9a9a9a"/></radialGradient></defs>
<g clip-path="url(#clipmol)">
<line x1="600" y1="436" x2="612" y2="447" stroke="#707070" stroke-width="4.5" stroke-linecap="round"/>
<line x1="612" y1="447" x2="618" y2="456" stroke="#707070" stroke-width="2.0" stroke-linecap="round"/>
<line x1="620" y1="456" x2="625" y2="459" stroke="#d82020" stroke-width="1.5" stroke-linecap="round"/>
<line x1="672" y1="436" x2="662" y2="444" stroke="#707070" stroke-width="4.5" stroke-linecap="round"/>
<line x1="658" y1="449" x2="653" y2="455" stroke="#707070" stroke-width="2.0" stroke-linecap="round"/>
<line x1="629.3" y1="439.8" x2="636" y2="444.2" stroke="#707070" stroke-width="1.6" stroke-linecap="round"/>
<line x1="643.4" y1="440.4" x2="636" y2="444.2" stroke="#707070" stroke-width="1.6" stroke-linecap="round"/>
<line x1="636" y1="444.2" x2="636" y2="449.5" stroke="#c87a6a" stroke-width="1.5" stroke-linecap="round"/>
<line x1="636" y1="449.5" x2="629.6" y2="455.1" stroke="#c87a6a" stroke-width="1.2" stroke-linecap="round"/>
<line x1="636" y1="449.5" x2="643.1" y2="454.8" stroke="#c87a6a" stroke-width="1.2" stroke-linecap="round"/>
<line x1="636" y1="449.5" x2="636" y2="461.5" stroke="#c87a6a" stroke-width="1.2" stroke-linecap="round"/>
<line x1="629.6" y1="455.1" x2="624.9" y2="459.1" stroke="#d82020" stroke-width="1.3" stroke-linecap="round"/>
<line x1="643.1" y1="454.8" x2="647.7" y2="458.9" stroke="#d82020" stroke-width="1.3" stroke-linecap="round"/>
<line x1="624.9" y1="466.9" x2="647.5" y2="467.5" stroke="#a8dede" stroke-width="1.1" stroke-linecap="round"/>
<line x1="624.9" y1="466.9" x2="636.3" y2="471.6" stroke="#a8dede" stroke-width="1.1" stroke-linecap="round"/>
<line x1="647.5" y1="467.5" x2="636.3" y2="471.6" stroke="#a8dede" stroke-width="1.1" stroke-linecap="round"/>
<line x1="624.6" y1="489.4" x2="648.3" y2="489.7" stroke="#a8dede" stroke-width="1.1" stroke-linecap="round"/>
<line x1="624.6" y1="489.4" x2="636.3" y2="471.6" stroke="#a8dede" stroke-width="1.1" stroke-linecap="round"/>
<line x1="648.3" y1="489.7" x2="636.3" y2="471.6" stroke="#a8dede" stroke-width="1.1" stroke-linecap="round"/>
<line x1="624.9" y1="466.9" x2="624.6" y2="489.4" stroke="#a8dede" stroke-width="1.1" stroke-linecap="round"/>
<line x1="647.5" y1="467.5" x2="648.3" y2="489.7" stroke="#a8dede" stroke-width="1.1" stroke-linecap="round"/>
<line x1="624.9" y1="466.9" x2="648.3" y2="489.7" stroke="#d82020" stroke-width="0.9" stroke-linecap="round"/>
<line x1="647.5" y1="467.5" x2="624.6" y2="489.4" stroke="#d82020" stroke-width="0.9" stroke-linecap="round"/>
<line x1="636.3" y1="461.5" x2="636" y2="488.2" stroke="#d82020" stroke-width="1.2" stroke-linecap="round"/>
<line x1="636.3" y1="461.5" x2="624.9" y2="466.9" stroke="#d82020" stroke-width="1.1" stroke-linecap="round"/>
<line x1="636.3" y1="461.5" x2="647.5" y2="467.5" stroke="#d82020" stroke-width="1.1" stroke-linecap="round"/>
<line x1="624.9" y1="459.1" x2="624.9" y2="466.9" stroke="#d82020" stroke-width="1.1" stroke-linecap="round"/>
<line x1="647.7" y1="458.9" x2="647.5" y2="467.5" stroke="#d82020" stroke-width="1.1" stroke-linecap="round"/>
<line x1="612.6" y1="469.5" x2="624.9" y2="466.9" stroke="#d82020" stroke-width="1.1" stroke-linecap="round"/>
<line x1="661.5" y1="470.1" x2="647.5" y2="467.5" stroke="#d82020" stroke-width="1.1" stroke-linecap="round"/>
<line x1="605.6" y1="481.8" x2="609.1" y2="490" stroke="#707070" stroke-width="2.2" stroke-linecap="round"/>
<line x1="609.1" y1="490" x2="603" y2="498" stroke="#707070" stroke-width="1.5" stroke-linecap="round"/>
<line x1="617.9" y1="486.8" x2="624.6" y2="489.4" stroke="#d82020" stroke-width="1.1" stroke-linecap="round"/>
<line x1="661.5" y1="486.8" x2="669.7" y2="487" stroke="#707070" stroke-width="2.5" stroke-linecap="round"/>
<line x1="665.9" y1="477.4" x2="672" y2="477" stroke="#707070" stroke-width="1.2" stroke-linecap="round"/>
<line x1="661.5" y1="470.1" x2="665.9" y2="477.4" stroke="#d82020" stroke-width="1.1" stroke-linecap="round"/>
<line x1="669.7" y1="487" x2="672" y2="498" stroke="#3a3a3a" stroke-width="3" stroke-linecap="round"/>
<line x1="624.6" y1="489.4" x2="621.4" y2="497" stroke="#d82020" stroke-width="1.1" stroke-linecap="round"/>
<line x1="648.3" y1="489.7" x2="651.5" y2="496.4" stroke="#d82020" stroke-width="1.1" stroke-linecap="round"/>
<line x1="636" y1="488.2" x2="636.3" y2="492.9" stroke="#d82020" stroke-width="1.1" stroke-linecap="round"/>
<line x1="613.2" y1="462.1" x2="622" y2="468" stroke="#707070" stroke-width="1.8" stroke-linecap="round"/>
<line x1="603.3" y1="459.7" x2="613.2" y2="462.1" stroke="#d82020" stroke-width="1.0" stroke-linecap="round"/>
<circle cx="656.2" cy="462" r="3.02" fill="url(#mgL)"/>
<circle cx="658.6" cy="465.6" r="2.8" fill="url(#mgL)"/>
<circle cx="613.2" cy="462.1" r="2.46" fill="url(#mgL)"/>
<circle cx="657.4" cy="467.2" r="2.8" fill="url(#mgL)"/>
<circle cx="666" cy="457" r="2.46" fill="url(#mgL)"/>
<circle cx="624" cy="452" r="2.46" fill="url(#mgL)"/>
<circle cx="624.9" cy="466.9" r="2.46" fill="url(#mgZ)"/>
<circle cx="647.5" cy="467.5" r="2.35" fill="url(#mgZ)"/>
<circle cx="636.3" cy="471.6" r="2.69" fill="url(#mgZ)"/>
<circle cx="624.6" cy="489.4" r="2.69" fill="url(#mgZ)"/>
<circle cx="648.3" cy="489.7" r="2.58" fill="url(#mgZ)"/>
<circle cx="636" cy="478" r="2.24" fill="url(#mgZ)"/>
<circle cx="605" cy="440.4" r="3.36" fill="url(#mgG)"/>
<circle cx="608" cy="442.8" r="3.92" fill="url(#mgG)"/>
<circle cx="610.3" cy="445.1" r="3.36" fill="url(#mgG)"/>
<circle cx="629.3" cy="439.8" r="2.58" fill="url(#mgG)"/>
<circle cx="643.4" cy="440.4" r="2.69" fill="url(#mgG)"/>
<circle cx="636.3" cy="444.2" r="2.58" fill="url(#mgG)"/>
<circle cx="662.7" cy="443.4" r="3.7" fill="url(#mgG)"/>
<circle cx="666.5" cy="439.5" r="3.58" fill="url(#mgG)"/>
<circle cx="670.3" cy="438.2" r="2.91" fill="url(#mgD)"/>
<circle cx="617.9" cy="455.6" r="3.36" fill="url(#mgG)"/>
<circle cx="629.6" cy="455.1" r="2.46" fill="url(#mgR)"/>
<circle cx="643.1" cy="454.8" r="2.58" fill="url(#mgR)"/>
<circle cx="624.9" cy="459.1" r="3.58" fill="url(#mgR)"/>
<circle cx="647.7" cy="458.9" r="3.7" fill="url(#mgR)"/>
<circle cx="636.3" cy="461.5" r="3.14" fill="url(#mgR)"/>
<circle cx="653.3" cy="454.2" r="3.36" fill="url(#mgG)"/>
<circle cx="661.5" cy="458.6" r="2.02" fill="url(#mgR)"/>
<circle cx="612.6" cy="469.5" r="2.24" fill="url(#mgR)"/>
<circle cx="628.4" cy="475.9" r="2.46" fill="url(#mgR)"/>
<circle cx="624.3" cy="478.9" r="3.92" fill="url(#mgR)"/>
<circle cx="605.6" cy="481.8" r="3.7" fill="url(#mgG)"/>
<circle cx="610.6" cy="485" r="3.02" fill="url(#mgR)"/>
<circle cx="609.1" cy="490" r="3.7" fill="url(#mgG)"/>
<circle cx="617.9" cy="486.8" r="3.14" fill="url(#mgG)"/>
<circle cx="617.3" cy="491.1" r="3.14" fill="url(#mgR)"/>
<circle cx="628.4" cy="492" r="2.58" fill="url(#mgR)"/>
<circle cx="621.4" cy="497" r="2.46" fill="url(#mgR)"/>
<circle cx="636" cy="488.2" r="3.14" fill="url(#mgR)"/>
<circle cx="646.3" cy="481.8" r="2.8" fill="url(#mgR)"/>
<circle cx="644" cy="476" r="3.36" fill="url(#mgG)"/>
<circle cx="661.5" cy="470.1" r="3.14" fill="url(#mgR)"/>
<circle cx="665.9" cy="477.4" r="3.14" fill="url(#mgG)"/>
<circle cx="655.1" cy="485.9" r="3.58" fill="url(#mgG)"/>
<circle cx="661.5" cy="486.8" r="4.26" fill="url(#mgG)"/>
<circle cx="669.7" cy="487" r="4.26" fill="url(#mgD)"/>
<circle cx="662.7" cy="491.1" r="3.36" fill="url(#mgG)"/>
<circle cx="656" cy="490.9" r="3.14" fill="url(#mgR)"/>
<circle cx="644" cy="491.7" r="2.8" fill="url(#mgR)"/>
<circle cx="651.5" cy="496.4" r="2.8" fill="url(#mgR)"/>
<circle cx="646.3" cy="497.6" r="2.24" fill="url(#mgR)"/>
<circle cx="630" cy="466" r="2.24" fill="url(#mgR)"/>
<circle cx="642" cy="466" r="2.24" fill="url(#mgR)"/>
<circle cx="630" cy="483" r="2.46" fill="url(#mgR)"/>
<circle cx="642" cy="483" r="2.46" fill="url(#mgR)"/>
<circle cx="618" cy="474" r="2.24" fill="url(#mgR)"/>
<circle cx="654" cy="472" r="2.46" fill="url(#mgR)"/>
<circle cx="608" cy="452" r="2.69" fill="url(#mgG)"/>
<circle cx="663" cy="451" r="2.91" fill="url(#mgG)"/>
<circle cx="604" cy="470" r="2.91" fill="url(#mgG)"/>
<circle cx="670" cy="470" r="2.69" fill="url(#mgG)"/>
<circle cx="615" cy="449.8" r="3.58" fill="url(#mgN)"/>
<circle cx="635.8" cy="449.5" r="3.14" fill="url(#mgC)"/>
<circle cx="607.4" cy="459.1" r="2.02" fill="url(#mgN)"/>
<circle cx="653.9" cy="477.4" r="3.36" fill="url(#mgN)"/>
<circle cx="623.4" cy="443.6" r="2.46" fill="url(#mgW)"/>
<circle cx="648.9" cy="443.4" r="2.58" fill="url(#mgW)"/>
<circle cx="616.1" cy="444.2" r="3.7" fill="url(#mgW)"/>
<circle cx="621.4" cy="454.5" r="3.92" fill="url(#mgW)"/>
<circle cx="658.6" cy="449.5" r="3.7" fill="url(#mgW)"/>
<circle cx="603.3" cy="459.7" r="2.46" fill="url(#mgW)"/>
<circle cx="609.7" cy="473.6" r="3.7" fill="url(#mgW)"/>
<circle cx="636.3" cy="493.5" r="2.91" fill="url(#mgW)"/>
<circle cx="648.6" cy="476.8" r="4.26" fill="url(#mgW)"/>
<circle cx="631" cy="459" r="2.02" fill="url(#mgW)"/>
<circle cx="652" cy="448" r="2.24" fill="url(#mgW)"/>
</g>
<rect x="600.4" y="436.4" width="71.3" height="62.8" fill="none" stroke="#444" stroke-width="1.3"/>
<text x="593.9" y="622.3" font-size="12.4" text-anchor="middle" fill="#0a0a0a">Radial distance (&#197;)</text>
<text x="489.2" y="515.6" font-size="12.2" text-anchor="middle" fill="#0a0a0a" transform="rotate(-90 489.2 515.6)">|FT<tspan font-style="italic">k</tspan><tspan font-size="8" dy="-4.5">2</tspan><tspan dy="4.5">&#967;(</tspan><tspan font-style="italic">k</tspan>)|(&#197;<tspan font-size="8" dy="-4.5">-3</tspan><tspan dy="4.5">)</tspan></text>
<text x="475.6" y="434" font-size="16.5" text-anchor="start" font-weight="bold" fill="#000">i</text>
<line x1="616.7" y1="553.6" x2="635.6" y2="553.6" stroke="#5e9e96" stroke-width="1.2"/>
<text x="638.7" y="555.4" font-size="12.3" text-anchor="start" fill="#0a0a0a">fit</text>
<circle cx="625.5" cy="568.4" r="2.3" fill="none" stroke="#d8d8d8" stroke-width="1"/>
<text x="638.7" y="571" font-size="12.3" text-anchor="start" fill="#0a0a0a">data</text>
</svg>
</body></html>
